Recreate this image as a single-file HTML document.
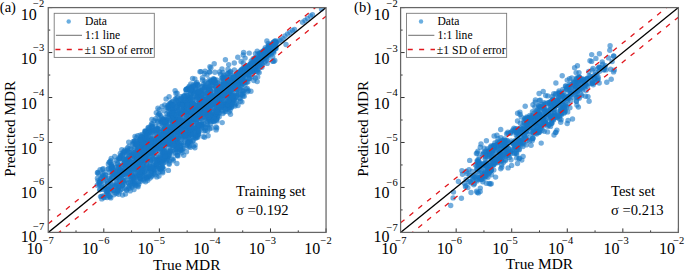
<!DOCTYPE html><html><head><meta charset="utf-8"><style>html,body{margin:0;padding:0;background:#fff;}svg{display:block}</style></head><body><svg xmlns="http://www.w3.org/2000/svg" width="685" height="270" viewBox="0 0 685 270" font-family="Liberation Serif, serif" fill="#000">
<defs><clipPath id="clipa"><rect x="48.25" y="7.6" width="277.8" height="224.8"/></clipPath><clipPath id="clipb"><rect x="400.6" y="7.6" width="277.79999999999995" height="224.8"/></clipPath></defs>
<g clip-path="url(#clipa)" fill="rgb(22,118,198)" fill-opacity="0.6"><circle cx="209.9" cy="71.9" r="2.7"/><circle cx="204.5" cy="104.4" r="2.7"/><circle cx="132.7" cy="181.9" r="2.7"/><circle cx="148.9" cy="151.6" r="2.7"/><circle cx="201.2" cy="100.6" r="2.7"/><circle cx="223.6" cy="88.9" r="2.7"/><circle cx="250.4" cy="66.1" r="2.7"/><circle cx="153.2" cy="150.4" r="2.7"/><circle cx="242.7" cy="91.1" r="2.7"/><circle cx="131.5" cy="154.8" r="2.7"/><circle cx="197.6" cy="123.7" r="2.7"/><circle cx="243.7" cy="93.3" r="2.7"/><circle cx="216.7" cy="127.9" r="2.7"/><circle cx="134.6" cy="161.9" r="2.7"/><circle cx="148.4" cy="149.2" r="2.7"/><circle cx="231.7" cy="98.8" r="2.7"/><circle cx="209.8" cy="118.6" r="2.7"/><circle cx="209.4" cy="89.4" r="2.7"/><circle cx="209.3" cy="71.9" r="2.7"/><circle cx="246.3" cy="67.3" r="2.7"/><circle cx="234.8" cy="84.0" r="2.7"/><circle cx="177.4" cy="97.6" r="2.7"/><circle cx="104.2" cy="182.1" r="2.7"/><circle cx="198.7" cy="133.9" r="2.7"/><circle cx="148.0" cy="176.6" r="2.7"/><circle cx="255.5" cy="53.6" r="2.7"/><circle cx="249.8" cy="71.0" r="2.7"/><circle cx="153.5" cy="170.1" r="2.7"/><circle cx="192.6" cy="78.5" r="2.7"/><circle cx="194.9" cy="116.0" r="2.7"/><circle cx="166.2" cy="136.7" r="2.7"/><circle cx="206.5" cy="101.8" r="2.7"/><circle cx="258.9" cy="61.9" r="2.7"/><circle cx="175.8" cy="115.3" r="2.7"/><circle cx="230.3" cy="72.2" r="2.7"/><circle cx="187.5" cy="126.3" r="2.7"/><circle cx="213.7" cy="93.2" r="2.7"/><circle cx="116.8" cy="177.5" r="2.7"/><circle cx="245.1" cy="68.1" r="2.7"/><circle cx="239.4" cy="78.5" r="2.7"/><circle cx="146.1" cy="152.1" r="2.7"/><circle cx="253.2" cy="58.8" r="2.7"/><circle cx="231.4" cy="107.1" r="2.7"/><circle cx="137.8" cy="163.3" r="2.7"/><circle cx="194.1" cy="109.6" r="2.7"/><circle cx="150.6" cy="153.5" r="2.7"/><circle cx="179.1" cy="127.4" r="2.7"/><circle cx="108.3" cy="188.7" r="2.7"/><circle cx="187.7" cy="144.3" r="2.7"/><circle cx="141.3" cy="151.1" r="2.7"/><circle cx="261.7" cy="51.9" r="2.7"/><circle cx="238.3" cy="84.3" r="2.7"/><circle cx="112.5" cy="169.7" r="2.7"/><circle cx="275.3" cy="45.3" r="2.7"/><circle cx="133.6" cy="178.2" r="2.7"/><circle cx="234.8" cy="82.4" r="2.7"/><circle cx="257.2" cy="69.8" r="2.7"/><circle cx="214.9" cy="72.3" r="2.7"/><circle cx="166.6" cy="156.8" r="2.7"/><circle cx="206.5" cy="111.1" r="2.7"/><circle cx="123.1" cy="158.2" r="2.7"/><circle cx="122.4" cy="185.3" r="2.7"/><circle cx="151.1" cy="138.7" r="2.7"/><circle cx="244.2" cy="79.5" r="2.7"/><circle cx="181.8" cy="127.1" r="2.7"/><circle cx="182.6" cy="132.9" r="2.7"/><circle cx="207.1" cy="92.8" r="2.7"/><circle cx="232.7" cy="84.5" r="2.7"/><circle cx="192.1" cy="136.3" r="2.7"/><circle cx="168.8" cy="135.4" r="2.7"/><circle cx="146.1" cy="158.4" r="2.7"/><circle cx="118.6" cy="165.2" r="2.7"/><circle cx="181.5" cy="143.4" r="2.7"/><circle cx="250.0" cy="71.1" r="2.7"/><circle cx="162.7" cy="172.7" r="2.7"/><circle cx="130.2" cy="148.4" r="2.7"/><circle cx="98.2" cy="173.6" r="2.7"/><circle cx="163.1" cy="138.2" r="2.7"/><circle cx="182.5" cy="122.8" r="2.7"/><circle cx="140.9" cy="173.7" r="2.7"/><circle cx="144.2" cy="142.7" r="2.7"/><circle cx="214.5" cy="108.4" r="2.7"/><circle cx="225.4" cy="85.6" r="2.7"/><circle cx="176.6" cy="140.5" r="2.7"/><circle cx="161.5" cy="136.8" r="2.7"/><circle cx="178.3" cy="113.8" r="2.7"/><circle cx="207.7" cy="108.6" r="2.7"/><circle cx="197.7" cy="85.4" r="2.7"/><circle cx="164.2" cy="159.7" r="2.7"/><circle cx="215.0" cy="117.6" r="2.7"/><circle cx="130.3" cy="182.1" r="2.7"/><circle cx="183.6" cy="144.9" r="2.7"/><circle cx="107.6" cy="183.1" r="2.7"/><circle cx="201.4" cy="124.2" r="2.7"/><circle cx="159.7" cy="160.5" r="2.7"/><circle cx="183.1" cy="101.6" r="2.7"/><circle cx="110.5" cy="179.5" r="2.7"/><circle cx="256.6" cy="59.3" r="2.7"/><circle cx="160.7" cy="155.1" r="2.7"/><circle cx="200.3" cy="114.4" r="2.7"/><circle cx="190.1" cy="93.1" r="2.7"/><circle cx="190.8" cy="97.7" r="2.7"/><circle cx="193.4" cy="146.2" r="2.7"/><circle cx="151.5" cy="123.9" r="2.7"/><circle cx="124.4" cy="162.9" r="2.7"/><circle cx="202.2" cy="86.8" r="2.7"/><circle cx="151.2" cy="173.6" r="2.7"/><circle cx="195.4" cy="85.5" r="2.7"/><circle cx="110.1" cy="185.9" r="2.7"/><circle cx="240.4" cy="101.2" r="2.7"/><circle cx="238.5" cy="94.0" r="2.7"/><circle cx="215.4" cy="115.1" r="2.7"/><circle cx="211.9" cy="98.0" r="2.7"/><circle cx="238.8" cy="78.0" r="2.7"/><circle cx="117.8" cy="190.7" r="2.7"/><circle cx="174.5" cy="118.0" r="2.7"/><circle cx="183.9" cy="107.8" r="2.7"/><circle cx="196.1" cy="138.0" r="2.7"/><circle cx="139.7" cy="139.2" r="2.7"/><circle cx="186.8" cy="115.5" r="2.7"/><circle cx="197.7" cy="125.3" r="2.7"/><circle cx="264.5" cy="58.3" r="2.7"/><circle cx="230.3" cy="88.0" r="2.7"/><circle cx="157.9" cy="108.3" r="2.7"/><circle cx="136.2" cy="163.6" r="2.7"/><circle cx="253.0" cy="66.1" r="2.7"/><circle cx="176.9" cy="163.5" r="2.7"/><circle cx="210.7" cy="123.8" r="2.7"/><circle cx="133.1" cy="166.2" r="2.7"/><circle cx="244.9" cy="72.2" r="2.7"/><circle cx="146.9" cy="164.7" r="2.7"/><circle cx="110.9" cy="168.5" r="2.7"/><circle cx="177.2" cy="151.8" r="2.7"/><circle cx="248.9" cy="71.2" r="2.7"/><circle cx="156.8" cy="130.5" r="2.7"/><circle cx="123.5" cy="181.3" r="2.7"/><circle cx="163.9" cy="133.6" r="2.7"/><circle cx="213.1" cy="120.8" r="2.7"/><circle cx="193.9" cy="93.9" r="2.7"/><circle cx="222.0" cy="87.7" r="2.7"/><circle cx="166.1" cy="98.9" r="2.7"/><circle cx="139.5" cy="143.5" r="2.7"/><circle cx="164.1" cy="159.5" r="2.7"/><circle cx="177.8" cy="143.9" r="2.7"/><circle cx="217.4" cy="86.7" r="2.7"/><circle cx="140.3" cy="168.4" r="2.7"/><circle cx="240.5" cy="79.9" r="2.7"/><circle cx="149.2" cy="168.8" r="2.7"/><circle cx="181.5" cy="112.9" r="2.7"/><circle cx="177.3" cy="122.5" r="2.7"/><circle cx="268.3" cy="45.9" r="2.7"/><circle cx="217.2" cy="118.3" r="2.7"/><circle cx="229.8" cy="86.4" r="2.7"/><circle cx="202.5" cy="94.0" r="2.7"/><circle cx="179.6" cy="125.5" r="2.7"/><circle cx="145.6" cy="155.6" r="2.7"/><circle cx="216.0" cy="99.0" r="2.7"/><circle cx="148.9" cy="146.3" r="2.7"/><circle cx="213.6" cy="82.2" r="2.7"/><circle cx="255.6" cy="66.4" r="2.7"/><circle cx="162.7" cy="159.8" r="2.7"/><circle cx="206.2" cy="104.6" r="2.7"/><circle cx="161.3" cy="151.5" r="2.7"/><circle cx="173.8" cy="111.4" r="2.7"/><circle cx="239.3" cy="72.5" r="2.7"/><circle cx="216.6" cy="103.4" r="2.7"/><circle cx="241.0" cy="80.3" r="2.7"/><circle cx="227.5" cy="85.0" r="2.7"/><circle cx="265.8" cy="53.9" r="2.7"/><circle cx="232.9" cy="97.0" r="2.7"/><circle cx="223.1" cy="91.5" r="2.7"/><circle cx="171.3" cy="114.7" r="2.7"/><circle cx="275.9" cy="42.9" r="2.7"/><circle cx="129.6" cy="168.7" r="2.7"/><circle cx="259.3" cy="53.3" r="2.7"/><circle cx="171.2" cy="137.2" r="2.7"/><circle cx="187.5" cy="95.6" r="2.7"/><circle cx="235.1" cy="106.1" r="2.7"/><circle cx="193.3" cy="90.5" r="2.7"/><circle cx="151.1" cy="151.3" r="2.7"/><circle cx="266.4" cy="60.2" r="2.7"/><circle cx="183.9" cy="105.0" r="2.7"/><circle cx="157.9" cy="160.1" r="2.7"/><circle cx="195.5" cy="127.9" r="2.7"/><circle cx="222.2" cy="89.8" r="2.7"/><circle cx="192.6" cy="114.5" r="2.7"/><circle cx="252.9" cy="68.6" r="2.7"/><circle cx="154.5" cy="144.4" r="2.7"/><circle cx="178.6" cy="138.1" r="2.7"/><circle cx="173.0" cy="111.3" r="2.7"/><circle cx="177.7" cy="107.8" r="2.7"/><circle cx="184.9" cy="137.2" r="2.7"/><circle cx="259.2" cy="72.6" r="2.7"/><circle cx="132.9" cy="164.5" r="2.7"/><circle cx="223.3" cy="84.1" r="2.7"/><circle cx="199.3" cy="109.2" r="2.7"/><circle cx="237.7" cy="75.8" r="2.7"/><circle cx="249.7" cy="67.6" r="2.7"/><circle cx="167.9" cy="143.1" r="2.7"/><circle cx="118.8" cy="187.1" r="2.7"/><circle cx="133.2" cy="181.9" r="2.7"/><circle cx="230.7" cy="91.3" r="2.7"/><circle cx="220.6" cy="102.6" r="2.7"/><circle cx="128.2" cy="158.5" r="2.7"/><circle cx="184.2" cy="96.3" r="2.7"/><circle cx="102.4" cy="169.5" r="2.7"/><circle cx="230.8" cy="95.1" r="2.7"/><circle cx="261.2" cy="54.3" r="2.7"/><circle cx="214.6" cy="114.5" r="2.7"/><circle cx="200.6" cy="111.6" r="2.7"/><circle cx="145.0" cy="149.9" r="2.7"/><circle cx="162.6" cy="153.1" r="2.7"/><circle cx="172.8" cy="101.3" r="2.7"/><circle cx="174.1" cy="124.9" r="2.7"/><circle cx="201.0" cy="71.6" r="2.7"/><circle cx="252.4" cy="61.7" r="2.7"/><circle cx="201.7" cy="105.7" r="2.7"/><circle cx="168.6" cy="151.7" r="2.7"/><circle cx="156.5" cy="165.8" r="2.7"/><circle cx="146.3" cy="177.1" r="2.7"/><circle cx="168.4" cy="170.4" r="2.7"/><circle cx="121.2" cy="176.1" r="2.7"/><circle cx="152.2" cy="166.6" r="2.7"/><circle cx="163.5" cy="122.6" r="2.7"/><circle cx="228.2" cy="91.0" r="2.7"/><circle cx="223.9" cy="84.3" r="2.7"/><circle cx="117.6" cy="163.7" r="2.7"/><circle cx="104.1" cy="172.2" r="2.7"/><circle cx="237.7" cy="89.1" r="2.7"/><circle cx="230.9" cy="105.4" r="2.7"/><circle cx="111.9" cy="166.8" r="2.7"/><circle cx="151.4" cy="139.4" r="2.7"/><circle cx="216.3" cy="119.5" r="2.7"/><circle cx="240.0" cy="85.5" r="2.7"/><circle cx="236.1" cy="84.2" r="2.7"/><circle cx="179.4" cy="124.1" r="2.7"/><circle cx="186.2" cy="124.1" r="2.7"/><circle cx="146.6" cy="156.7" r="2.7"/><circle cx="176.2" cy="146.8" r="2.7"/><circle cx="152.9" cy="158.2" r="2.7"/><circle cx="218.4" cy="101.4" r="2.7"/><circle cx="166.9" cy="123.0" r="2.7"/><circle cx="252.6" cy="71.8" r="2.7"/><circle cx="180.8" cy="112.2" r="2.7"/><circle cx="194.9" cy="137.9" r="2.7"/><circle cx="136.3" cy="156.4" r="2.7"/><circle cx="222.1" cy="93.5" r="2.7"/><circle cx="144.6" cy="154.3" r="2.7"/><circle cx="174.5" cy="121.7" r="2.7"/><circle cx="158.7" cy="159.0" r="2.7"/><circle cx="224.3" cy="88.0" r="2.7"/><circle cx="246.3" cy="89.1" r="2.7"/><circle cx="231.1" cy="100.9" r="2.7"/><circle cx="267.2" cy="63.4" r="2.7"/><circle cx="179.5" cy="122.4" r="2.7"/><circle cx="124.4" cy="174.1" r="2.7"/><circle cx="156.8" cy="176.9" r="2.7"/><circle cx="172.6" cy="127.0" r="2.7"/><circle cx="230.7" cy="86.8" r="2.7"/><circle cx="235.8" cy="80.7" r="2.7"/><circle cx="169.4" cy="114.0" r="2.7"/><circle cx="218.6" cy="105.1" r="2.7"/><circle cx="239.5" cy="98.0" r="2.7"/><circle cx="196.9" cy="114.0" r="2.7"/><circle cx="193.3" cy="107.1" r="2.7"/><circle cx="202.6" cy="100.7" r="2.7"/><circle cx="154.6" cy="130.1" r="2.7"/><circle cx="161.0" cy="134.9" r="2.7"/><circle cx="128.1" cy="169.9" r="2.7"/><circle cx="209.9" cy="115.8" r="2.7"/><circle cx="243.7" cy="90.9" r="2.7"/><circle cx="111.4" cy="166.3" r="2.7"/><circle cx="262.0" cy="60.3" r="2.7"/><circle cx="164.7" cy="122.7" r="2.7"/><circle cx="206.5" cy="87.6" r="2.7"/><circle cx="139.0" cy="160.0" r="2.7"/><circle cx="147.0" cy="138.3" r="2.7"/><circle cx="243.6" cy="52.5" r="2.7"/><circle cx="168.5" cy="131.8" r="2.7"/><circle cx="116.6" cy="193.2" r="2.7"/><circle cx="119.8" cy="165.7" r="2.7"/><circle cx="147.3" cy="154.0" r="2.7"/><circle cx="107.6" cy="189.5" r="2.7"/><circle cx="159.5" cy="142.3" r="2.7"/><circle cx="208.2" cy="114.5" r="2.7"/><circle cx="141.7" cy="150.4" r="2.7"/><circle cx="140.4" cy="178.7" r="2.7"/><circle cx="180.6" cy="100.4" r="2.7"/><circle cx="196.1" cy="114.6" r="2.7"/><circle cx="137.7" cy="135.8" r="2.7"/><circle cx="213.5" cy="82.6" r="2.7"/><circle cx="173.6" cy="119.2" r="2.7"/><circle cx="137.0" cy="157.2" r="2.7"/><circle cx="155.0" cy="144.1" r="2.7"/><circle cx="134.3" cy="148.3" r="2.7"/><circle cx="180.4" cy="148.3" r="2.7"/><circle cx="261.3" cy="55.0" r="2.7"/><circle cx="101.7" cy="196.2" r="2.7"/><circle cx="165.0" cy="123.9" r="2.7"/><circle cx="143.3" cy="136.1" r="2.7"/><circle cx="182.8" cy="120.9" r="2.7"/><circle cx="223.0" cy="107.3" r="2.7"/><circle cx="222.8" cy="94.7" r="2.7"/><circle cx="213.7" cy="114.3" r="2.7"/><circle cx="203.7" cy="107.8" r="2.7"/><circle cx="267.8" cy="53.9" r="2.7"/><circle cx="113.2" cy="169.9" r="2.7"/><circle cx="123.3" cy="159.4" r="2.7"/><circle cx="223.7" cy="82.9" r="2.7"/><circle cx="142.4" cy="150.2" r="2.7"/><circle cx="228.0" cy="69.3" r="2.7"/><circle cx="158.9" cy="168.2" r="2.7"/><circle cx="157.4" cy="161.9" r="2.7"/><circle cx="144.0" cy="162.0" r="2.7"/><circle cx="223.5" cy="92.0" r="2.7"/><circle cx="231.0" cy="99.9" r="2.7"/><circle cx="205.1" cy="71.3" r="2.7"/><circle cx="211.5" cy="128.0" r="2.7"/><circle cx="200.7" cy="116.8" r="2.7"/><circle cx="169.5" cy="127.4" r="2.7"/><circle cx="172.0" cy="151.1" r="2.7"/><circle cx="162.4" cy="135.2" r="2.7"/><circle cx="165.9" cy="135.3" r="2.7"/><circle cx="177.1" cy="93.1" r="2.7"/><circle cx="223.4" cy="102.5" r="2.7"/><circle cx="128.0" cy="157.9" r="2.7"/><circle cx="133.2" cy="184.3" r="2.7"/><circle cx="236.3" cy="74.9" r="2.7"/><circle cx="192.2" cy="90.1" r="2.7"/><circle cx="112.4" cy="184.9" r="2.7"/><circle cx="117.3" cy="191.0" r="2.7"/><circle cx="200.9" cy="119.1" r="2.7"/><circle cx="161.1" cy="141.6" r="2.7"/><circle cx="187.3" cy="122.9" r="2.7"/><circle cx="146.9" cy="152.5" r="2.7"/><circle cx="222.5" cy="93.6" r="2.7"/><circle cx="269.6" cy="51.5" r="2.7"/><circle cx="99.5" cy="181.6" r="2.7"/><circle cx="183.8" cy="135.5" r="2.7"/><circle cx="137.0" cy="150.6" r="2.7"/><circle cx="107.3" cy="191.8" r="2.7"/><circle cx="249.8" cy="67.0" r="2.7"/><circle cx="208.7" cy="90.7" r="2.7"/><circle cx="147.3" cy="178.6" r="2.7"/><circle cx="178.6" cy="119.2" r="2.7"/><circle cx="186.0" cy="89.9" r="2.7"/><circle cx="203.6" cy="84.2" r="2.7"/><circle cx="242.0" cy="83.6" r="2.7"/><circle cx="120.2" cy="170.2" r="2.7"/><circle cx="119.7" cy="170.1" r="2.7"/><circle cx="159.7" cy="143.8" r="2.7"/><circle cx="233.4" cy="78.9" r="2.7"/><circle cx="243.2" cy="79.1" r="2.7"/><circle cx="135.7" cy="161.4" r="2.7"/><circle cx="185.8" cy="128.8" r="2.7"/><circle cx="207.8" cy="111.0" r="2.7"/><circle cx="234.0" cy="100.2" r="2.7"/><circle cx="99.6" cy="185.1" r="2.7"/><circle cx="230.1" cy="92.8" r="2.7"/><circle cx="179.2" cy="105.2" r="2.7"/><circle cx="163.0" cy="155.2" r="2.7"/><circle cx="184.7" cy="105.9" r="2.7"/><circle cx="242.0" cy="81.7" r="2.7"/><circle cx="197.5" cy="135.2" r="2.7"/><circle cx="156.8" cy="159.2" r="2.7"/><circle cx="132.1" cy="187.2" r="2.7"/><circle cx="181.5" cy="103.9" r="2.7"/><circle cx="251.2" cy="67.2" r="2.7"/><circle cx="193.3" cy="140.5" r="2.7"/><circle cx="192.1" cy="96.9" r="2.7"/><circle cx="118.6" cy="171.5" r="2.7"/><circle cx="186.1" cy="104.4" r="2.7"/><circle cx="116.9" cy="175.2" r="2.7"/><circle cx="228.3" cy="88.2" r="2.7"/><circle cx="198.7" cy="106.2" r="2.7"/><circle cx="181.3" cy="98.1" r="2.7"/><circle cx="223.8" cy="75.2" r="2.7"/><circle cx="119.1" cy="158.6" r="2.7"/><circle cx="246.6" cy="74.3" r="2.7"/><circle cx="158.7" cy="137.3" r="2.7"/><circle cx="253.4" cy="62.1" r="2.7"/><circle cx="145.6" cy="181.8" r="2.7"/><circle cx="213.6" cy="97.5" r="2.7"/><circle cx="199.7" cy="114.5" r="2.7"/><circle cx="191.1" cy="129.4" r="2.7"/><circle cx="268.5" cy="48.6" r="2.7"/><circle cx="142.3" cy="134.5" r="2.7"/><circle cx="134.4" cy="183.2" r="2.7"/><circle cx="263.6" cy="57.9" r="2.7"/><circle cx="257.3" cy="59.6" r="2.7"/><circle cx="167.7" cy="137.9" r="2.7"/><circle cx="218.8" cy="110.6" r="2.7"/><circle cx="187.3" cy="123.1" r="2.7"/><circle cx="137.2" cy="161.2" r="2.7"/><circle cx="167.2" cy="143.8" r="2.7"/><circle cx="153.4" cy="158.7" r="2.7"/><circle cx="185.1" cy="121.8" r="2.7"/><circle cx="212.5" cy="119.6" r="2.7"/><circle cx="223.2" cy="87.6" r="2.7"/><circle cx="199.0" cy="116.8" r="2.7"/><circle cx="177.4" cy="154.9" r="2.7"/><circle cx="218.1" cy="101.4" r="2.7"/><circle cx="175.1" cy="90.6" r="2.7"/><circle cx="136.7" cy="153.5" r="2.7"/><circle cx="224.2" cy="107.6" r="2.7"/><circle cx="146.0" cy="139.5" r="2.7"/><circle cx="167.7" cy="155.1" r="2.7"/><circle cx="169.2" cy="144.1" r="2.7"/><circle cx="183.9" cy="126.2" r="2.7"/><circle cx="208.7" cy="107.0" r="2.7"/><circle cx="129.1" cy="173.0" r="2.7"/><circle cx="196.7" cy="128.1" r="2.7"/><circle cx="184.2" cy="142.5" r="2.7"/><circle cx="190.7" cy="108.5" r="2.7"/><circle cx="217.3" cy="109.2" r="2.7"/><circle cx="207.5" cy="130.9" r="2.7"/><circle cx="256.1" cy="59.6" r="2.7"/><circle cx="265.9" cy="55.5" r="2.7"/><circle cx="142.0" cy="141.1" r="2.7"/><circle cx="267.9" cy="58.3" r="2.7"/><circle cx="219.8" cy="99.9" r="2.7"/><circle cx="116.1" cy="178.9" r="2.7"/><circle cx="139.4" cy="147.7" r="2.7"/><circle cx="249.0" cy="68.2" r="2.7"/><circle cx="237.1" cy="95.1" r="2.7"/><circle cx="266.9" cy="41.0" r="2.7"/><circle cx="189.9" cy="134.1" r="2.7"/><circle cx="161.7" cy="168.2" r="2.7"/><circle cx="220.0" cy="94.3" r="2.7"/><circle cx="190.4" cy="131.2" r="2.7"/><circle cx="210.7" cy="85.3" r="2.7"/><circle cx="217.4" cy="115.9" r="2.7"/><circle cx="132.0" cy="179.2" r="2.7"/><circle cx="197.2" cy="136.6" r="2.7"/><circle cx="199.0" cy="102.2" r="2.7"/><circle cx="126.6" cy="151.1" r="2.7"/><circle cx="207.4" cy="121.6" r="2.7"/><circle cx="119.2" cy="158.8" r="2.7"/><circle cx="148.1" cy="154.3" r="2.7"/><circle cx="158.0" cy="115.3" r="2.7"/><circle cx="192.2" cy="119.4" r="2.7"/><circle cx="272.3" cy="48.2" r="2.7"/><circle cx="150.8" cy="143.4" r="2.7"/><circle cx="138.9" cy="163.7" r="2.7"/><circle cx="235.4" cy="79.7" r="2.7"/><circle cx="251.9" cy="65.0" r="2.7"/><circle cx="196.8" cy="82.5" r="2.7"/><circle cx="159.0" cy="114.3" r="2.7"/><circle cx="221.5" cy="96.3" r="2.7"/><circle cx="201.6" cy="110.1" r="2.7"/><circle cx="246.9" cy="67.7" r="2.7"/><circle cx="221.1" cy="99.3" r="2.7"/><circle cx="249.7" cy="74.4" r="2.7"/><circle cx="249.2" cy="67.7" r="2.7"/><circle cx="232.3" cy="81.6" r="2.7"/><circle cx="182.1" cy="127.0" r="2.7"/><circle cx="248.8" cy="70.8" r="2.7"/><circle cx="196.4" cy="92.6" r="2.7"/><circle cx="209.3" cy="97.2" r="2.7"/><circle cx="266.5" cy="54.2" r="2.7"/><circle cx="194.2" cy="129.6" r="2.7"/><circle cx="118.2" cy="160.7" r="2.7"/><circle cx="201.7" cy="105.0" r="2.7"/><circle cx="231.8" cy="83.1" r="2.7"/><circle cx="264.2" cy="50.2" r="2.7"/><circle cx="229.7" cy="83.4" r="2.7"/><circle cx="172.4" cy="125.4" r="2.7"/><circle cx="250.7" cy="67.1" r="2.7"/><circle cx="214.1" cy="99.3" r="2.7"/><circle cx="182.6" cy="101.3" r="2.7"/><circle cx="118.3" cy="177.8" r="2.7"/><circle cx="191.3" cy="108.3" r="2.7"/><circle cx="172.2" cy="145.0" r="2.7"/><circle cx="193.6" cy="103.8" r="2.7"/><circle cx="124.6" cy="152.2" r="2.7"/><circle cx="198.4" cy="131.4" r="2.7"/><circle cx="176.9" cy="141.9" r="2.7"/><circle cx="225.4" cy="92.3" r="2.7"/><circle cx="232.1" cy="80.6" r="2.7"/><circle cx="111.3" cy="168.6" r="2.7"/><circle cx="144.9" cy="131.0" r="2.7"/><circle cx="223.3" cy="85.3" r="2.7"/><circle cx="213.6" cy="88.7" r="2.7"/><circle cx="272.3" cy="47.0" r="2.7"/><circle cx="137.3" cy="149.8" r="2.7"/><circle cx="118.7" cy="167.0" r="2.7"/><circle cx="172.8" cy="109.9" r="2.7"/><circle cx="198.4" cy="126.4" r="2.7"/><circle cx="260.7" cy="54.2" r="2.7"/><circle cx="248.3" cy="74.9" r="2.7"/><circle cx="139.9" cy="160.0" r="2.7"/><circle cx="131.5" cy="174.3" r="2.7"/><circle cx="134.0" cy="157.0" r="2.7"/><circle cx="213.6" cy="104.0" r="2.7"/><circle cx="202.3" cy="114.0" r="2.7"/><circle cx="163.5" cy="138.3" r="2.7"/><circle cx="194.9" cy="147.7" r="2.7"/><circle cx="210.6" cy="115.4" r="2.7"/><circle cx="244.7" cy="68.7" r="2.7"/><circle cx="210.7" cy="91.2" r="2.7"/><circle cx="171.2" cy="136.6" r="2.7"/><circle cx="172.3" cy="122.9" r="2.7"/><circle cx="255.5" cy="57.5" r="2.7"/><circle cx="113.9" cy="194.8" r="2.7"/><circle cx="143.3" cy="179.3" r="2.7"/><circle cx="202.6" cy="113.2" r="2.7"/><circle cx="232.8" cy="80.0" r="2.7"/><circle cx="160.1" cy="161.9" r="2.7"/><circle cx="229.5" cy="84.6" r="2.7"/><circle cx="190.9" cy="94.8" r="2.7"/><circle cx="128.4" cy="176.7" r="2.7"/><circle cx="127.8" cy="171.8" r="2.7"/><circle cx="268.4" cy="45.8" r="2.7"/><circle cx="137.9" cy="172.2" r="2.7"/><circle cx="97.2" cy="185.3" r="2.7"/><circle cx="178.1" cy="148.9" r="2.7"/><circle cx="161.4" cy="135.1" r="2.7"/><circle cx="191.1" cy="89.4" r="2.7"/><circle cx="257.8" cy="66.3" r="2.7"/><circle cx="221.5" cy="107.3" r="2.7"/><circle cx="234.3" cy="87.4" r="2.7"/><circle cx="176.6" cy="132.6" r="2.7"/><circle cx="194.9" cy="78.9" r="2.7"/><circle cx="271.2" cy="54.6" r="2.7"/><circle cx="155.8" cy="133.2" r="2.7"/><circle cx="164.9" cy="135.6" r="2.7"/><circle cx="256.3" cy="63.1" r="2.7"/><circle cx="204.4" cy="89.0" r="2.7"/><circle cx="176.2" cy="140.0" r="2.7"/><circle cx="229.6" cy="94.1" r="2.7"/><circle cx="148.7" cy="171.8" r="2.7"/><circle cx="149.7" cy="146.1" r="2.7"/><circle cx="179.1" cy="110.5" r="2.7"/><circle cx="129.1" cy="186.7" r="2.7"/><circle cx="228.7" cy="90.6" r="2.7"/><circle cx="160.2" cy="168.7" r="2.7"/><circle cx="181.3" cy="139.3" r="2.7"/><circle cx="165.1" cy="136.5" r="2.7"/><circle cx="200.4" cy="91.8" r="2.7"/><circle cx="144.6" cy="144.4" r="2.7"/><circle cx="134.2" cy="141.1" r="2.7"/><circle cx="253.2" cy="71.4" r="2.7"/><circle cx="171.0" cy="102.6" r="2.7"/><circle cx="237.7" cy="77.2" r="2.7"/><circle cx="253.8" cy="70.3" r="2.7"/><circle cx="226.7" cy="90.3" r="2.7"/><circle cx="143.2" cy="145.1" r="2.7"/><circle cx="237.1" cy="81.1" r="2.7"/><circle cx="162.8" cy="145.3" r="2.7"/><circle cx="224.6" cy="89.4" r="2.7"/><circle cx="104.4" cy="186.8" r="2.7"/><circle cx="128.3" cy="182.7" r="2.7"/><circle cx="227.2" cy="87.0" r="2.7"/><circle cx="188.2" cy="127.4" r="2.7"/><circle cx="168.6" cy="139.3" r="2.7"/><circle cx="184.4" cy="100.3" r="2.7"/><circle cx="205.4" cy="83.0" r="2.7"/><circle cx="145.9" cy="147.2" r="2.7"/><circle cx="187.2" cy="101.9" r="2.7"/><circle cx="199.4" cy="124.6" r="2.7"/><circle cx="242.4" cy="70.7" r="2.7"/><circle cx="154.0" cy="170.7" r="2.7"/><circle cx="199.0" cy="106.3" r="2.7"/><circle cx="255.3" cy="68.8" r="2.7"/><circle cx="143.8" cy="154.6" r="2.7"/><circle cx="173.9" cy="140.2" r="2.7"/><circle cx="142.2" cy="178.9" r="2.7"/><circle cx="125.2" cy="164.9" r="2.7"/><circle cx="240.5" cy="72.0" r="2.7"/><circle cx="139.7" cy="142.5" r="2.7"/><circle cx="197.3" cy="105.1" r="2.7"/><circle cx="161.5" cy="139.0" r="2.7"/><circle cx="239.4" cy="82.4" r="2.7"/><circle cx="245.8" cy="70.9" r="2.7"/><circle cx="226.5" cy="106.0" r="2.7"/><circle cx="199.9" cy="103.0" r="2.7"/><circle cx="222.7" cy="93.2" r="2.7"/><circle cx="173.1" cy="147.2" r="2.7"/><circle cx="166.6" cy="119.9" r="2.7"/><circle cx="133.7" cy="143.3" r="2.7"/><circle cx="161.0" cy="142.3" r="2.7"/><circle cx="155.8" cy="118.8" r="2.7"/><circle cx="184.6" cy="135.5" r="2.7"/><circle cx="161.3" cy="139.9" r="2.7"/><circle cx="197.3" cy="124.0" r="2.7"/><circle cx="257.4" cy="60.6" r="2.7"/><circle cx="244.7" cy="70.6" r="2.7"/><circle cx="231.0" cy="104.1" r="2.7"/><circle cx="170.8" cy="129.5" r="2.7"/><circle cx="203.8" cy="88.6" r="2.7"/><circle cx="210.2" cy="104.1" r="2.7"/><circle cx="150.1" cy="178.1" r="2.7"/><circle cx="136.4" cy="173.3" r="2.7"/><circle cx="162.6" cy="136.5" r="2.7"/><circle cx="161.8" cy="167.7" r="2.7"/><circle cx="197.0" cy="97.2" r="2.7"/><circle cx="159.2" cy="139.6" r="2.7"/><circle cx="168.9" cy="154.4" r="2.7"/><circle cx="273.7" cy="44.3" r="2.7"/><circle cx="158.1" cy="138.5" r="2.7"/><circle cx="247.6" cy="74.1" r="2.7"/><circle cx="179.8" cy="144.1" r="2.7"/><circle cx="171.0" cy="140.7" r="2.7"/><circle cx="255.2" cy="67.3" r="2.7"/><circle cx="265.0" cy="51.3" r="2.7"/><circle cx="161.2" cy="149.1" r="2.7"/><circle cx="240.4" cy="81.1" r="2.7"/><circle cx="187.5" cy="89.1" r="2.7"/><circle cx="146.6" cy="133.4" r="2.7"/><circle cx="142.0" cy="155.7" r="2.7"/><circle cx="233.3" cy="77.9" r="2.7"/><circle cx="236.6" cy="100.8" r="2.7"/><circle cx="195.6" cy="117.2" r="2.7"/><circle cx="164.8" cy="105.0" r="2.7"/><circle cx="197.3" cy="105.0" r="2.7"/><circle cx="217.6" cy="90.9" r="2.7"/><circle cx="274.8" cy="48.6" r="2.7"/><circle cx="149.0" cy="153.3" r="2.7"/><circle cx="210.1" cy="119.4" r="2.7"/><circle cx="209.5" cy="86.2" r="2.7"/><circle cx="134.0" cy="156.4" r="2.7"/><circle cx="238.4" cy="77.2" r="2.7"/><circle cx="178.4" cy="102.8" r="2.7"/><circle cx="168.9" cy="147.2" r="2.7"/><circle cx="199.7" cy="96.7" r="2.7"/><circle cx="152.3" cy="130.3" r="2.7"/><circle cx="127.3" cy="173.5" r="2.7"/><circle cx="224.7" cy="104.0" r="2.7"/><circle cx="216.5" cy="90.9" r="2.7"/><circle cx="179.6" cy="139.0" r="2.7"/><circle cx="217.8" cy="112.8" r="2.7"/><circle cx="134.6" cy="141.1" r="2.7"/><circle cx="167.9" cy="131.4" r="2.7"/><circle cx="190.9" cy="101.8" r="2.7"/><circle cx="195.8" cy="136.9" r="2.7"/><circle cx="167.8" cy="134.1" r="2.7"/><circle cx="169.6" cy="114.7" r="2.7"/><circle cx="171.9" cy="136.8" r="2.7"/><circle cx="241.2" cy="69.7" r="2.7"/><circle cx="178.4" cy="114.0" r="2.7"/><circle cx="236.4" cy="85.8" r="2.7"/><circle cx="213.3" cy="105.9" r="2.7"/><circle cx="197.9" cy="109.7" r="2.7"/><circle cx="184.9" cy="112.5" r="2.7"/><circle cx="257.0" cy="62.9" r="2.7"/><circle cx="249.9" cy="65.1" r="2.7"/><circle cx="181.0" cy="114.2" r="2.7"/><circle cx="248.9" cy="78.7" r="2.7"/><circle cx="140.8" cy="140.5" r="2.7"/><circle cx="209.1" cy="98.3" r="2.7"/><circle cx="113.3" cy="173.5" r="2.7"/><circle cx="170.7" cy="104.1" r="2.7"/><circle cx="240.2" cy="76.3" r="2.7"/><circle cx="168.7" cy="108.2" r="2.7"/><circle cx="136.0" cy="162.4" r="2.7"/><circle cx="161.7" cy="135.8" r="2.7"/><circle cx="173.1" cy="159.0" r="2.7"/><circle cx="192.9" cy="103.2" r="2.7"/><circle cx="140.7" cy="156.6" r="2.7"/><circle cx="163.5" cy="125.8" r="2.7"/><circle cx="250.9" cy="65.3" r="2.7"/><circle cx="213.5" cy="80.0" r="2.7"/><circle cx="136.5" cy="162.0" r="2.7"/><circle cx="239.1" cy="74.2" r="2.7"/><circle cx="222.8" cy="105.6" r="2.7"/><circle cx="257.7" cy="76.9" r="2.7"/><circle cx="171.9" cy="101.9" r="2.7"/><circle cx="266.7" cy="54.6" r="2.7"/><circle cx="187.7" cy="88.5" r="2.7"/><circle cx="269.1" cy="50.3" r="2.7"/><circle cx="137.8" cy="146.6" r="2.7"/><circle cx="157.6" cy="147.3" r="2.7"/><circle cx="186.2" cy="92.9" r="2.7"/><circle cx="263.9" cy="58.3" r="2.7"/><circle cx="187.2" cy="99.8" r="2.7"/><circle cx="98.1" cy="172.2" r="2.7"/><circle cx="130.8" cy="169.0" r="2.7"/><circle cx="260.1" cy="66.9" r="2.7"/><circle cx="153.4" cy="173.8" r="2.7"/><circle cx="118.8" cy="173.6" r="2.7"/><circle cx="200.0" cy="110.4" r="2.7"/><circle cx="248.4" cy="90.6" r="2.7"/><circle cx="216.1" cy="86.6" r="2.7"/><circle cx="159.4" cy="161.5" r="2.7"/><circle cx="132.0" cy="170.8" r="2.7"/><circle cx="223.0" cy="110.4" r="2.7"/><circle cx="183.7" cy="155.3" r="2.7"/><circle cx="185.4" cy="123.7" r="2.7"/><circle cx="226.5" cy="97.6" r="2.7"/><circle cx="211.0" cy="102.4" r="2.7"/><circle cx="167.3" cy="153.4" r="2.7"/><circle cx="253.9" cy="70.5" r="2.7"/><circle cx="222.9" cy="84.9" r="2.7"/><circle cx="191.8" cy="112.1" r="2.7"/><circle cx="177.0" cy="139.8" r="2.7"/><circle cx="231.8" cy="92.1" r="2.7"/><circle cx="115.0" cy="175.1" r="2.7"/><circle cx="135.3" cy="166.2" r="2.7"/><circle cx="189.3" cy="126.2" r="2.7"/><circle cx="252.5" cy="67.1" r="2.7"/><circle cx="213.6" cy="121.2" r="2.7"/><circle cx="225.2" cy="84.3" r="2.7"/><circle cx="250.9" cy="91.3" r="2.7"/><circle cx="195.1" cy="145.0" r="2.7"/><circle cx="221.2" cy="94.3" r="2.7"/><circle cx="123.1" cy="152.7" r="2.7"/><circle cx="138.8" cy="152.3" r="2.7"/><circle cx="157.4" cy="140.2" r="2.7"/><circle cx="254.7" cy="60.7" r="2.7"/><circle cx="145.7" cy="152.0" r="2.7"/><circle cx="194.4" cy="120.1" r="2.7"/><circle cx="135.0" cy="136.4" r="2.7"/><circle cx="123.9" cy="172.6" r="2.7"/><circle cx="236.0" cy="76.5" r="2.7"/><circle cx="163.4" cy="129.6" r="2.7"/><circle cx="201.8" cy="123.9" r="2.7"/><circle cx="196.6" cy="129.1" r="2.7"/><circle cx="120.8" cy="156.6" r="2.7"/><circle cx="173.4" cy="120.2" r="2.7"/><circle cx="221.1" cy="93.0" r="2.7"/><circle cx="178.5" cy="119.4" r="2.7"/><circle cx="133.1" cy="164.9" r="2.7"/><circle cx="162.1" cy="106.4" r="2.7"/><circle cx="160.4" cy="160.4" r="2.7"/><circle cx="193.2" cy="114.7" r="2.7"/><circle cx="238.5" cy="80.5" r="2.7"/><circle cx="142.8" cy="143.4" r="2.7"/><circle cx="170.3" cy="151.0" r="2.7"/><circle cx="150.6" cy="166.7" r="2.7"/><circle cx="193.1" cy="85.2" r="2.7"/><circle cx="224.4" cy="77.8" r="2.7"/><circle cx="250.9" cy="70.0" r="2.7"/><circle cx="199.6" cy="106.9" r="2.7"/><circle cx="196.2" cy="83.6" r="2.7"/><circle cx="205.4" cy="101.2" r="2.7"/><circle cx="217.0" cy="120.9" r="2.7"/><circle cx="198.5" cy="114.6" r="2.7"/><circle cx="217.6" cy="116.0" r="2.7"/><circle cx="229.1" cy="112.0" r="2.7"/><circle cx="195.9" cy="86.6" r="2.7"/><circle cx="167.2" cy="136.6" r="2.7"/><circle cx="178.0" cy="108.9" r="2.7"/><circle cx="188.8" cy="119.0" r="2.7"/><circle cx="151.7" cy="142.6" r="2.7"/><circle cx="197.5" cy="96.1" r="2.7"/><circle cx="155.9" cy="156.8" r="2.7"/><circle cx="187.5" cy="101.8" r="2.7"/><circle cx="100.2" cy="189.5" r="2.7"/><circle cx="167.9" cy="142.7" r="2.7"/><circle cx="123.1" cy="172.9" r="2.7"/><circle cx="231.6" cy="88.1" r="2.7"/><circle cx="227.0" cy="77.2" r="2.7"/><circle cx="270.1" cy="46.4" r="2.7"/><circle cx="190.6" cy="108.4" r="2.7"/><circle cx="154.8" cy="172.5" r="2.7"/><circle cx="253.3" cy="68.3" r="2.7"/><circle cx="250.4" cy="71.5" r="2.7"/><circle cx="139.2" cy="175.8" r="2.7"/><circle cx="266.4" cy="49.6" r="2.7"/><circle cx="228.2" cy="107.5" r="2.7"/><circle cx="208.8" cy="120.3" r="2.7"/><circle cx="226.9" cy="80.2" r="2.7"/><circle cx="272.3" cy="44.3" r="2.7"/><circle cx="247.8" cy="73.0" r="2.7"/><circle cx="108.2" cy="169.0" r="2.7"/><circle cx="233.2" cy="83.8" r="2.7"/><circle cx="151.0" cy="125.6" r="2.7"/><circle cx="177.3" cy="127.1" r="2.7"/><circle cx="207.7" cy="86.9" r="2.7"/><circle cx="135.0" cy="165.4" r="2.7"/><circle cx="119.5" cy="183.9" r="2.7"/><circle cx="218.8" cy="113.0" r="2.7"/><circle cx="153.8" cy="169.2" r="2.7"/><circle cx="242.5" cy="77.7" r="2.7"/><circle cx="186.8" cy="129.9" r="2.7"/><circle cx="183.7" cy="96.0" r="2.7"/><circle cx="133.4" cy="165.6" r="2.7"/><circle cx="112.7" cy="167.2" r="2.7"/><circle cx="182.8" cy="133.5" r="2.7"/><circle cx="215.4" cy="82.9" r="2.7"/><circle cx="152.0" cy="175.2" r="2.7"/><circle cx="214.3" cy="116.7" r="2.7"/><circle cx="146.1" cy="133.7" r="2.7"/><circle cx="215.9" cy="112.0" r="2.7"/><circle cx="155.1" cy="131.1" r="2.7"/><circle cx="272.2" cy="51.6" r="2.7"/><circle cx="151.3" cy="157.6" r="2.7"/><circle cx="176.0" cy="132.1" r="2.7"/><circle cx="241.3" cy="70.7" r="2.7"/><circle cx="239.6" cy="89.2" r="2.7"/><circle cx="140.0" cy="150.9" r="2.7"/><circle cx="238.2" cy="73.5" r="2.7"/><circle cx="177.9" cy="130.7" r="2.7"/><circle cx="155.5" cy="141.5" r="2.7"/><circle cx="195.4" cy="84.2" r="2.7"/><circle cx="151.4" cy="152.3" r="2.7"/><circle cx="222.5" cy="77.5" r="2.7"/><circle cx="157.0" cy="141.6" r="2.7"/><circle cx="139.2" cy="162.6" r="2.7"/><circle cx="152.0" cy="147.0" r="2.7"/><circle cx="176.4" cy="98.5" r="2.7"/><circle cx="189.6" cy="140.0" r="2.7"/><circle cx="272.9" cy="42.7" r="2.7"/><circle cx="165.9" cy="122.7" r="2.7"/><circle cx="165.1" cy="125.0" r="2.7"/><circle cx="232.3" cy="83.2" r="2.7"/><circle cx="228.3" cy="89.8" r="2.7"/><circle cx="151.8" cy="144.6" r="2.7"/><circle cx="219.3" cy="95.8" r="2.7"/><circle cx="241.9" cy="101.9" r="2.7"/><circle cx="187.6" cy="100.1" r="2.7"/><circle cx="163.7" cy="168.7" r="2.7"/><circle cx="193.3" cy="119.6" r="2.7"/><circle cx="188.0" cy="122.7" r="2.7"/><circle cx="214.1" cy="102.3" r="2.7"/><circle cx="228.1" cy="73.5" r="2.7"/><circle cx="166.3" cy="134.3" r="2.7"/><circle cx="162.9" cy="149.1" r="2.7"/><circle cx="240.9" cy="86.3" r="2.7"/><circle cx="145.4" cy="159.1" r="2.7"/><circle cx="172.2" cy="108.2" r="2.7"/><circle cx="201.0" cy="112.8" r="2.7"/><circle cx="173.3" cy="139.8" r="2.7"/><circle cx="135.6" cy="177.1" r="2.7"/><circle cx="130.9" cy="158.2" r="2.7"/><circle cx="261.8" cy="58.9" r="2.7"/><circle cx="255.0" cy="71.5" r="2.7"/><circle cx="217.2" cy="89.4" r="2.7"/><circle cx="210.4" cy="82.3" r="2.7"/><circle cx="202.7" cy="98.6" r="2.7"/><circle cx="217.5" cy="98.3" r="2.7"/><circle cx="268.3" cy="43.5" r="2.7"/><circle cx="166.8" cy="142.2" r="2.7"/><circle cx="166.2" cy="160.9" r="2.7"/><circle cx="217.4" cy="97.2" r="2.7"/><circle cx="157.4" cy="130.3" r="2.7"/><circle cx="156.1" cy="166.6" r="2.7"/><circle cx="101.8" cy="180.8" r="2.7"/><circle cx="222.2" cy="122.6" r="2.7"/><circle cx="176.3" cy="143.0" r="2.7"/><circle cx="214.3" cy="121.6" r="2.7"/><circle cx="239.6" cy="79.5" r="2.7"/><circle cx="140.5" cy="178.8" r="2.7"/><circle cx="258.7" cy="63.3" r="2.7"/><circle cx="161.9" cy="161.2" r="2.7"/><circle cx="132.1" cy="152.4" r="2.7"/><circle cx="104.3" cy="177.2" r="2.7"/><circle cx="155.6" cy="148.7" r="2.7"/><circle cx="137.7" cy="165.6" r="2.7"/><circle cx="204.7" cy="110.3" r="2.7"/><circle cx="180.9" cy="96.7" r="2.7"/><circle cx="189.0" cy="140.7" r="2.7"/><circle cx="203.5" cy="101.8" r="2.7"/><circle cx="178.6" cy="121.5" r="2.7"/><circle cx="171.0" cy="137.1" r="2.7"/><circle cx="173.5" cy="128.9" r="2.7"/><circle cx="122.6" cy="195.1" r="2.7"/><circle cx="188.5" cy="136.3" r="2.7"/><circle cx="247.8" cy="81.9" r="2.7"/><circle cx="190.7" cy="93.6" r="2.7"/><circle cx="142.0" cy="149.8" r="2.7"/><circle cx="220.0" cy="89.8" r="2.7"/><circle cx="126.1" cy="157.0" r="2.7"/><circle cx="256.5" cy="59.1" r="2.7"/><circle cx="227.7" cy="82.2" r="2.7"/><circle cx="116.6" cy="160.3" r="2.7"/><circle cx="174.2" cy="126.3" r="2.7"/><circle cx="169.2" cy="142.0" r="2.7"/><circle cx="129.6" cy="161.5" r="2.7"/><circle cx="227.3" cy="89.0" r="2.7"/><circle cx="179.0" cy="151.7" r="2.7"/><circle cx="115.3" cy="192.9" r="2.7"/><circle cx="161.6" cy="162.0" r="2.7"/><circle cx="173.6" cy="153.2" r="2.7"/><circle cx="190.7" cy="104.6" r="2.7"/><circle cx="166.7" cy="131.5" r="2.7"/><circle cx="244.7" cy="72.7" r="2.7"/><circle cx="227.3" cy="97.1" r="2.7"/><circle cx="184.0" cy="102.4" r="2.7"/><circle cx="198.0" cy="129.5" r="2.7"/><circle cx="186.2" cy="89.6" r="2.7"/><circle cx="164.7" cy="128.7" r="2.7"/><circle cx="127.1" cy="168.0" r="2.7"/><circle cx="137.5" cy="159.7" r="2.7"/><circle cx="120.9" cy="155.4" r="2.7"/><circle cx="174.7" cy="117.2" r="2.7"/><circle cx="225.5" cy="111.4" r="2.7"/><circle cx="153.2" cy="153.7" r="2.7"/><circle cx="174.4" cy="120.8" r="2.7"/><circle cx="226.7" cy="108.4" r="2.7"/><circle cx="169.9" cy="103.4" r="2.7"/><circle cx="140.3" cy="181.5" r="2.7"/><circle cx="187.9" cy="131.3" r="2.7"/><circle cx="143.0" cy="159.1" r="2.7"/><circle cx="169.3" cy="114.0" r="2.7"/><circle cx="183.5" cy="110.3" r="2.7"/><circle cx="193.2" cy="112.0" r="2.7"/><circle cx="125.1" cy="180.5" r="2.7"/><circle cx="192.6" cy="111.0" r="2.7"/><circle cx="205.2" cy="86.8" r="2.7"/><circle cx="141.2" cy="168.1" r="2.7"/><circle cx="231.6" cy="99.1" r="2.7"/><circle cx="171.3" cy="133.9" r="2.7"/><circle cx="219.2" cy="116.7" r="2.7"/><circle cx="240.4" cy="78.6" r="2.7"/><circle cx="121.1" cy="170.5" r="2.7"/><circle cx="267.6" cy="50.1" r="2.7"/><circle cx="148.4" cy="176.4" r="2.7"/><circle cx="235.0" cy="80.4" r="2.7"/><circle cx="256.2" cy="59.6" r="2.7"/><circle cx="100.1" cy="169.8" r="2.7"/><circle cx="126.5" cy="190.3" r="2.7"/><circle cx="238.0" cy="82.8" r="2.7"/><circle cx="128.9" cy="183.7" r="2.7"/><circle cx="191.0" cy="124.7" r="2.7"/><circle cx="204.8" cy="81.3" r="2.7"/><circle cx="158.6" cy="162.7" r="2.7"/><circle cx="141.7" cy="144.6" r="2.7"/><circle cx="144.4" cy="160.4" r="2.7"/><circle cx="233.7" cy="96.8" r="2.7"/><circle cx="173.2" cy="104.6" r="2.7"/><circle cx="143.6" cy="142.9" r="2.7"/><circle cx="177.1" cy="147.8" r="2.7"/><circle cx="245.2" cy="81.7" r="2.7"/><circle cx="213.4" cy="117.0" r="2.7"/><circle cx="135.0" cy="146.5" r="2.7"/><circle cx="163.8" cy="137.5" r="2.7"/><circle cx="223.4" cy="91.8" r="2.7"/><circle cx="122.4" cy="185.9" r="2.7"/><circle cx="160.2" cy="120.1" r="2.7"/><circle cx="213.3" cy="115.0" r="2.7"/><circle cx="117.2" cy="176.9" r="2.7"/><circle cx="163.8" cy="132.4" r="2.7"/><circle cx="213.1" cy="100.5" r="2.7"/><circle cx="187.7" cy="117.6" r="2.7"/><circle cx="146.0" cy="160.6" r="2.7"/><circle cx="180.8" cy="128.7" r="2.7"/><circle cx="254.4" cy="68.0" r="2.7"/><circle cx="246.5" cy="71.5" r="2.7"/><circle cx="240.7" cy="79.5" r="2.7"/><circle cx="150.8" cy="150.7" r="2.7"/><circle cx="258.2" cy="60.0" r="2.7"/><circle cx="137.9" cy="163.0" r="2.7"/><circle cx="133.1" cy="141.8" r="2.7"/><circle cx="221.3" cy="106.9" r="2.7"/><circle cx="113.4" cy="174.9" r="2.7"/><circle cx="158.4" cy="129.0" r="2.7"/><circle cx="135.3" cy="161.7" r="2.7"/><circle cx="135.3" cy="177.2" r="2.7"/><circle cx="187.5" cy="98.5" r="2.7"/><circle cx="183.4" cy="107.0" r="2.7"/><circle cx="169.3" cy="108.8" r="2.7"/><circle cx="161.6" cy="121.9" r="2.7"/><circle cx="118.3" cy="188.0" r="2.7"/><circle cx="174.3" cy="114.9" r="2.7"/><circle cx="136.0" cy="185.2" r="2.7"/><circle cx="202.2" cy="97.5" r="2.7"/><circle cx="227.7" cy="90.2" r="2.7"/><circle cx="175.7" cy="139.5" r="2.7"/><circle cx="255.3" cy="78.0" r="2.7"/><circle cx="176.2" cy="128.4" r="2.7"/><circle cx="218.3" cy="105.9" r="2.7"/><circle cx="166.2" cy="139.5" r="2.7"/><circle cx="209.9" cy="109.8" r="2.7"/><circle cx="199.6" cy="126.1" r="2.7"/><circle cx="146.7" cy="142.0" r="2.7"/><circle cx="150.2" cy="161.5" r="2.7"/><circle cx="145.0" cy="150.4" r="2.7"/><circle cx="175.9" cy="149.4" r="2.7"/><circle cx="173.2" cy="111.9" r="2.7"/><circle cx="138.1" cy="186.8" r="2.7"/><circle cx="192.7" cy="119.3" r="2.7"/><circle cx="198.3" cy="95.9" r="2.7"/><circle cx="113.1" cy="190.5" r="2.7"/><circle cx="244.2" cy="96.2" r="2.7"/><circle cx="234.7" cy="77.7" r="2.7"/><circle cx="192.8" cy="86.8" r="2.7"/><circle cx="215.7" cy="114.2" r="2.7"/><circle cx="191.2" cy="113.4" r="2.7"/><circle cx="111.8" cy="174.9" r="2.7"/><circle cx="225.9" cy="90.7" r="2.7"/><circle cx="155.9" cy="135.6" r="2.7"/><circle cx="164.1" cy="152.9" r="2.7"/><circle cx="269.7" cy="47.1" r="2.7"/><circle cx="158.2" cy="128.9" r="2.7"/><circle cx="147.8" cy="180.2" r="2.7"/><circle cx="160.8" cy="168.7" r="2.7"/><circle cx="214.2" cy="63.8" r="2.7"/><circle cx="159.9" cy="157.3" r="2.7"/><circle cx="190.7" cy="99.7" r="2.7"/><circle cx="127.8" cy="159.5" r="2.7"/><circle cx="216.7" cy="90.0" r="2.7"/><circle cx="231.0" cy="88.9" r="2.7"/><circle cx="192.2" cy="130.7" r="2.7"/><circle cx="182.7" cy="117.8" r="2.7"/><circle cx="137.8" cy="156.9" r="2.7"/><circle cx="263.9" cy="56.3" r="2.7"/><circle cx="153.2" cy="147.2" r="2.7"/><circle cx="201.1" cy="109.3" r="2.7"/><circle cx="164.0" cy="162.6" r="2.7"/><circle cx="140.5" cy="156.6" r="2.7"/><circle cx="238.0" cy="105.5" r="2.7"/><circle cx="230.5" cy="89.3" r="2.7"/><circle cx="211.7" cy="100.1" r="2.7"/><circle cx="216.7" cy="98.8" r="2.7"/><circle cx="146.5" cy="176.3" r="2.7"/><circle cx="166.2" cy="141.4" r="2.7"/><circle cx="139.1" cy="155.1" r="2.7"/><circle cx="100.0" cy="181.7" r="2.7"/><circle cx="266.2" cy="56.9" r="2.7"/><circle cx="216.0" cy="126.9" r="2.7"/><circle cx="264.0" cy="59.0" r="2.7"/><circle cx="233.7" cy="98.3" r="2.7"/><circle cx="185.7" cy="133.3" r="2.7"/><circle cx="242.4" cy="70.4" r="2.7"/><circle cx="218.0" cy="101.3" r="2.7"/><circle cx="132.3" cy="175.5" r="2.7"/><circle cx="211.9" cy="96.3" r="2.7"/><circle cx="163.1" cy="143.0" r="2.7"/><circle cx="227.1" cy="85.8" r="2.7"/><circle cx="97.5" cy="178.2" r="2.7"/><circle cx="192.4" cy="103.8" r="2.7"/><circle cx="234.0" cy="95.4" r="2.7"/><circle cx="159.0" cy="176.0" r="2.7"/><circle cx="139.5" cy="162.8" r="2.7"/><circle cx="139.7" cy="157.5" r="2.7"/><circle cx="230.3" cy="100.0" r="2.7"/><circle cx="171.6" cy="114.0" r="2.7"/><circle cx="261.9" cy="52.9" r="2.7"/><circle cx="127.0" cy="162.9" r="2.7"/><circle cx="120.1" cy="173.3" r="2.7"/><circle cx="179.4" cy="125.8" r="2.7"/><circle cx="208.6" cy="119.3" r="2.7"/><circle cx="156.6" cy="167.1" r="2.7"/><circle cx="269.5" cy="46.6" r="2.7"/><circle cx="212.1" cy="117.2" r="2.7"/><circle cx="166.5" cy="130.5" r="2.7"/><circle cx="265.1" cy="49.5" r="2.7"/><circle cx="121.8" cy="149.6" r="2.7"/><circle cx="136.0" cy="155.2" r="2.7"/><circle cx="122.0" cy="171.1" r="2.7"/><circle cx="194.3" cy="135.4" r="2.7"/><circle cx="162.3" cy="123.9" r="2.7"/><circle cx="268.4" cy="47.5" r="2.7"/><circle cx="240.3" cy="98.2" r="2.7"/><circle cx="138.7" cy="162.4" r="2.7"/><circle cx="122.4" cy="185.2" r="2.7"/><circle cx="153.2" cy="132.1" r="2.7"/><circle cx="111.6" cy="167.7" r="2.7"/><circle cx="132.3" cy="155.7" r="2.7"/><circle cx="242.0" cy="87.5" r="2.7"/><circle cx="104.3" cy="197.6" r="2.7"/><circle cx="232.2" cy="102.4" r="2.7"/><circle cx="140.9" cy="152.3" r="2.7"/><circle cx="151.0" cy="144.0" r="2.7"/><circle cx="135.5" cy="182.5" r="2.7"/><circle cx="161.0" cy="121.6" r="2.7"/><circle cx="161.4" cy="145.6" r="2.7"/><circle cx="163.0" cy="141.7" r="2.7"/><circle cx="126.0" cy="172.4" r="2.7"/><circle cx="148.4" cy="129.6" r="2.7"/><circle cx="158.4" cy="163.5" r="2.7"/><circle cx="196.1" cy="115.2" r="2.7"/><circle cx="201.0" cy="106.4" r="2.7"/><circle cx="125.9" cy="159.5" r="2.7"/><circle cx="184.8" cy="108.9" r="2.7"/><circle cx="190.3" cy="89.4" r="2.7"/><circle cx="245.0" cy="84.7" r="2.7"/><circle cx="242.8" cy="68.9" r="2.7"/><circle cx="102.5" cy="176.1" r="2.7"/><circle cx="173.4" cy="145.5" r="2.7"/><circle cx="237.3" cy="73.8" r="2.7"/><circle cx="172.6" cy="129.5" r="2.7"/><circle cx="209.5" cy="101.2" r="2.7"/><circle cx="165.1" cy="140.9" r="2.7"/><circle cx="219.2" cy="109.5" r="2.7"/><circle cx="217.6" cy="92.1" r="2.7"/><circle cx="140.6" cy="155.9" r="2.7"/><circle cx="235.6" cy="97.5" r="2.7"/><circle cx="150.7" cy="144.9" r="2.7"/><circle cx="167.5" cy="157.9" r="2.7"/><circle cx="245.7" cy="67.4" r="2.7"/><circle cx="225.8" cy="95.2" r="2.7"/><circle cx="156.9" cy="128.6" r="2.7"/><circle cx="236.8" cy="89.4" r="2.7"/><circle cx="139.8" cy="139.9" r="2.7"/><circle cx="240.9" cy="78.1" r="2.7"/><circle cx="135.2" cy="159.9" r="2.7"/><circle cx="229.2" cy="101.6" r="2.7"/><circle cx="188.2" cy="97.6" r="2.7"/><circle cx="213.4" cy="116.9" r="2.7"/><circle cx="177.1" cy="121.8" r="2.7"/><circle cx="166.8" cy="143.8" r="2.7"/><circle cx="174.0" cy="136.7" r="2.7"/><circle cx="143.6" cy="138.2" r="2.7"/><circle cx="186.7" cy="126.8" r="2.7"/><circle cx="198.3" cy="134.6" r="2.7"/><circle cx="256.9" cy="62.3" r="2.7"/><circle cx="116.0" cy="185.4" r="2.7"/><circle cx="273.5" cy="46.6" r="2.7"/><circle cx="144.3" cy="172.0" r="2.7"/><circle cx="144.9" cy="137.1" r="2.7"/><circle cx="204.9" cy="115.1" r="2.7"/><circle cx="196.8" cy="127.9" r="2.7"/><circle cx="137.8" cy="166.2" r="2.7"/><circle cx="209.5" cy="128.8" r="2.7"/><circle cx="177.4" cy="141.0" r="2.7"/><circle cx="183.0" cy="120.3" r="2.7"/><circle cx="167.0" cy="107.2" r="2.7"/><circle cx="150.2" cy="174.8" r="2.7"/><circle cx="162.4" cy="121.8" r="2.7"/><circle cx="241.3" cy="70.3" r="2.7"/><circle cx="227.0" cy="105.5" r="2.7"/><circle cx="159.9" cy="169.2" r="2.7"/><circle cx="148.3" cy="171.1" r="2.7"/><circle cx="249.1" cy="70.1" r="2.7"/><circle cx="127.2" cy="173.9" r="2.7"/><circle cx="146.1" cy="151.7" r="2.7"/><circle cx="169.9" cy="129.3" r="2.7"/><circle cx="195.1" cy="134.5" r="2.7"/><circle cx="194.1" cy="109.0" r="2.7"/><circle cx="180.3" cy="135.0" r="2.7"/><circle cx="164.4" cy="128.9" r="2.7"/><circle cx="257.2" cy="81.6" r="2.7"/><circle cx="138.2" cy="160.8" r="2.7"/><circle cx="214.0" cy="104.7" r="2.7"/><circle cx="121.4" cy="172.3" r="2.7"/><circle cx="142.6" cy="148.9" r="2.7"/><circle cx="187.7" cy="113.6" r="2.7"/><circle cx="231.3" cy="82.7" r="2.7"/><circle cx="185.1" cy="111.6" r="2.7"/><circle cx="204.3" cy="89.9" r="2.7"/><circle cx="237.8" cy="57.3" r="2.7"/><circle cx="106.9" cy="193.1" r="2.7"/><circle cx="173.1" cy="129.2" r="2.7"/><circle cx="102.8" cy="173.9" r="2.7"/><circle cx="209.0" cy="96.8" r="2.7"/><circle cx="218.7" cy="97.2" r="2.7"/><circle cx="141.4" cy="161.1" r="2.7"/><circle cx="254.3" cy="60.9" r="2.7"/><circle cx="142.8" cy="169.4" r="2.7"/><circle cx="187.9" cy="97.7" r="2.7"/><circle cx="207.9" cy="116.5" r="2.7"/><circle cx="241.1" cy="61.5" r="2.7"/><circle cx="102.8" cy="176.0" r="2.7"/><circle cx="262.1" cy="59.3" r="2.7"/><circle cx="258.2" cy="68.9" r="2.7"/><circle cx="151.6" cy="176.5" r="2.7"/><circle cx="227.8" cy="81.2" r="2.7"/><circle cx="135.1" cy="174.9" r="2.7"/><circle cx="244.9" cy="68.0" r="2.7"/><circle cx="191.2" cy="132.5" r="2.7"/><circle cx="163.6" cy="134.1" r="2.7"/><circle cx="144.4" cy="147.1" r="2.7"/><circle cx="228.6" cy="80.2" r="2.7"/><circle cx="122.4" cy="154.5" r="2.7"/><circle cx="134.4" cy="155.8" r="2.7"/><circle cx="199.7" cy="98.9" r="2.7"/><circle cx="209.3" cy="88.3" r="2.7"/><circle cx="186.7" cy="89.2" r="2.7"/><circle cx="221.2" cy="107.8" r="2.7"/><circle cx="253.9" cy="63.0" r="2.7"/><circle cx="186.9" cy="145.4" r="2.7"/><circle cx="265.3" cy="47.6" r="2.7"/><circle cx="108.2" cy="193.8" r="2.7"/><circle cx="176.2" cy="149.2" r="2.7"/><circle cx="224.4" cy="92.3" r="2.7"/><circle cx="211.8" cy="95.2" r="2.7"/><circle cx="239.1" cy="71.6" r="2.7"/><circle cx="183.5" cy="107.8" r="2.7"/><circle cx="211.0" cy="90.6" r="2.7"/><circle cx="143.2" cy="152.6" r="2.7"/><circle cx="273.6" cy="51.2" r="2.7"/><circle cx="261.5" cy="60.0" r="2.7"/><circle cx="185.3" cy="132.5" r="2.7"/><circle cx="200.0" cy="71.8" r="2.7"/><circle cx="134.9" cy="168.9" r="2.7"/><circle cx="198.6" cy="119.9" r="2.7"/><circle cx="270.9" cy="53.3" r="2.7"/><circle cx="225.8" cy="85.9" r="2.7"/><circle cx="192.7" cy="97.2" r="2.7"/><circle cx="115.0" cy="184.5" r="2.7"/><circle cx="135.5" cy="153.5" r="2.7"/><circle cx="226.8" cy="89.6" r="2.7"/><circle cx="192.6" cy="99.2" r="2.7"/><circle cx="174.6" cy="130.1" r="2.7"/><circle cx="223.1" cy="96.5" r="2.7"/><circle cx="167.7" cy="158.3" r="2.7"/><circle cx="178.5" cy="119.0" r="2.7"/><circle cx="275.4" cy="48.3" r="2.7"/><circle cx="142.0" cy="153.2" r="2.7"/><circle cx="126.0" cy="165.0" r="2.7"/><circle cx="224.0" cy="112.1" r="2.7"/><circle cx="247.0" cy="66.5" r="2.7"/><circle cx="160.5" cy="132.4" r="2.7"/><circle cx="216.1" cy="113.7" r="2.7"/><circle cx="182.0" cy="150.3" r="2.7"/><circle cx="118.6" cy="194.3" r="2.7"/><circle cx="246.6" cy="82.2" r="2.7"/><circle cx="158.3" cy="158.7" r="2.7"/><circle cx="261.2" cy="53.1" r="2.7"/><circle cx="173.2" cy="160.8" r="2.7"/><circle cx="190.3" cy="113.1" r="2.7"/><circle cx="252.1" cy="66.1" r="2.7"/><circle cx="228.9" cy="92.4" r="2.7"/><circle cx="119.7" cy="180.9" r="2.7"/><circle cx="159.4" cy="161.7" r="2.7"/><circle cx="233.5" cy="77.6" r="2.7"/><circle cx="176.4" cy="145.0" r="2.7"/><circle cx="144.6" cy="153.3" r="2.7"/><circle cx="234.6" cy="104.8" r="2.7"/><circle cx="215.4" cy="110.8" r="2.7"/><circle cx="224.1" cy="104.4" r="2.7"/><circle cx="179.1" cy="135.9" r="2.7"/><circle cx="166.9" cy="113.4" r="2.7"/><circle cx="145.5" cy="131.2" r="2.7"/><circle cx="198.9" cy="131.8" r="2.7"/><circle cx="192.5" cy="99.7" r="2.7"/><circle cx="223.5" cy="86.8" r="2.7"/><circle cx="181.4" cy="105.2" r="2.7"/><circle cx="199.6" cy="111.9" r="2.7"/><circle cx="112.1" cy="171.7" r="2.7"/><circle cx="203.3" cy="94.1" r="2.7"/><circle cx="152.3" cy="126.8" r="2.7"/><circle cx="141.8" cy="160.0" r="2.7"/><circle cx="183.0" cy="118.2" r="2.7"/><circle cx="204.6" cy="137.3" r="2.7"/><circle cx="138.4" cy="158.9" r="2.7"/><circle cx="171.2" cy="141.1" r="2.7"/><circle cx="251.0" cy="63.4" r="2.7"/><circle cx="208.6" cy="82.7" r="2.7"/><circle cx="199.0" cy="116.6" r="2.7"/><circle cx="140.1" cy="153.3" r="2.7"/><circle cx="231.5" cy="97.6" r="2.7"/><circle cx="275.5" cy="45.1" r="2.7"/><circle cx="166.5" cy="121.6" r="2.7"/><circle cx="159.0" cy="159.6" r="2.7"/><circle cx="210.2" cy="120.9" r="2.7"/><circle cx="210.7" cy="80.6" r="2.7"/><circle cx="250.9" cy="70.1" r="2.7"/><circle cx="151.9" cy="119.5" r="2.7"/><circle cx="216.1" cy="129.9" r="2.7"/><circle cx="270.0" cy="52.8" r="2.7"/><circle cx="189.1" cy="104.8" r="2.7"/><circle cx="221.6" cy="90.8" r="2.7"/><circle cx="232.9" cy="88.8" r="2.7"/><circle cx="159.0" cy="165.8" r="2.7"/><circle cx="157.2" cy="120.8" r="2.7"/><circle cx="217.7" cy="82.8" r="2.7"/><circle cx="131.8" cy="166.7" r="2.7"/><circle cx="175.9" cy="128.1" r="2.7"/><circle cx="243.2" cy="67.7" r="2.7"/><circle cx="162.5" cy="146.2" r="2.7"/><circle cx="177.4" cy="131.8" r="2.7"/><circle cx="157.8" cy="149.8" r="2.7"/><circle cx="126.0" cy="171.5" r="2.7"/><circle cx="115.3" cy="174.4" r="2.7"/><circle cx="142.1" cy="145.6" r="2.7"/><circle cx="211.1" cy="121.6" r="2.7"/><circle cx="152.5" cy="127.4" r="2.7"/><circle cx="111.0" cy="164.1" r="2.7"/><circle cx="229.0" cy="84.2" r="2.7"/><circle cx="194.1" cy="108.8" r="2.7"/><circle cx="110.0" cy="196.9" r="2.7"/><circle cx="222.3" cy="98.8" r="2.7"/><circle cx="267.6" cy="50.5" r="2.7"/><circle cx="156.8" cy="159.5" r="2.7"/><circle cx="137.0" cy="159.9" r="2.7"/><circle cx="116.3" cy="180.3" r="2.7"/><circle cx="105.3" cy="188.3" r="2.7"/><circle cx="124.3" cy="183.7" r="2.7"/><circle cx="251.9" cy="71.0" r="2.7"/><circle cx="216.0" cy="104.5" r="2.7"/><circle cx="243.6" cy="76.2" r="2.7"/><circle cx="206.6" cy="114.2" r="2.7"/><circle cx="180.9" cy="128.9" r="2.7"/><circle cx="140.6" cy="160.3" r="2.7"/><circle cx="120.5" cy="182.5" r="2.7"/><circle cx="216.8" cy="104.3" r="2.7"/><circle cx="160.8" cy="115.7" r="2.7"/><circle cx="107.9" cy="183.2" r="2.7"/><circle cx="260.0" cy="54.1" r="2.7"/><circle cx="153.8" cy="153.2" r="2.7"/><circle cx="255.6" cy="60.7" r="2.7"/><circle cx="132.0" cy="154.0" r="2.7"/><circle cx="127.4" cy="150.1" r="2.7"/><circle cx="203.3" cy="136.6" r="2.7"/><circle cx="148.0" cy="148.6" r="2.7"/><circle cx="202.0" cy="124.3" r="2.7"/><circle cx="97.4" cy="172.8" r="2.7"/><circle cx="223.6" cy="78.3" r="2.7"/><circle cx="190.9" cy="88.0" r="2.7"/><circle cx="249.2" cy="65.4" r="2.7"/><circle cx="173.8" cy="105.5" r="2.7"/><circle cx="179.9" cy="104.2" r="2.7"/><circle cx="192.9" cy="137.3" r="2.7"/><circle cx="193.7" cy="116.7" r="2.7"/><circle cx="116.7" cy="183.6" r="2.7"/><circle cx="252.9" cy="69.3" r="2.7"/><circle cx="160.9" cy="132.6" r="2.7"/><circle cx="110.8" cy="160.6" r="2.7"/><circle cx="131.4" cy="162.5" r="2.7"/><circle cx="177.3" cy="155.6" r="2.7"/><circle cx="114.6" cy="168.7" r="2.7"/><circle cx="141.8" cy="136.5" r="2.7"/><circle cx="151.0" cy="160.2" r="2.7"/><circle cx="264.6" cy="54.4" r="2.7"/><circle cx="108.5" cy="195.5" r="2.7"/><circle cx="248.8" cy="67.8" r="2.7"/><circle cx="172.5" cy="121.5" r="2.7"/><circle cx="246.2" cy="68.0" r="2.7"/><circle cx="275.9" cy="42.3" r="2.7"/><circle cx="107.0" cy="180.9" r="2.7"/><circle cx="196.6" cy="122.7" r="2.7"/><circle cx="183.3" cy="126.3" r="2.7"/><circle cx="163.3" cy="163.2" r="2.7"/><circle cx="217.0" cy="100.2" r="2.7"/><circle cx="183.5" cy="108.5" r="2.7"/><circle cx="155.9" cy="165.7" r="2.7"/><circle cx="189.1" cy="113.1" r="2.7"/><circle cx="273.5" cy="48.0" r="2.7"/><circle cx="209.3" cy="99.1" r="2.7"/><circle cx="206.1" cy="85.4" r="2.7"/><circle cx="166.8" cy="130.2" r="2.7"/><circle cx="128.7" cy="142.1" r="2.7"/><circle cx="167.6" cy="159.4" r="2.7"/><circle cx="210.1" cy="108.7" r="2.7"/><circle cx="190.7" cy="124.7" r="2.7"/><circle cx="116.8" cy="171.1" r="2.7"/><circle cx="142.1" cy="173.0" r="2.7"/><circle cx="222.0" cy="69.0" r="2.7"/><circle cx="176.5" cy="106.2" r="2.7"/><circle cx="196.6" cy="127.6" r="2.7"/><circle cx="166.3" cy="116.9" r="2.7"/><circle cx="207.6" cy="115.3" r="2.7"/><circle cx="255.5" cy="69.4" r="2.7"/><circle cx="192.6" cy="124.8" r="2.7"/><circle cx="198.1" cy="93.4" r="2.7"/><circle cx="237.9" cy="73.2" r="2.7"/><circle cx="217.2" cy="99.6" r="2.7"/><circle cx="211.4" cy="97.1" r="2.7"/><circle cx="223.4" cy="88.7" r="2.7"/><circle cx="114.7" cy="186.4" r="2.7"/><circle cx="216.3" cy="120.1" r="2.7"/><circle cx="189.2" cy="135.1" r="2.7"/><circle cx="143.3" cy="165.5" r="2.7"/><circle cx="204.9" cy="109.5" r="2.7"/><circle cx="205.1" cy="112.1" r="2.7"/><circle cx="111.7" cy="177.5" r="2.7"/><circle cx="141.6" cy="151.2" r="2.7"/><circle cx="223.3" cy="85.2" r="2.7"/><circle cx="276.0" cy="42.4" r="2.7"/><circle cx="200.2" cy="116.2" r="2.7"/><circle cx="187.7" cy="141.5" r="2.7"/><circle cx="185.5" cy="124.6" r="2.7"/><circle cx="166.3" cy="137.9" r="2.7"/><circle cx="272.7" cy="56.7" r="2.7"/><circle cx="162.5" cy="134.5" r="2.7"/><circle cx="254.1" cy="58.9" r="2.7"/><circle cx="196.9" cy="133.8" r="2.7"/><circle cx="225.2" cy="105.2" r="2.7"/><circle cx="141.4" cy="147.8" r="2.7"/><circle cx="227.3" cy="94.5" r="2.7"/><circle cx="164.3" cy="147.3" r="2.7"/><circle cx="103.4" cy="189.6" r="2.7"/><circle cx="107.7" cy="188.8" r="2.7"/><circle cx="273.0" cy="48.6" r="2.7"/><circle cx="177.0" cy="131.1" r="2.7"/><circle cx="208.2" cy="93.3" r="2.7"/><circle cx="151.8" cy="126.9" r="2.7"/><circle cx="201.1" cy="107.7" r="2.7"/><circle cx="148.9" cy="168.0" r="2.7"/><circle cx="251.5" cy="71.4" r="2.7"/><circle cx="104.0" cy="195.6" r="2.7"/><circle cx="197.4" cy="129.0" r="2.7"/><circle cx="255.3" cy="65.1" r="2.7"/><circle cx="168.7" cy="156.3" r="2.7"/><circle cx="222.8" cy="72.5" r="2.7"/><circle cx="184.5" cy="113.6" r="2.7"/><circle cx="144.4" cy="142.6" r="2.7"/><circle cx="141.6" cy="156.8" r="2.7"/><circle cx="187.8" cy="121.0" r="2.7"/><circle cx="234.4" cy="70.0" r="2.7"/><circle cx="137.6" cy="143.8" r="2.7"/><circle cx="122.1" cy="175.6" r="2.7"/><circle cx="227.9" cy="109.3" r="2.7"/><circle cx="163.8" cy="130.6" r="2.7"/><circle cx="177.0" cy="142.9" r="2.7"/><circle cx="160.1" cy="171.4" r="2.7"/><circle cx="140.9" cy="137.3" r="2.7"/><circle cx="247.4" cy="91.7" r="2.7"/><circle cx="226.4" cy="104.5" r="2.7"/><circle cx="131.5" cy="149.5" r="2.7"/><circle cx="149.4" cy="166.2" r="2.7"/><circle cx="131.1" cy="168.1" r="2.7"/><circle cx="158.2" cy="172.8" r="2.7"/><circle cx="243.3" cy="62.9" r="2.7"/><circle cx="163.6" cy="119.8" r="2.7"/><circle cx="179.3" cy="123.5" r="2.7"/><circle cx="169.0" cy="163.2" r="2.7"/><circle cx="127.2" cy="152.9" r="2.7"/><circle cx="232.8" cy="103.1" r="2.7"/><circle cx="188.9" cy="107.5" r="2.7"/><circle cx="221.8" cy="89.9" r="2.7"/><circle cx="242.2" cy="79.2" r="2.7"/><circle cx="190.0" cy="103.8" r="2.7"/><circle cx="177.4" cy="131.5" r="2.7"/><circle cx="123.5" cy="171.2" r="2.7"/><circle cx="150.2" cy="169.2" r="2.7"/><circle cx="153.9" cy="148.4" r="2.7"/><circle cx="151.3" cy="147.9" r="2.7"/><circle cx="242.3" cy="90.8" r="2.7"/><circle cx="207.2" cy="96.7" r="2.7"/><circle cx="136.3" cy="163.6" r="2.7"/><circle cx="147.4" cy="144.3" r="2.7"/><circle cx="119.8" cy="186.7" r="2.7"/><circle cx="159.2" cy="109.6" r="2.7"/><circle cx="164.9" cy="120.7" r="2.7"/><circle cx="170.0" cy="137.1" r="2.7"/><circle cx="155.9" cy="164.1" r="2.7"/><circle cx="127.5" cy="148.0" r="2.7"/><circle cx="182.7" cy="103.8" r="2.7"/><circle cx="139.8" cy="178.2" r="2.7"/><circle cx="135.0" cy="154.2" r="2.7"/><circle cx="168.0" cy="105.1" r="2.7"/><circle cx="227.5" cy="101.5" r="2.7"/><circle cx="165.3" cy="120.3" r="2.7"/><circle cx="124.6" cy="165.6" r="2.7"/><circle cx="203.8" cy="114.7" r="2.7"/><circle cx="181.0" cy="114.1" r="2.7"/><circle cx="123.3" cy="177.6" r="2.7"/><circle cx="171.3" cy="134.7" r="2.7"/><circle cx="235.7" cy="85.4" r="2.7"/><circle cx="274.9" cy="41.6" r="2.7"/><circle cx="228.5" cy="83.5" r="2.7"/><circle cx="168.9" cy="131.0" r="2.7"/><circle cx="232.7" cy="77.3" r="2.7"/><circle cx="238.8" cy="79.8" r="2.7"/><circle cx="231.6" cy="100.6" r="2.7"/><circle cx="132.7" cy="144.0" r="2.7"/><circle cx="197.9" cy="115.1" r="2.7"/><circle cx="131.9" cy="168.7" r="2.7"/><circle cx="123.0" cy="164.0" r="2.7"/><circle cx="198.4" cy="89.9" r="2.7"/><circle cx="195.5" cy="128.0" r="2.7"/><circle cx="144.7" cy="138.1" r="2.7"/><circle cx="266.9" cy="50.4" r="2.7"/><circle cx="198.2" cy="117.1" r="2.7"/><circle cx="121.9" cy="189.1" r="2.7"/><circle cx="114.7" cy="156.5" r="2.7"/><circle cx="236.1" cy="77.2" r="2.7"/><circle cx="189.1" cy="98.5" r="2.7"/><circle cx="225.6" cy="105.5" r="2.7"/><circle cx="158.8" cy="160.9" r="2.7"/><circle cx="249.0" cy="78.3" r="2.7"/><circle cx="163.0" cy="141.2" r="2.7"/><circle cx="156.1" cy="147.4" r="2.7"/><circle cx="171.4" cy="145.0" r="2.7"/><circle cx="255.4" cy="63.6" r="2.7"/><circle cx="188.6" cy="146.5" r="2.7"/><circle cx="223.2" cy="104.3" r="2.7"/><circle cx="230.1" cy="77.4" r="2.7"/><circle cx="261.4" cy="60.4" r="2.7"/><circle cx="148.0" cy="148.0" r="2.7"/><circle cx="200.7" cy="104.7" r="2.7"/><circle cx="133.4" cy="177.0" r="2.7"/><circle cx="204.1" cy="131.1" r="2.7"/><circle cx="200.1" cy="112.4" r="2.7"/><circle cx="269.7" cy="52.3" r="2.7"/><circle cx="234.3" cy="63.0" r="2.7"/><circle cx="182.5" cy="98.1" r="2.7"/><circle cx="111.3" cy="180.0" r="2.7"/><circle cx="227.6" cy="73.8" r="2.7"/><circle cx="185.4" cy="122.9" r="2.7"/><circle cx="170.6" cy="151.3" r="2.7"/><circle cx="192.4" cy="128.0" r="2.7"/><circle cx="174.0" cy="131.2" r="2.7"/><circle cx="196.2" cy="109.5" r="2.7"/><circle cx="188.8" cy="133.8" r="2.7"/><circle cx="185.2" cy="107.8" r="2.7"/><circle cx="206.1" cy="105.9" r="2.7"/><circle cx="119.3" cy="175.6" r="2.7"/><circle cx="155.1" cy="140.4" r="2.7"/><circle cx="188.7" cy="142.3" r="2.7"/><circle cx="233.2" cy="75.5" r="2.7"/><circle cx="157.6" cy="135.9" r="2.7"/><circle cx="150.5" cy="140.4" r="2.7"/><circle cx="268.3" cy="48.5" r="2.7"/><circle cx="268.4" cy="55.0" r="2.7"/><circle cx="241.0" cy="80.3" r="2.7"/><circle cx="136.8" cy="157.6" r="2.7"/><circle cx="136.2" cy="153.6" r="2.7"/><circle cx="207.1" cy="93.3" r="2.7"/><circle cx="145.8" cy="131.6" r="2.7"/><circle cx="189.9" cy="145.7" r="2.7"/><circle cx="219.5" cy="93.1" r="2.7"/><circle cx="162.3" cy="140.5" r="2.7"/><circle cx="209.4" cy="103.4" r="2.7"/><circle cx="123.0" cy="174.4" r="2.7"/><circle cx="213.3" cy="100.8" r="2.7"/><circle cx="242.3" cy="71.4" r="2.7"/><circle cx="164.7" cy="157.8" r="2.7"/><circle cx="153.8" cy="163.3" r="2.7"/><circle cx="185.4" cy="104.9" r="2.7"/><circle cx="171.6" cy="105.1" r="2.7"/><circle cx="110.8" cy="197.9" r="2.7"/><circle cx="177.1" cy="135.0" r="2.7"/><circle cx="154.9" cy="142.1" r="2.7"/><circle cx="257.6" cy="64.2" r="2.7"/><circle cx="251.2" cy="60.9" r="2.7"/><circle cx="175.9" cy="93.5" r="2.7"/><circle cx="216.7" cy="108.8" r="2.7"/><circle cx="186.2" cy="89.3" r="2.7"/><circle cx="249.7" cy="78.5" r="2.7"/><circle cx="135.7" cy="144.5" r="2.7"/><circle cx="139.9" cy="163.0" r="2.7"/><circle cx="275.4" cy="40.8" r="2.7"/><circle cx="148.3" cy="152.0" r="2.7"/><circle cx="229.3" cy="107.0" r="2.7"/><circle cx="258.2" cy="58.4" r="2.7"/><circle cx="187.6" cy="108.7" r="2.7"/><circle cx="136.5" cy="174.9" r="2.7"/><circle cx="215.2" cy="109.8" r="2.7"/><circle cx="136.6" cy="144.7" r="2.7"/><circle cx="140.9" cy="141.0" r="2.7"/><circle cx="125.5" cy="167.4" r="2.7"/><circle cx="166.8" cy="120.6" r="2.7"/><circle cx="230.5" cy="114.3" r="2.7"/><circle cx="132.4" cy="177.2" r="2.7"/><circle cx="179.5" cy="109.9" r="2.7"/><circle cx="168.6" cy="118.4" r="2.7"/><circle cx="160.8" cy="140.2" r="2.7"/><circle cx="171.2" cy="135.6" r="2.7"/><circle cx="241.7" cy="70.8" r="2.7"/><circle cx="178.2" cy="121.0" r="2.7"/><circle cx="161.6" cy="142.1" r="2.7"/><circle cx="197.2" cy="131.0" r="2.7"/><circle cx="190.5" cy="141.2" r="2.7"/><circle cx="214.0" cy="118.2" r="2.7"/><circle cx="182.3" cy="122.4" r="2.7"/><circle cx="159.3" cy="132.3" r="2.7"/><circle cx="187.9" cy="131.0" r="2.7"/><circle cx="138.6" cy="152.7" r="2.7"/><circle cx="263.3" cy="50.9" r="2.7"/><circle cx="190.0" cy="119.5" r="2.7"/><circle cx="177.7" cy="144.5" r="2.7"/><circle cx="222.7" cy="95.2" r="2.7"/><circle cx="249.6" cy="68.0" r="2.7"/><circle cx="120.1" cy="169.5" r="2.7"/><circle cx="133.9" cy="165.2" r="2.7"/><circle cx="210.5" cy="104.9" r="2.7"/><circle cx="143.7" cy="167.8" r="2.7"/><circle cx="198.0" cy="110.3" r="2.7"/><circle cx="245.1" cy="58.1" r="2.7"/><circle cx="156.4" cy="138.1" r="2.7"/><circle cx="197.2" cy="115.6" r="2.7"/><circle cx="147.0" cy="133.6" r="2.7"/><circle cx="164.0" cy="110.7" r="2.7"/><circle cx="251.5" cy="70.3" r="2.7"/><circle cx="163.8" cy="157.4" r="2.7"/><circle cx="210.5" cy="105.6" r="2.7"/><circle cx="122.7" cy="170.7" r="2.7"/><circle cx="205.0" cy="99.7" r="2.7"/><circle cx="134.3" cy="169.6" r="2.7"/><circle cx="199.0" cy="96.0" r="2.7"/><circle cx="272.7" cy="61.2" r="2.7"/><circle cx="207.6" cy="114.6" r="2.7"/><circle cx="157.0" cy="162.9" r="2.7"/><circle cx="196.2" cy="111.1" r="2.7"/><circle cx="188.1" cy="100.1" r="2.7"/><circle cx="111.2" cy="158.5" r="2.7"/><circle cx="204.6" cy="73.4" r="2.7"/><circle cx="210.9" cy="67.8" r="2.7"/><circle cx="206.7" cy="98.4" r="2.7"/><circle cx="171.8" cy="115.5" r="2.7"/><circle cx="136.5" cy="142.0" r="2.7"/><circle cx="165.5" cy="132.5" r="2.7"/><circle cx="127.5" cy="152.0" r="2.7"/><circle cx="245.6" cy="67.4" r="2.7"/><circle cx="221.7" cy="103.4" r="2.7"/><circle cx="188.0" cy="122.7" r="2.7"/><circle cx="147.1" cy="153.4" r="2.7"/><circle cx="136.6" cy="177.3" r="2.7"/><circle cx="240.0" cy="78.6" r="2.7"/><circle cx="201.5" cy="127.7" r="2.7"/><circle cx="128.6" cy="168.6" r="2.7"/><circle cx="212.5" cy="85.6" r="2.7"/><circle cx="182.1" cy="123.1" r="2.7"/><circle cx="135.5" cy="152.0" r="2.7"/><circle cx="222.3" cy="93.1" r="2.7"/><circle cx="180.9" cy="150.6" r="2.7"/><circle cx="140.9" cy="154.5" r="2.7"/><circle cx="198.1" cy="84.7" r="2.7"/><circle cx="133.0" cy="165.7" r="2.7"/><circle cx="204.2" cy="117.2" r="2.7"/><circle cx="238.4" cy="72.7" r="2.7"/><circle cx="190.9" cy="111.7" r="2.7"/><circle cx="148.1" cy="155.4" r="2.7"/><circle cx="145.7" cy="141.2" r="2.7"/><circle cx="221.6" cy="81.0" r="2.7"/><circle cx="157.5" cy="147.7" r="2.7"/><circle cx="138.0" cy="151.2" r="2.7"/><circle cx="192.7" cy="116.5" r="2.7"/><circle cx="188.7" cy="118.2" r="2.7"/><circle cx="233.6" cy="98.5" r="2.7"/><circle cx="237.8" cy="78.6" r="2.7"/><circle cx="257.9" cy="71.9" r="2.7"/><circle cx="136.0" cy="140.9" r="2.7"/><circle cx="140.2" cy="164.9" r="2.7"/><circle cx="244.5" cy="80.8" r="2.7"/><circle cx="223.4" cy="97.2" r="2.7"/><circle cx="259.6" cy="65.1" r="2.7"/><circle cx="248.4" cy="66.7" r="2.7"/><circle cx="164.2" cy="149.8" r="2.7"/><circle cx="162.8" cy="157.0" r="2.7"/><circle cx="145.5" cy="138.1" r="2.7"/><circle cx="217.3" cy="112.3" r="2.7"/><circle cx="236.1" cy="103.6" r="2.7"/><circle cx="137.2" cy="158.4" r="2.7"/><circle cx="199.5" cy="113.7" r="2.7"/><circle cx="147.4" cy="160.1" r="2.7"/><circle cx="143.5" cy="147.5" r="2.7"/><circle cx="157.2" cy="146.7" r="2.7"/><circle cx="232.7" cy="85.3" r="2.7"/><circle cx="173.5" cy="104.8" r="2.7"/><circle cx="257.6" cy="60.1" r="2.7"/><circle cx="213.9" cy="102.5" r="2.7"/><circle cx="217.6" cy="96.6" r="2.7"/><circle cx="270.0" cy="44.6" r="2.7"/><circle cx="200.7" cy="118.6" r="2.7"/><circle cx="183.8" cy="126.6" r="2.7"/><circle cx="189.5" cy="135.7" r="2.7"/><circle cx="145.3" cy="131.8" r="2.7"/><circle cx="225.7" cy="89.6" r="2.7"/><circle cx="173.1" cy="141.2" r="2.7"/><circle cx="115.0" cy="173.1" r="2.7"/><circle cx="161.2" cy="141.3" r="2.7"/><circle cx="143.9" cy="162.3" r="2.7"/><circle cx="151.3" cy="171.3" r="2.7"/><circle cx="158.4" cy="139.3" r="2.7"/><circle cx="252.2" cy="66.9" r="2.7"/><circle cx="145.8" cy="141.7" r="2.7"/><circle cx="222.9" cy="113.5" r="2.7"/><circle cx="183.7" cy="148.2" r="2.7"/><circle cx="232.9" cy="83.6" r="2.7"/><circle cx="188.8" cy="106.0" r="2.7"/><circle cx="188.8" cy="87.5" r="2.7"/><circle cx="192.5" cy="132.3" r="2.7"/><circle cx="219.2" cy="113.3" r="2.7"/><circle cx="201.4" cy="91.8" r="2.7"/><circle cx="120.2" cy="158.5" r="2.7"/><circle cx="218.7" cy="99.9" r="2.7"/><circle cx="246.4" cy="66.2" r="2.7"/><circle cx="119.6" cy="177.3" r="2.7"/><circle cx="146.1" cy="138.6" r="2.7"/><circle cx="202.3" cy="113.2" r="2.7"/><circle cx="151.0" cy="149.3" r="2.7"/><circle cx="173.9" cy="110.1" r="2.7"/><circle cx="159.3" cy="113.7" r="2.7"/><circle cx="209.5" cy="114.9" r="2.7"/><circle cx="190.5" cy="142.4" r="2.7"/><circle cx="125.5" cy="194.0" r="2.7"/><circle cx="212.0" cy="96.4" r="2.7"/><circle cx="165.4" cy="151.4" r="2.7"/><circle cx="181.5" cy="122.4" r="2.7"/><circle cx="139.4" cy="153.5" r="2.7"/><circle cx="123.0" cy="154.6" r="2.7"/><circle cx="147.7" cy="140.4" r="2.7"/><circle cx="137.2" cy="151.7" r="2.7"/><circle cx="125.1" cy="172.2" r="2.7"/><circle cx="138.8" cy="147.2" r="2.7"/><circle cx="254.8" cy="58.6" r="2.7"/><circle cx="186.4" cy="104.4" r="2.7"/><circle cx="145.8" cy="171.4" r="2.7"/><circle cx="128.9" cy="165.5" r="2.7"/><circle cx="194.9" cy="113.6" r="2.7"/><circle cx="128.7" cy="162.9" r="2.7"/><circle cx="119.3" cy="191.8" r="2.7"/><circle cx="182.7" cy="123.7" r="2.7"/><circle cx="147.2" cy="152.8" r="2.7"/><circle cx="207.3" cy="104.9" r="2.7"/><circle cx="238.3" cy="80.0" r="2.7"/><circle cx="153.8" cy="165.7" r="2.7"/><circle cx="196.9" cy="97.1" r="2.7"/><circle cx="267.1" cy="56.0" r="2.7"/><circle cx="241.4" cy="79.7" r="2.7"/><circle cx="152.7" cy="152.3" r="2.7"/><circle cx="263.1" cy="51.9" r="2.7"/><circle cx="120.6" cy="190.0" r="2.7"/><circle cx="111.0" cy="187.8" r="2.7"/><circle cx="229.7" cy="90.7" r="2.7"/><circle cx="178.7" cy="130.1" r="2.7"/><circle cx="225.8" cy="100.6" r="2.7"/><circle cx="197.8" cy="84.6" r="2.7"/><circle cx="204.6" cy="95.5" r="2.7"/><circle cx="125.2" cy="162.2" r="2.7"/><circle cx="247.6" cy="71.1" r="2.7"/><circle cx="177.5" cy="126.4" r="2.7"/><circle cx="148.0" cy="144.9" r="2.7"/><circle cx="195.4" cy="110.3" r="2.7"/><circle cx="246.3" cy="70.0" r="2.7"/><circle cx="198.2" cy="116.3" r="2.7"/><circle cx="210.2" cy="100.4" r="2.7"/><circle cx="245.6" cy="68.8" r="2.7"/><circle cx="140.9" cy="172.5" r="2.7"/><circle cx="204.9" cy="87.4" r="2.7"/><circle cx="138.6" cy="181.8" r="2.7"/><circle cx="257.2" cy="51.1" r="2.7"/><circle cx="156.8" cy="153.7" r="2.7"/><circle cx="176.9" cy="130.8" r="2.7"/><circle cx="235.6" cy="83.7" r="2.7"/><circle cx="171.8" cy="112.6" r="2.7"/><circle cx="157.7" cy="148.8" r="2.7"/><circle cx="203.7" cy="103.2" r="2.7"/><circle cx="134.9" cy="184.6" r="2.7"/><circle cx="149.3" cy="128.8" r="2.7"/><circle cx="205.0" cy="108.4" r="2.7"/><circle cx="241.3" cy="82.6" r="2.7"/><circle cx="230.4" cy="85.7" r="2.7"/><circle cx="179.3" cy="120.2" r="2.7"/><circle cx="233.9" cy="87.8" r="2.7"/><circle cx="202.5" cy="79.9" r="2.7"/><circle cx="172.6" cy="117.2" r="2.7"/><circle cx="263.3" cy="53.7" r="2.7"/><circle cx="261.9" cy="67.3" r="2.7"/><circle cx="215.4" cy="113.7" r="2.7"/><circle cx="106.9" cy="191.9" r="2.7"/><circle cx="229.9" cy="105.5" r="2.7"/><circle cx="160.0" cy="161.7" r="2.7"/><circle cx="274.2" cy="48.0" r="2.7"/><circle cx="110.8" cy="191.2" r="2.7"/><circle cx="170.3" cy="129.0" r="2.7"/><circle cx="189.6" cy="103.9" r="2.7"/><circle cx="189.2" cy="111.7" r="2.7"/><circle cx="143.7" cy="180.8" r="2.7"/><circle cx="177.5" cy="100.7" r="2.7"/><circle cx="271.3" cy="44.4" r="2.7"/><circle cx="243.1" cy="96.1" r="2.7"/><circle cx="169.5" cy="144.0" r="2.7"/><circle cx="171.1" cy="120.0" r="2.7"/><circle cx="175.7" cy="136.3" r="2.7"/><circle cx="99.2" cy="182.4" r="2.7"/><circle cx="242.8" cy="76.2" r="2.7"/><circle cx="268.8" cy="52.0" r="2.7"/><circle cx="227.3" cy="82.9" r="2.7"/><circle cx="171.8" cy="118.7" r="2.7"/><circle cx="273.2" cy="50.4" r="2.7"/><circle cx="119.0" cy="175.7" r="2.7"/><circle cx="140.3" cy="139.5" r="2.7"/><circle cx="189.0" cy="124.2" r="2.7"/><circle cx="218.5" cy="109.9" r="2.7"/><circle cx="193.2" cy="134.0" r="2.7"/><circle cx="143.8" cy="155.9" r="2.7"/><circle cx="229.9" cy="80.2" r="2.7"/><circle cx="170.0" cy="126.9" r="2.7"/><circle cx="148.9" cy="131.2" r="2.7"/><circle cx="225.8" cy="88.5" r="2.7"/><circle cx="167.9" cy="107.8" r="2.7"/><circle cx="185.3" cy="136.7" r="2.7"/><circle cx="124.6" cy="160.3" r="2.7"/><circle cx="107.1" cy="197.6" r="2.7"/><circle cx="227.0" cy="86.2" r="2.7"/><circle cx="196.7" cy="115.5" r="2.7"/><circle cx="245.4" cy="72.5" r="2.7"/><circle cx="220.4" cy="74.1" r="2.7"/><circle cx="184.7" cy="95.9" r="2.7"/><circle cx="194.4" cy="116.1" r="2.7"/><circle cx="177.4" cy="129.3" r="2.7"/><circle cx="188.3" cy="142.0" r="2.7"/><circle cx="149.7" cy="132.2" r="2.7"/><circle cx="254.0" cy="64.5" r="2.7"/><circle cx="173.8" cy="115.5" r="2.7"/><circle cx="167.9" cy="143.5" r="2.7"/><circle cx="145.7" cy="137.0" r="2.7"/><circle cx="182.3" cy="148.8" r="2.7"/><circle cx="242.2" cy="94.0" r="2.7"/><circle cx="163.1" cy="130.3" r="2.7"/><circle cx="205.6" cy="120.0" r="2.7"/><circle cx="138.8" cy="184.0" r="2.7"/><circle cx="242.4" cy="95.1" r="2.7"/><circle cx="236.9" cy="79.4" r="2.7"/><circle cx="187.9" cy="136.7" r="2.7"/><circle cx="150.2" cy="151.4" r="2.7"/><circle cx="131.1" cy="174.0" r="2.7"/><circle cx="265.4" cy="55.7" r="2.7"/><circle cx="112.0" cy="189.5" r="2.7"/><circle cx="147.3" cy="132.8" r="2.7"/><circle cx="237.9" cy="84.6" r="2.7"/><circle cx="215.0" cy="80.0" r="2.7"/><circle cx="265.6" cy="54.4" r="2.7"/><circle cx="209.9" cy="66.8" r="2.7"/><circle cx="225.4" cy="59.8" r="2.7"/><circle cx="230.9" cy="82.4" r="2.7"/><circle cx="125.2" cy="149.9" r="2.7"/><circle cx="130.9" cy="178.7" r="2.7"/><circle cx="178.0" cy="112.0" r="2.7"/><circle cx="197.3" cy="127.2" r="2.7"/><circle cx="201.9" cy="125.3" r="2.7"/><circle cx="100.5" cy="196.6" r="2.7"/><circle cx="99.1" cy="183.9" r="2.7"/><circle cx="190.6" cy="129.2" r="2.7"/><circle cx="144.8" cy="133.4" r="2.7"/><circle cx="202.7" cy="105.0" r="2.7"/><circle cx="181.8" cy="104.4" r="2.7"/><circle cx="196.9" cy="105.3" r="2.7"/><circle cx="203.5" cy="124.0" r="2.7"/><circle cx="159.0" cy="161.3" r="2.7"/><circle cx="216.5" cy="109.7" r="2.7"/><circle cx="179.7" cy="131.6" r="2.7"/><circle cx="204.0" cy="102.9" r="2.7"/><circle cx="202.5" cy="105.6" r="2.7"/><circle cx="127.3" cy="166.4" r="2.7"/><circle cx="218.9" cy="85.9" r="2.7"/><circle cx="153.9" cy="143.2" r="2.7"/><circle cx="159.2" cy="134.4" r="2.7"/><circle cx="225.4" cy="83.9" r="2.7"/><circle cx="194.1" cy="128.8" r="2.7"/><circle cx="170.1" cy="130.7" r="2.7"/><circle cx="124.0" cy="182.6" r="2.7"/><circle cx="136.1" cy="161.4" r="2.7"/><circle cx="220.7" cy="86.2" r="2.7"/><circle cx="182.9" cy="137.0" r="2.7"/><circle cx="146.4" cy="177.3" r="2.7"/><circle cx="180.0" cy="123.0" r="2.7"/><circle cx="178.5" cy="122.4" r="2.7"/><circle cx="249.0" cy="67.9" r="2.7"/><circle cx="170.7" cy="109.3" r="2.7"/><circle cx="233.0" cy="86.5" r="2.7"/><circle cx="226.6" cy="103.8" r="2.7"/><circle cx="213.8" cy="80.5" r="2.7"/><circle cx="132.2" cy="155.2" r="2.7"/><circle cx="191.3" cy="113.0" r="2.7"/><circle cx="148.7" cy="149.7" r="2.7"/><circle cx="229.6" cy="87.8" r="2.7"/><circle cx="216.9" cy="92.9" r="2.7"/><circle cx="206.1" cy="117.1" r="2.7"/><circle cx="186.4" cy="114.4" r="2.7"/><circle cx="109.3" cy="172.4" r="2.7"/><circle cx="140.1" cy="135.1" r="2.7"/><circle cx="173.5" cy="124.8" r="2.7"/><circle cx="237.8" cy="86.3" r="2.7"/><circle cx="269.9" cy="49.1" r="2.7"/><circle cx="188.8" cy="141.8" r="2.7"/><circle cx="203.8" cy="99.4" r="2.7"/><circle cx="175.4" cy="123.6" r="2.7"/><circle cx="136.2" cy="137.6" r="2.7"/><circle cx="137.7" cy="185.7" r="2.7"/><circle cx="182.0" cy="123.2" r="2.7"/><circle cx="138.4" cy="170.7" r="2.7"/><circle cx="187.2" cy="121.2" r="2.7"/><circle cx="145.6" cy="158.6" r="2.7"/><circle cx="264.6" cy="55.1" r="2.7"/><circle cx="147.4" cy="154.8" r="2.7"/><circle cx="244.5" cy="82.6" r="2.7"/><circle cx="225.8" cy="86.2" r="2.7"/><circle cx="109.2" cy="178.7" r="2.7"/><circle cx="123.7" cy="173.9" r="2.7"/><circle cx="106.0" cy="175.4" r="2.7"/><circle cx="151.0" cy="136.1" r="2.7"/><circle cx="201.6" cy="90.4" r="2.7"/><circle cx="190.8" cy="83.9" r="2.7"/><circle cx="199.1" cy="97.5" r="2.7"/><circle cx="133.3" cy="169.1" r="2.7"/><circle cx="161.2" cy="156.8" r="2.7"/><circle cx="164.1" cy="151.2" r="2.7"/><circle cx="232.4" cy="83.5" r="2.7"/><circle cx="219.3" cy="107.1" r="2.7"/><circle cx="98.0" cy="180.6" r="2.7"/><circle cx="151.2" cy="152.7" r="2.7"/><circle cx="258.0" cy="54.3" r="2.7"/><circle cx="186.5" cy="151.7" r="2.7"/><circle cx="209.9" cy="111.7" r="2.7"/><circle cx="207.9" cy="127.1" r="2.7"/><circle cx="141.8" cy="171.9" r="2.7"/><circle cx="199.4" cy="125.0" r="2.7"/><circle cx="260.3" cy="59.3" r="2.7"/><circle cx="201.5" cy="104.9" r="2.7"/><circle cx="154.0" cy="120.7" r="2.7"/><circle cx="168.5" cy="111.8" r="2.7"/><circle cx="269.4" cy="52.8" r="2.7"/><circle cx="164.5" cy="137.8" r="2.7"/><circle cx="196.7" cy="99.2" r="2.7"/><circle cx="250.3" cy="68.9" r="2.7"/><circle cx="175.8" cy="108.2" r="2.7"/><circle cx="197.8" cy="112.6" r="2.7"/><circle cx="273.3" cy="48.3" r="2.7"/><circle cx="243.2" cy="54.9" r="2.7"/><circle cx="193.1" cy="87.4" r="2.7"/><circle cx="172.3" cy="116.5" r="2.7"/><circle cx="212.6" cy="94.9" r="2.7"/><circle cx="178.2" cy="104.9" r="2.7"/><circle cx="102.0" cy="187.1" r="2.7"/><circle cx="273.7" cy="61.4" r="2.7"/><circle cx="150.2" cy="162.5" r="2.7"/><circle cx="139.2" cy="147.3" r="2.7"/><circle cx="210.4" cy="113.5" r="2.7"/><circle cx="230.0" cy="107.6" r="2.7"/><circle cx="125.1" cy="174.5" r="2.7"/><circle cx="207.0" cy="75.1" r="2.7"/><circle cx="175.2" cy="103.2" r="2.7"/><circle cx="221.1" cy="84.1" r="2.7"/><circle cx="208.8" cy="89.7" r="2.7"/><circle cx="180.3" cy="149.5" r="2.7"/><circle cx="131.6" cy="176.9" r="2.7"/><circle cx="244.8" cy="68.3" r="2.7"/><circle cx="162.8" cy="120.2" r="2.7"/><circle cx="165.9" cy="134.4" r="2.7"/><circle cx="192.3" cy="92.6" r="2.7"/><circle cx="163.8" cy="142.3" r="2.7"/><circle cx="195.3" cy="134.5" r="2.7"/><circle cx="237.7" cy="90.7" r="2.7"/><circle cx="151.9" cy="144.2" r="2.7"/><circle cx="224.2" cy="94.7" r="2.7"/><circle cx="162.2" cy="119.0" r="2.7"/><circle cx="145.3" cy="147.3" r="2.7"/><circle cx="230.0" cy="97.0" r="2.7"/><circle cx="181.1" cy="145.4" r="2.7"/><circle cx="232.9" cy="82.4" r="2.7"/><circle cx="176.0" cy="149.3" r="2.7"/><circle cx="140.0" cy="176.5" r="2.7"/><circle cx="256.6" cy="65.0" r="2.7"/><circle cx="216.3" cy="103.2" r="2.7"/><circle cx="130.0" cy="167.9" r="2.7"/><circle cx="127.2" cy="179.5" r="2.7"/><circle cx="273.6" cy="45.5" r="2.7"/><circle cx="247.3" cy="88.4" r="2.7"/><circle cx="162.5" cy="167.0" r="2.7"/><circle cx="253.0" cy="66.7" r="2.7"/><circle cx="132.0" cy="186.0" r="2.7"/><circle cx="142.0" cy="166.5" r="2.7"/><circle cx="156.5" cy="147.2" r="2.7"/><circle cx="199.5" cy="92.6" r="2.7"/><circle cx="165.5" cy="140.7" r="2.7"/><circle cx="159.6" cy="148.3" r="2.7"/><circle cx="163.1" cy="119.2" r="2.7"/><circle cx="170.3" cy="149.6" r="2.7"/><circle cx="199.6" cy="96.5" r="2.7"/><circle cx="116.7" cy="167.5" r="2.7"/><circle cx="150.3" cy="149.9" r="2.7"/><circle cx="236.6" cy="93.3" r="2.7"/><circle cx="144.2" cy="157.8" r="2.7"/><circle cx="259.6" cy="55.6" r="2.7"/><circle cx="250.6" cy="64.3" r="2.7"/><circle cx="262.2" cy="64.2" r="2.7"/><circle cx="210.2" cy="112.2" r="2.7"/><circle cx="193.7" cy="103.7" r="2.7"/><circle cx="161.7" cy="159.2" r="2.7"/><circle cx="193.6" cy="111.7" r="2.7"/><circle cx="156.5" cy="164.0" r="2.7"/><circle cx="230.6" cy="71.4" r="2.7"/><circle cx="199.4" cy="100.6" r="2.7"/><circle cx="206.0" cy="103.1" r="2.7"/><circle cx="163.6" cy="135.8" r="2.7"/><circle cx="190.0" cy="89.0" r="2.7"/><circle cx="152.3" cy="131.8" r="2.7"/><circle cx="193.2" cy="86.6" r="2.7"/><circle cx="173.3" cy="143.4" r="2.7"/><circle cx="194.8" cy="113.5" r="2.7"/><circle cx="199.4" cy="105.9" r="2.7"/><circle cx="155.0" cy="147.0" r="2.7"/><circle cx="168.2" cy="143.6" r="2.7"/><circle cx="170.8" cy="132.5" r="2.7"/><circle cx="223.0" cy="77.7" r="2.7"/><circle cx="249.0" cy="69.4" r="2.7"/><circle cx="117.3" cy="174.3" r="2.7"/><circle cx="152.3" cy="168.7" r="2.7"/><circle cx="190.3" cy="130.2" r="2.7"/><circle cx="185.1" cy="127.6" r="2.7"/><circle cx="215.5" cy="95.7" r="2.7"/><circle cx="224.1" cy="93.8" r="2.7"/><circle cx="229.0" cy="77.3" r="2.7"/><circle cx="138.1" cy="169.4" r="2.7"/><circle cx="114.1" cy="163.6" r="2.7"/><circle cx="179.7" cy="113.8" r="2.7"/><circle cx="197.6" cy="131.0" r="2.7"/><circle cx="259.0" cy="62.3" r="2.7"/><circle cx="195.9" cy="89.4" r="2.7"/><circle cx="184.0" cy="133.7" r="2.7"/><circle cx="197.9" cy="105.2" r="2.7"/><circle cx="203.4" cy="120.3" r="2.7"/><circle cx="225.2" cy="109.7" r="2.7"/><circle cx="243.7" cy="74.4" r="2.7"/><circle cx="245.6" cy="67.5" r="2.7"/><circle cx="187.1" cy="135.1" r="2.7"/><circle cx="212.3" cy="104.2" r="2.7"/><circle cx="136.1" cy="163.8" r="2.7"/><circle cx="208.3" cy="117.1" r="2.7"/><circle cx="240.3" cy="78.0" r="2.7"/><circle cx="138.3" cy="145.7" r="2.7"/><circle cx="185.8" cy="137.1" r="2.7"/><circle cx="122.1" cy="168.6" r="2.7"/><circle cx="168.6" cy="155.8" r="2.7"/><circle cx="120.3" cy="153.4" r="2.7"/><circle cx="234.3" cy="77.3" r="2.7"/><circle cx="144.3" cy="144.2" r="2.7"/><circle cx="169.8" cy="104.3" r="2.7"/><circle cx="185.8" cy="111.1" r="2.7"/><circle cx="219.8" cy="95.1" r="2.7"/><circle cx="152.1" cy="139.4" r="2.7"/><circle cx="122.1" cy="180.0" r="2.7"/><circle cx="149.4" cy="132.6" r="2.7"/><circle cx="191.7" cy="118.4" r="2.7"/><circle cx="105.4" cy="174.9" r="2.7"/><circle cx="231.6" cy="107.2" r="2.7"/><circle cx="116.7" cy="172.6" r="2.7"/><circle cx="202.3" cy="99.3" r="2.7"/><circle cx="143.2" cy="169.1" r="2.7"/><circle cx="167.0" cy="125.5" r="2.7"/><circle cx="162.0" cy="163.5" r="2.7"/><circle cx="146.5" cy="164.8" r="2.7"/><circle cx="244.0" cy="82.3" r="2.7"/><circle cx="193.8" cy="92.1" r="2.7"/><circle cx="197.8" cy="137.3" r="2.7"/><circle cx="132.6" cy="155.6" r="2.7"/><circle cx="180.3" cy="103.3" r="2.7"/><circle cx="103.2" cy="168.7" r="2.7"/><circle cx="204.5" cy="99.9" r="2.7"/><circle cx="208.7" cy="113.5" r="2.7"/><circle cx="202.2" cy="86.7" r="2.7"/><circle cx="180.9" cy="99.8" r="2.7"/><circle cx="228.7" cy="64.6" r="2.7"/><circle cx="173.8" cy="120.0" r="2.7"/><circle cx="179.0" cy="132.5" r="2.7"/><circle cx="151.6" cy="151.4" r="2.7"/><circle cx="121.1" cy="173.7" r="2.7"/><circle cx="244.6" cy="74.0" r="2.7"/><circle cx="129.0" cy="155.9" r="2.7"/><circle cx="169.4" cy="155.1" r="2.7"/><circle cx="199.1" cy="130.7" r="2.7"/><circle cx="169.1" cy="96.7" r="2.7"/><circle cx="193.3" cy="103.4" r="2.7"/><circle cx="136.9" cy="158.9" r="2.7"/><circle cx="273.8" cy="52.5" r="2.7"/><circle cx="171.7" cy="135.4" r="2.7"/><circle cx="171.5" cy="134.0" r="2.7"/><circle cx="266.9" cy="55.9" r="2.7"/><circle cx="196.7" cy="110.0" r="2.7"/><circle cx="172.2" cy="137.8" r="2.7"/><circle cx="171.4" cy="131.7" r="2.7"/><circle cx="175.3" cy="98.9" r="2.7"/><circle cx="168.2" cy="140.4" r="2.7"/><circle cx="133.3" cy="179.6" r="2.7"/><circle cx="209.6" cy="96.7" r="2.7"/><circle cx="217.9" cy="93.2" r="2.7"/><circle cx="109.5" cy="196.5" r="2.7"/><circle cx="149.9" cy="159.6" r="2.7"/><circle cx="145.2" cy="167.2" r="2.7"/><circle cx="135.9" cy="167.6" r="2.7"/><circle cx="145.8" cy="177.8" r="2.7"/><circle cx="221.4" cy="94.0" r="2.7"/><circle cx="198.8" cy="89.6" r="2.7"/><circle cx="202.6" cy="102.0" r="2.7"/><circle cx="224.8" cy="84.2" r="2.7"/><circle cx="232.1" cy="90.9" r="2.7"/><circle cx="155.1" cy="174.8" r="2.7"/><circle cx="179.2" cy="143.4" r="2.7"/><circle cx="142.1" cy="163.0" r="2.7"/><circle cx="200.3" cy="106.2" r="2.7"/><circle cx="199.9" cy="109.0" r="2.7"/><circle cx="194.6" cy="115.1" r="2.7"/><circle cx="195.3" cy="91.6" r="2.7"/><circle cx="164.8" cy="122.1" r="2.7"/><circle cx="199.6" cy="90.8" r="2.7"/><circle cx="146.8" cy="144.2" r="2.7"/><circle cx="151.0" cy="152.4" r="2.7"/><circle cx="266.0" cy="54.6" r="2.7"/><circle cx="117.7" cy="169.9" r="2.7"/><circle cx="221.7" cy="78.3" r="2.7"/><circle cx="210.0" cy="81.7" r="2.7"/><circle cx="167.1" cy="143.9" r="2.7"/><circle cx="222.7" cy="87.0" r="2.7"/><circle cx="275.8" cy="47.1" r="2.7"/><circle cx="123.8" cy="159.7" r="2.7"/><circle cx="129.8" cy="185.3" r="2.7"/><circle cx="253.9" cy="67.5" r="2.7"/><circle cx="139.4" cy="174.6" r="2.7"/><circle cx="178.0" cy="116.8" r="2.7"/><circle cx="273.2" cy="43.8" r="2.7"/><circle cx="136.9" cy="144.0" r="2.7"/><circle cx="250.1" cy="70.1" r="2.7"/><circle cx="215.4" cy="86.7" r="2.7"/><circle cx="142.9" cy="142.8" r="2.7"/><circle cx="193.2" cy="111.2" r="2.7"/><circle cx="223.8" cy="101.7" r="2.7"/><circle cx="174.1" cy="112.6" r="2.7"/><circle cx="204.3" cy="113.2" r="2.7"/><circle cx="175.6" cy="152.8" r="2.7"/><circle cx="108.5" cy="168.7" r="2.7"/><circle cx="169.2" cy="161.1" r="2.7"/><circle cx="221.4" cy="95.2" r="2.7"/><circle cx="141.6" cy="161.1" r="2.7"/><circle cx="162.2" cy="150.7" r="2.7"/><circle cx="245.9" cy="71.6" r="2.7"/><circle cx="144.1" cy="155.6" r="2.7"/><circle cx="180.4" cy="149.4" r="2.7"/><circle cx="198.7" cy="108.6" r="2.7"/><circle cx="142.1" cy="143.8" r="2.7"/><circle cx="236.0" cy="87.9" r="2.7"/><circle cx="129.0" cy="152.3" r="2.7"/><circle cx="182.8" cy="127.3" r="2.7"/><circle cx="155.8" cy="146.8" r="2.7"/><circle cx="226.1" cy="85.0" r="2.7"/><circle cx="190.1" cy="147.4" r="2.7"/><circle cx="140.6" cy="156.1" r="2.7"/><circle cx="233.2" cy="89.0" r="2.7"/><circle cx="151.7" cy="146.9" r="2.7"/><circle cx="269.3" cy="53.6" r="2.7"/><circle cx="155.5" cy="126.1" r="2.7"/><circle cx="159.3" cy="167.3" r="2.7"/><circle cx="216.1" cy="93.9" r="2.7"/><circle cx="199.2" cy="125.2" r="2.7"/><circle cx="180.2" cy="146.4" r="2.7"/><circle cx="197.1" cy="119.2" r="2.7"/><circle cx="185.6" cy="111.7" r="2.7"/><circle cx="229.0" cy="85.1" r="2.7"/><circle cx="154.3" cy="138.2" r="2.7"/><circle cx="129.1" cy="171.3" r="2.7"/><circle cx="240.5" cy="79.8" r="2.7"/><circle cx="150.7" cy="130.2" r="2.7"/><circle cx="204.0" cy="128.8" r="2.7"/><circle cx="221.0" cy="105.1" r="2.7"/><circle cx="216.0" cy="82.6" r="2.7"/><circle cx="194.3" cy="92.9" r="2.7"/><circle cx="185.4" cy="126.3" r="2.7"/><circle cx="174.2" cy="110.0" r="2.7"/><circle cx="191.3" cy="134.3" r="2.7"/><circle cx="199.7" cy="105.1" r="2.7"/><circle cx="162.4" cy="142.1" r="2.7"/><circle cx="187.7" cy="143.5" r="2.7"/><circle cx="260.1" cy="53.1" r="2.7"/><circle cx="276.0" cy="48.4" r="2.7"/><circle cx="113.8" cy="190.3" r="2.7"/><circle cx="109.2" cy="162.3" r="2.7"/><circle cx="195.1" cy="112.8" r="2.7"/><circle cx="219.5" cy="72.0" r="2.7"/><circle cx="108.4" cy="163.9" r="2.7"/><circle cx="153.0" cy="167.9" r="2.7"/><circle cx="268.4" cy="53.2" r="2.7"/><circle cx="103.5" cy="197.3" r="2.7"/><circle cx="224.0" cy="83.9" r="2.7"/><circle cx="224.8" cy="76.2" r="2.7"/><circle cx="172.5" cy="107.9" r="2.7"/><circle cx="250.6" cy="67.7" r="2.7"/><circle cx="163.9" cy="128.4" r="2.7"/><circle cx="229.2" cy="72.6" r="2.7"/><circle cx="133.7" cy="170.2" r="2.7"/><circle cx="137.7" cy="167.1" r="2.7"/><circle cx="152.1" cy="156.4" r="2.7"/><circle cx="177.1" cy="147.0" r="2.7"/><circle cx="134.0" cy="153.0" r="2.7"/><circle cx="201.8" cy="126.3" r="2.7"/><circle cx="216.2" cy="83.5" r="2.7"/><circle cx="206.9" cy="124.7" r="2.7"/><circle cx="212.3" cy="85.8" r="2.7"/><circle cx="205.6" cy="93.7" r="2.7"/><circle cx="209.6" cy="79.8" r="2.7"/><circle cx="129.9" cy="160.1" r="2.7"/><circle cx="264.1" cy="52.5" r="2.7"/><circle cx="167.8" cy="125.8" r="2.7"/><circle cx="181.8" cy="152.7" r="2.7"/><circle cx="267.0" cy="52.2" r="2.7"/><circle cx="249.2" cy="53.1" r="2.7"/><circle cx="171.1" cy="141.7" r="2.7"/><circle cx="252.0" cy="64.0" r="2.7"/><circle cx="213.9" cy="79.3" r="2.7"/><circle cx="164.8" cy="140.9" r="2.7"/><circle cx="173.6" cy="145.6" r="2.7"/><circle cx="230.2" cy="109.9" r="2.7"/><circle cx="197.3" cy="97.1" r="2.7"/><circle cx="139.0" cy="163.1" r="2.7"/><circle cx="249.5" cy="72.5" r="2.7"/><circle cx="156.3" cy="112.7" r="2.7"/><circle cx="106.0" cy="190.7" r="2.7"/><circle cx="202.8" cy="127.2" r="2.7"/><circle cx="244.1" cy="71.7" r="2.7"/><circle cx="152.6" cy="123.9" r="2.7"/><circle cx="130.5" cy="163.4" r="2.7"/><circle cx="240.0" cy="74.0" r="2.7"/><circle cx="144.0" cy="150.1" r="2.7"/><circle cx="192.4" cy="116.8" r="2.7"/><circle cx="101.1" cy="185.0" r="2.7"/><circle cx="130.2" cy="155.9" r="2.7"/><circle cx="172.0" cy="123.1" r="2.7"/><circle cx="209.0" cy="103.6" r="2.7"/><circle cx="264.7" cy="50.9" r="2.7"/><circle cx="157.2" cy="128.6" r="2.7"/><circle cx="237.5" cy="80.3" r="2.7"/><circle cx="119.1" cy="157.5" r="2.7"/><circle cx="211.0" cy="108.9" r="2.7"/><circle cx="222.3" cy="91.9" r="2.7"/><circle cx="156.1" cy="129.8" r="2.7"/><circle cx="208.5" cy="117.0" r="2.7"/><circle cx="252.3" cy="76.2" r="2.7"/><circle cx="177.6" cy="135.0" r="2.7"/><circle cx="187.5" cy="132.3" r="2.7"/><circle cx="229.5" cy="97.1" r="2.7"/><circle cx="214.5" cy="98.5" r="2.7"/><circle cx="111.5" cy="165.7" r="2.7"/><circle cx="158.0" cy="144.4" r="2.7"/><circle cx="253.7" cy="65.3" r="2.7"/><circle cx="228.5" cy="96.6" r="2.7"/><circle cx="168.6" cy="136.4" r="2.7"/><circle cx="166.4" cy="129.7" r="2.7"/><circle cx="232.8" cy="95.8" r="2.7"/><circle cx="191.3" cy="129.5" r="2.7"/><circle cx="187.1" cy="107.7" r="2.7"/><circle cx="254.5" cy="66.3" r="2.7"/><circle cx="141.8" cy="174.9" r="2.7"/><circle cx="192.1" cy="107.0" r="2.7"/><circle cx="184.4" cy="139.8" r="2.7"/><circle cx="187.2" cy="103.3" r="2.7"/><circle cx="263.3" cy="51.7" r="2.7"/><circle cx="163.1" cy="152.5" r="2.7"/><circle cx="155.1" cy="169.3" r="2.7"/><circle cx="187.3" cy="104.4" r="2.7"/><circle cx="233.5" cy="76.4" r="2.7"/><circle cx="136.5" cy="155.3" r="2.7"/><circle cx="112.7" cy="176.6" r="2.7"/><circle cx="178.8" cy="124.3" r="2.7"/><circle cx="109.9" cy="161.9" r="2.7"/><circle cx="204.1" cy="106.1" r="2.7"/><circle cx="99.7" cy="189.7" r="2.7"/><circle cx="178.0" cy="155.9" r="2.7"/><circle cx="247.4" cy="69.3" r="2.7"/><circle cx="192.5" cy="127.1" r="2.7"/><circle cx="179.8" cy="118.3" r="2.7"/><circle cx="134.0" cy="162.2" r="2.7"/><circle cx="131.0" cy="161.8" r="2.7"/><circle cx="157.7" cy="121.8" r="2.7"/><circle cx="209.2" cy="116.7" r="2.7"/><circle cx="172.0" cy="127.1" r="2.7"/><circle cx="208.7" cy="99.0" r="2.7"/><circle cx="185.5" cy="99.9" r="2.7"/><circle cx="119.9" cy="170.9" r="2.7"/><circle cx="201.1" cy="97.2" r="2.7"/><circle cx="237.3" cy="84.9" r="2.7"/><circle cx="232.9" cy="85.6" r="2.7"/><circle cx="231.0" cy="100.0" r="2.7"/><circle cx="205.4" cy="130.6" r="2.7"/><circle cx="238.3" cy="75.8" r="2.7"/><circle cx="166.8" cy="154.3" r="2.7"/><circle cx="190.1" cy="90.4" r="2.7"/><circle cx="197.5" cy="99.5" r="2.7"/><circle cx="120.5" cy="167.3" r="2.7"/><circle cx="270.1" cy="48.9" r="2.7"/><circle cx="158.9" cy="125.7" r="2.7"/><circle cx="191.8" cy="123.6" r="2.7"/><circle cx="227.7" cy="102.5" r="2.7"/><circle cx="147.3" cy="144.6" r="2.7"/><circle cx="186.3" cy="121.0" r="2.7"/><circle cx="124.0" cy="151.3" r="2.7"/><circle cx="110.8" cy="184.1" r="2.7"/><circle cx="183.0" cy="129.3" r="2.7"/><circle cx="264.7" cy="53.6" r="2.7"/><circle cx="122.8" cy="180.8" r="2.7"/><circle cx="118.0" cy="189.4" r="2.7"/><circle cx="169.2" cy="164.3" r="2.7"/><circle cx="172.9" cy="115.4" r="2.7"/><circle cx="143.5" cy="138.2" r="2.7"/><circle cx="156.2" cy="161.2" r="2.7"/><circle cx="273.6" cy="47.2" r="2.7"/><circle cx="179.7" cy="119.4" r="2.7"/><circle cx="224.0" cy="90.7" r="2.7"/><circle cx="145.6" cy="169.5" r="2.7"/><circle cx="134.0" cy="189.5" r="2.7"/><circle cx="185.2" cy="131.3" r="2.7"/><circle cx="223.6" cy="81.4" r="2.7"/><circle cx="230.3" cy="104.1" r="2.7"/><circle cx="126.3" cy="163.9" r="2.7"/><circle cx="192.9" cy="122.3" r="2.7"/><circle cx="196.7" cy="119.1" r="2.7"/><circle cx="144.2" cy="174.7" r="2.7"/><circle cx="156.0" cy="149.6" r="2.7"/><circle cx="148.2" cy="136.0" r="2.7"/><circle cx="220.8" cy="92.1" r="2.7"/><circle cx="273.4" cy="50.0" r="2.7"/><circle cx="194.7" cy="118.6" r="2.7"/><circle cx="161.4" cy="138.6" r="2.7"/><circle cx="138.4" cy="155.0" r="2.7"/><circle cx="144.6" cy="160.3" r="2.7"/><circle cx="191.2" cy="88.3" r="2.7"/><circle cx="196.4" cy="111.3" r="2.7"/><circle cx="257.2" cy="71.1" r="2.7"/><circle cx="177.2" cy="128.9" r="2.7"/><circle cx="253.8" cy="80.5" r="2.7"/><circle cx="264.9" cy="62.0" r="2.7"/><circle cx="143.5" cy="172.8" r="2.7"/><circle cx="232.2" cy="96.9" r="2.7"/><circle cx="142.2" cy="172.8" r="2.7"/><circle cx="197.5" cy="95.2" r="2.7"/><circle cx="208.2" cy="103.0" r="2.7"/><circle cx="208.7" cy="113.6" r="2.7"/><circle cx="233.2" cy="82.3" r="2.7"/><circle cx="135.1" cy="179.4" r="2.7"/><circle cx="273.6" cy="42.2" r="2.7"/><circle cx="154.3" cy="129.9" r="2.7"/><circle cx="181.5" cy="127.3" r="2.7"/><circle cx="185.6" cy="124.6" r="2.7"/><circle cx="116.5" cy="185.7" r="2.7"/><circle cx="213.4" cy="78.7" r="2.7"/><circle cx="173.3" cy="122.7" r="2.7"/><circle cx="101.2" cy="177.6" r="2.7"/><circle cx="214.3" cy="102.7" r="2.7"/><circle cx="154.7" cy="161.5" r="2.7"/><circle cx="188.0" cy="104.8" r="2.7"/><circle cx="265.9" cy="57.0" r="2.7"/><circle cx="146.2" cy="144.3" r="2.7"/><circle cx="130.2" cy="190.9" r="2.7"/><circle cx="236.6" cy="85.4" r="2.7"/><circle cx="117.1" cy="190.4" r="2.7"/><circle cx="141.9" cy="175.8" r="2.7"/><circle cx="146.4" cy="153.9" r="2.7"/><circle cx="146.8" cy="166.0" r="2.7"/><circle cx="151.4" cy="167.5" r="2.7"/><circle cx="228.1" cy="104.5" r="2.7"/><circle cx="234.2" cy="98.8" r="2.7"/><circle cx="176.0" cy="114.9" r="2.7"/><circle cx="178.7" cy="110.2" r="2.7"/><circle cx="220.3" cy="91.7" r="2.7"/><circle cx="148.1" cy="127.9" r="2.7"/><circle cx="164.7" cy="142.7" r="2.7"/><circle cx="263.1" cy="56.9" r="2.7"/><circle cx="171.0" cy="131.9" r="2.7"/><circle cx="245.1" cy="71.9" r="2.7"/><circle cx="192.1" cy="103.6" r="2.7"/><circle cx="211.1" cy="105.0" r="2.7"/><circle cx="165.1" cy="156.1" r="2.7"/><circle cx="155.8" cy="143.5" r="2.7"/><circle cx="140.3" cy="139.7" r="2.7"/><circle cx="208.8" cy="109.7" r="2.7"/><circle cx="225.7" cy="90.8" r="2.7"/><circle cx="118.7" cy="175.0" r="2.7"/><circle cx="139.7" cy="174.3" r="2.7"/><circle cx="262.2" cy="64.1" r="2.7"/><circle cx="233.8" cy="99.4" r="2.7"/><circle cx="189.0" cy="120.5" r="2.7"/><circle cx="176.2" cy="100.5" r="2.7"/><circle cx="173.8" cy="133.9" r="2.7"/><circle cx="224.3" cy="95.3" r="2.7"/><circle cx="168.0" cy="140.3" r="2.7"/><circle cx="140.5" cy="160.2" r="2.7"/><circle cx="148.8" cy="142.1" r="2.7"/><circle cx="274.8" cy="60.5" r="2.7"/><circle cx="124.8" cy="188.2" r="2.7"/><circle cx="267.8" cy="49.5" r="2.7"/><circle cx="238.6" cy="76.1" r="2.7"/><circle cx="243.9" cy="81.3" r="2.7"/><circle cx="231.3" cy="96.4" r="2.7"/><circle cx="211.9" cy="81.0" r="2.7"/><circle cx="207.7" cy="124.9" r="2.7"/><circle cx="233.2" cy="81.7" r="2.7"/><circle cx="231.1" cy="89.9" r="2.7"/><circle cx="161.7" cy="117.7" r="2.7"/><circle cx="198.2" cy="92.5" r="2.7"/><circle cx="212.2" cy="97.7" r="2.7"/><circle cx="147.0" cy="135.2" r="2.7"/><circle cx="156.3" cy="139.4" r="2.7"/><circle cx="232.1" cy="104.6" r="2.7"/><circle cx="169.2" cy="152.4" r="2.7"/><circle cx="274.4" cy="41.4" r="2.7"/><circle cx="246.1" cy="75.3" r="2.7"/><circle cx="249.7" cy="64.5" r="2.7"/><circle cx="214.2" cy="80.2" r="2.7"/><circle cx="172.0" cy="159.1" r="2.7"/><circle cx="214.2" cy="112.0" r="2.7"/><circle cx="245.0" cy="68.3" r="2.7"/><circle cx="127.2" cy="171.8" r="2.7"/><circle cx="208.1" cy="135.7" r="2.7"/><circle cx="210.4" cy="115.1" r="2.7"/><circle cx="260.3" cy="57.7" r="2.7"/><circle cx="267.4" cy="48.8" r="2.7"/><circle cx="169.8" cy="134.0" r="2.7"/><circle cx="220.0" cy="98.7" r="2.7"/><circle cx="150.8" cy="141.2" r="2.7"/><circle cx="148.4" cy="127.4" r="2.7"/><circle cx="260.9" cy="64.3" r="2.7"/><circle cx="205.9" cy="127.6" r="2.7"/><circle cx="172.1" cy="105.2" r="2.7"/><circle cx="240.3" cy="79.2" r="2.7"/><circle cx="144.5" cy="157.3" r="2.7"/><circle cx="126.9" cy="189.2" r="2.7"/><circle cx="235.4" cy="81.3" r="2.7"/><circle cx="150.4" cy="146.7" r="2.7"/><circle cx="201.2" cy="93.4" r="2.7"/><circle cx="229.2" cy="102.0" r="2.7"/><circle cx="158.6" cy="142.9" r="2.7"/><circle cx="164.5" cy="140.1" r="2.7"/><circle cx="169.2" cy="120.3" r="2.7"/><circle cx="231.0" cy="83.6" r="2.7"/><circle cx="232.2" cy="97.6" r="2.7"/><circle cx="136.9" cy="161.7" r="2.7"/><circle cx="252.5" cy="66.8" r="2.7"/><circle cx="186.7" cy="95.5" r="2.7"/><circle cx="209.9" cy="96.2" r="2.7"/><circle cx="125.3" cy="167.0" r="2.7"/><circle cx="202.5" cy="77.8" r="2.7"/><circle cx="203.7" cy="102.1" r="2.7"/><circle cx="215.1" cy="100.1" r="2.7"/><circle cx="128.9" cy="188.6" r="2.7"/><circle cx="101.8" cy="198.9" r="2.7"/><circle cx="220.1" cy="90.8" r="2.7"/><circle cx="217.2" cy="111.9" r="2.7"/><circle cx="175.4" cy="138.5" r="2.7"/><circle cx="180.8" cy="135.1" r="2.7"/><circle cx="169.4" cy="135.5" r="2.7"/><circle cx="243.4" cy="83.6" r="2.7"/><circle cx="236.5" cy="95.7" r="2.7"/><circle cx="167.7" cy="117.5" r="2.7"/><circle cx="139.9" cy="171.7" r="2.7"/><circle cx="183.3" cy="124.8" r="2.7"/><circle cx="105.6" cy="178.0" r="2.7"/><circle cx="233.6" cy="95.6" r="2.7"/><circle cx="192.4" cy="141.3" r="2.7"/><circle cx="164.8" cy="151.7" r="2.7"/><circle cx="208.3" cy="114.7" r="2.7"/><circle cx="198.7" cy="91.8" r="2.7"/><circle cx="264.7" cy="51.0" r="2.7"/><circle cx="210.2" cy="91.2" r="2.7"/><circle cx="100.8" cy="179.0" r="2.7"/><circle cx="162.2" cy="167.2" r="2.7"/><circle cx="166.1" cy="130.8" r="2.7"/><circle cx="189.3" cy="86.2" r="2.7"/><circle cx="204.5" cy="116.8" r="2.7"/><circle cx="219.9" cy="87.8" r="2.7"/><circle cx="162.3" cy="140.8" r="2.7"/><circle cx="178.2" cy="128.0" r="2.7"/><circle cx="194.3" cy="118.9" r="2.7"/><circle cx="216.7" cy="79.9" r="2.7"/><circle cx="133.4" cy="165.1" r="2.7"/><circle cx="172.0" cy="113.3" r="2.7"/><circle cx="256.9" cy="58.4" r="2.7"/><circle cx="185.3" cy="135.2" r="2.7"/><circle cx="190.6" cy="90.0" r="2.7"/><circle cx="108.8" cy="189.3" r="2.7"/><circle cx="168.2" cy="106.4" r="2.7"/><circle cx="195.9" cy="120.1" r="2.7"/><circle cx="229.5" cy="80.5" r="2.7"/><circle cx="129.0" cy="146.3" r="2.7"/><circle cx="240.4" cy="94.5" r="2.7"/><circle cx="134.8" cy="162.6" r="2.7"/><circle cx="145.6" cy="148.2" r="2.7"/><circle cx="186.9" cy="117.9" r="2.7"/><circle cx="181.9" cy="105.3" r="2.7"/><circle cx="148.7" cy="148.8" r="2.7"/><circle cx="228.6" cy="100.5" r="2.7"/><circle cx="137.5" cy="166.7" r="2.7"/><circle cx="168.0" cy="135.6" r="2.7"/><circle cx="262.3" cy="55.2" r="2.7"/><circle cx="263.4" cy="55.5" r="2.7"/><circle cx="222.9" cy="94.3" r="2.7"/><circle cx="146.8" cy="138.4" r="2.7"/><circle cx="177.9" cy="102.6" r="2.7"/><circle cx="122.3" cy="174.9" r="2.7"/><circle cx="213.1" cy="103.1" r="2.7"/><circle cx="225.0" cy="88.5" r="2.7"/><circle cx="162.6" cy="171.6" r="2.7"/><circle cx="181.2" cy="130.1" r="2.7"/><circle cx="176.5" cy="129.3" r="2.7"/><circle cx="150.6" cy="134.2" r="2.7"/><circle cx="321.5" cy="9.0" r="2.7"/><circle cx="302.5" cy="22.2" r="2.7"/><circle cx="305.0" cy="20.5" r="2.7"/><circle cx="307.5" cy="18.5" r="2.7"/><circle cx="310.5" cy="16.0" r="2.7"/><circle cx="312.5" cy="14.8" r="2.7"/><circle cx="285.0" cy="36.0" r="2.7"/><circle cx="287.5" cy="34.0" r="2.7"/><circle cx="290.0" cy="32.5" r="2.7"/><circle cx="292.5" cy="30.5" r="2.7"/><circle cx="294.5" cy="29.5" r="2.7"/><circle cx="281.0" cy="40.0" r="2.7"/><circle cx="283.0" cy="38.5" r="2.7"/><circle cx="286.0" cy="44.5" r="2.7"/><circle cx="276.7" cy="42.5" r="2.7"/><circle cx="279.2" cy="40.8" r="2.7"/></g>
<g clip-path="url(#clipa)"><line x1="48.25" y1="232.40" x2="326.05" y2="7.60" stroke="#000" stroke-width="1.3"/><line x1="48.25" y1="223.77" x2="326.05" y2="-1.03" stroke="rgb(225,22,28)" stroke-width="1.3" stroke-dasharray="5,6.38"/><line x1="48.25" y1="241.03" x2="326.05" y2="16.23" stroke="rgb(225,22,28)" stroke-width="1.3" stroke-dasharray="5,6.38"/></g>
<line x1="76.03" y1="232.40" x2="76.03" y2="230.40" stroke="#333" stroke-width="1"/>
<line x1="48.25" y1="209.92" x2="50.25" y2="209.92" stroke="#333" stroke-width="1"/>
<line x1="103.81" y1="232.40" x2="103.81" y2="228.40" stroke="#333" stroke-width="1"/>
<line x1="48.25" y1="187.44" x2="52.25" y2="187.44" stroke="#333" stroke-width="1"/>
<line x1="131.59" y1="232.40" x2="131.59" y2="230.40" stroke="#333" stroke-width="1"/>
<line x1="48.25" y1="164.96" x2="50.25" y2="164.96" stroke="#333" stroke-width="1"/>
<line x1="159.37" y1="232.40" x2="159.37" y2="228.40" stroke="#333" stroke-width="1"/>
<line x1="48.25" y1="142.48" x2="52.25" y2="142.48" stroke="#333" stroke-width="1"/>
<line x1="187.15" y1="232.40" x2="187.15" y2="230.40" stroke="#333" stroke-width="1"/>
<line x1="48.25" y1="120.00" x2="50.25" y2="120.00" stroke="#333" stroke-width="1"/>
<line x1="214.93" y1="232.40" x2="214.93" y2="228.40" stroke="#333" stroke-width="1"/>
<line x1="48.25" y1="97.52" x2="52.25" y2="97.52" stroke="#333" stroke-width="1"/>
<line x1="242.71" y1="232.40" x2="242.71" y2="230.40" stroke="#333" stroke-width="1"/>
<line x1="48.25" y1="75.04" x2="50.25" y2="75.04" stroke="#333" stroke-width="1"/>
<line x1="270.49" y1="232.40" x2="270.49" y2="228.40" stroke="#333" stroke-width="1"/>
<line x1="48.25" y1="52.56" x2="52.25" y2="52.56" stroke="#333" stroke-width="1"/>
<line x1="298.27" y1="232.40" x2="298.27" y2="230.40" stroke="#333" stroke-width="1"/>
<line x1="48.25" y1="30.08" x2="50.25" y2="30.08" stroke="#333" stroke-width="1"/>
<line x1="326.05" y1="232.40" x2="326.05" y2="228.40" stroke="#333" stroke-width="1"/>
<line x1="48.25" y1="7.60" x2="52.25" y2="7.60" stroke="#333" stroke-width="1"/>
<rect x="48.25" y="7.60" width="277.80" height="224.80" fill="none" stroke="#666" stroke-width="1.25"/>
<rect x="54.20" y="13.3" width="100.1" height="44.1" fill="#fff" stroke="#7a7a7a" stroke-width="0.9"/>
<circle cx="68.70" cy="21.5" r="2.2" fill="#6aaee0"/>
<line x1="55.90" y1="35.3" x2="82.00" y2="35.3" stroke="#666" stroke-width="0.95"/>
<line x1="55.40" y1="49.45" x2="82.60" y2="49.45" stroke="rgb(225,22,28)" stroke-width="1.5" stroke-dasharray="5,6.38"/>
<text x="85.10" y="25.3" font-size="11.6">Data</text>
<text x="85.10" y="39.3" font-size="11.6">1:1 line</text>
<text x="84.50" y="54.0" font-size="11.75">±1 SD of error</text>
<text x="320.30" y="254.2" font-size="16.0" text-anchor="end">10</text>
<text x="320.50" y="243.6" font-size="10.5">−2</text>
<text x="36.85" y="20.30" font-size="16.0" text-anchor="end">10</text>
<text x="33.00" y="6.60" font-size="10.5">−2</text>
<text x="264.74" y="254.2" font-size="16.0" text-anchor="end">10</text>
<text x="264.94" y="243.6" font-size="10.5">−3</text>
<text x="36.85" y="64.40" font-size="16.0" text-anchor="end">10</text>
<text x="33.00" y="51.40" font-size="10.5">−3</text>
<text x="209.18" y="254.2" font-size="16.0" text-anchor="end">10</text>
<text x="209.38" y="243.6" font-size="10.5">−4</text>
<text x="36.85" y="108.80" font-size="16.0" text-anchor="end">10</text>
<text x="33.00" y="96.10" font-size="10.5">−4</text>
<text x="153.62" y="254.2" font-size="16.0" text-anchor="end">10</text>
<text x="153.82" y="243.6" font-size="10.5">−5</text>
<text x="36.85" y="153.50" font-size="16.0" text-anchor="end">10</text>
<text x="33.00" y="141.00" font-size="10.5">−5</text>
<text x="98.06" y="254.2" font-size="16.0" text-anchor="end">10</text>
<text x="98.26" y="243.6" font-size="10.5">−6</text>
<text x="36.85" y="198.00" font-size="16.0" text-anchor="end">10</text>
<text x="33.00" y="185.40" font-size="10.5">−6</text>
<text x="42.50" y="254.2" font-size="16.0" text-anchor="end">10</text>
<text x="42.70" y="243.6" font-size="10.5">−7</text>
<text x="36.85" y="241.70" font-size="16.0" text-anchor="end">10</text>
<text x="33.00" y="230.20" font-size="10.5">−7</text>
<text x="236.00" y="196.4" font-size="14.6">Training set</text>
<text x="236.00" y="214.9" font-size="14.6">σ =0.192</text>
<g clip-path="url(#clipb)" fill="rgb(22,118,198)" fill-opacity="0.6"><circle cx="541.8" cy="119.6" r="2.7"/><circle cx="480.3" cy="147.2" r="2.7"/><circle cx="533.7" cy="120.6" r="2.7"/><circle cx="598.9" cy="67.2" r="2.7"/><circle cx="508.4" cy="148.2" r="2.7"/><circle cx="599.3" cy="67.2" r="2.7"/><circle cx="510.7" cy="153.8" r="2.7"/><circle cx="594.7" cy="82.4" r="2.7"/><circle cx="558.4" cy="97.5" r="2.7"/><circle cx="541.8" cy="117.2" r="2.7"/><circle cx="517.3" cy="147.9" r="2.7"/><circle cx="476.2" cy="179.7" r="2.7"/><circle cx="544.3" cy="123.8" r="2.7"/><circle cx="563.6" cy="107.6" r="2.7"/><circle cx="517.3" cy="132.4" r="2.7"/><circle cx="571.7" cy="78.0" r="2.7"/><circle cx="480.3" cy="188.1" r="2.7"/><circle cx="586.7" cy="79.3" r="2.7"/><circle cx="576.8" cy="78.8" r="2.7"/><circle cx="517.0" cy="149.8" r="2.7"/><circle cx="510.8" cy="152.0" r="2.7"/><circle cx="549.7" cy="103.3" r="2.7"/><circle cx="521.3" cy="116.9" r="2.7"/><circle cx="502.2" cy="155.2" r="2.7"/><circle cx="539.5" cy="114.1" r="2.7"/><circle cx="527.6" cy="140.2" r="2.7"/><circle cx="492.6" cy="165.3" r="2.7"/><circle cx="486.9" cy="163.9" r="2.7"/><circle cx="552.3" cy="107.9" r="2.7"/><circle cx="501.7" cy="167.2" r="2.7"/><circle cx="543.3" cy="106.4" r="2.7"/><circle cx="529.8" cy="118.9" r="2.7"/><circle cx="562.1" cy="105.5" r="2.7"/><circle cx="489.7" cy="154.1" r="2.7"/><circle cx="550.5" cy="126.4" r="2.7"/><circle cx="568.6" cy="99.0" r="2.7"/><circle cx="581.7" cy="79.3" r="2.7"/><circle cx="579.7" cy="77.4" r="2.7"/><circle cx="576.5" cy="83.8" r="2.7"/><circle cx="578.4" cy="77.7" r="2.7"/><circle cx="489.4" cy="172.3" r="2.7"/><circle cx="547.5" cy="131.9" r="2.7"/><circle cx="573.5" cy="92.0" r="2.7"/><circle cx="567.7" cy="111.9" r="2.7"/><circle cx="539.0" cy="132.0" r="2.7"/><circle cx="544.2" cy="109.6" r="2.7"/><circle cx="533.0" cy="138.1" r="2.7"/><circle cx="458.4" cy="181.5" r="2.7"/><circle cx="545.6" cy="103.8" r="2.7"/><circle cx="478.5" cy="179.2" r="2.7"/><circle cx="514.2" cy="130.6" r="2.7"/><circle cx="526.4" cy="132.1" r="2.7"/><circle cx="487.7" cy="171.7" r="2.7"/><circle cx="467.2" cy="173.6" r="2.7"/><circle cx="483.5" cy="153.6" r="2.7"/><circle cx="572.0" cy="94.5" r="2.7"/><circle cx="505.5" cy="160.5" r="2.7"/><circle cx="469.1" cy="181.9" r="2.7"/><circle cx="481.7" cy="177.3" r="2.7"/><circle cx="581.0" cy="94.1" r="2.7"/><circle cx="537.4" cy="111.8" r="2.7"/><circle cx="610.6" cy="69.3" r="2.7"/><circle cx="587.6" cy="86.3" r="2.7"/><circle cx="531.8" cy="117.9" r="2.7"/><circle cx="562.2" cy="108.1" r="2.7"/><circle cx="494.7" cy="147.3" r="2.7"/><circle cx="500.7" cy="129.5" r="2.7"/><circle cx="588.7" cy="71.4" r="2.7"/><circle cx="549.9" cy="105.3" r="2.7"/><circle cx="536.2" cy="130.7" r="2.7"/><circle cx="545.3" cy="120.8" r="2.7"/><circle cx="579.1" cy="76.6" r="2.7"/><circle cx="485.6" cy="151.2" r="2.7"/><circle cx="564.9" cy="98.5" r="2.7"/><circle cx="524.3" cy="136.1" r="2.7"/><circle cx="575.1" cy="92.4" r="2.7"/><circle cx="554.0" cy="135.0" r="2.7"/><circle cx="466.0" cy="185.8" r="2.7"/><circle cx="461.9" cy="170.7" r="2.7"/><circle cx="518.6" cy="141.4" r="2.7"/><circle cx="568.8" cy="91.1" r="2.7"/><circle cx="482.8" cy="176.6" r="2.7"/><circle cx="559.6" cy="118.9" r="2.7"/><circle cx="519.9" cy="112.1" r="2.7"/><circle cx="479.1" cy="171.5" r="2.7"/><circle cx="553.6" cy="104.5" r="2.7"/><circle cx="577.5" cy="91.2" r="2.7"/><circle cx="507.2" cy="146.8" r="2.7"/><circle cx="518.8" cy="135.1" r="2.7"/><circle cx="489.1" cy="183.4" r="2.7"/><circle cx="520.7" cy="140.6" r="2.7"/><circle cx="575.7" cy="94.3" r="2.7"/><circle cx="570.6" cy="100.5" r="2.7"/><circle cx="603.8" cy="70.1" r="2.7"/><circle cx="479.0" cy="161.5" r="2.7"/><circle cx="486.3" cy="152.8" r="2.7"/><circle cx="562.8" cy="89.4" r="2.7"/><circle cx="597.6" cy="79.9" r="2.7"/><circle cx="532.2" cy="116.9" r="2.7"/><circle cx="499.2" cy="158.7" r="2.7"/><circle cx="570.9" cy="84.6" r="2.7"/><circle cx="532.5" cy="111.7" r="2.7"/><circle cx="550.1" cy="118.7" r="2.7"/><circle cx="537.8" cy="126.4" r="2.7"/><circle cx="534.9" cy="107.0" r="2.7"/><circle cx="592.6" cy="81.4" r="2.7"/><circle cx="529.5" cy="141.0" r="2.7"/><circle cx="477.5" cy="171.6" r="2.7"/><circle cx="526.3" cy="144.9" r="2.7"/><circle cx="489.4" cy="166.0" r="2.7"/><circle cx="487.7" cy="169.5" r="2.7"/><circle cx="581.6" cy="81.4" r="2.7"/><circle cx="549.4" cy="116.0" r="2.7"/><circle cx="504.7" cy="148.4" r="2.7"/><circle cx="561.7" cy="94.6" r="2.7"/><circle cx="515.2" cy="129.6" r="2.7"/><circle cx="515.7" cy="146.3" r="2.7"/><circle cx="490.8" cy="170.5" r="2.7"/><circle cx="533.1" cy="132.6" r="2.7"/><circle cx="556.9" cy="130.1" r="2.7"/><circle cx="521.6" cy="131.3" r="2.7"/><circle cx="542.2" cy="108.7" r="2.7"/><circle cx="578.9" cy="77.6" r="2.7"/><circle cx="490.9" cy="170.4" r="2.7"/><circle cx="503.0" cy="148.2" r="2.7"/><circle cx="478.9" cy="176.9" r="2.7"/><circle cx="486.3" cy="176.2" r="2.7"/><circle cx="528.9" cy="127.8" r="2.7"/><circle cx="476.9" cy="165.9" r="2.7"/><circle cx="553.8" cy="109.2" r="2.7"/><circle cx="520.4" cy="131.1" r="2.7"/><circle cx="504.8" cy="154.0" r="2.7"/><circle cx="507.0" cy="153.1" r="2.7"/><circle cx="563.9" cy="113.2" r="2.7"/><circle cx="492.9" cy="153.4" r="2.7"/><circle cx="555.9" cy="83.0" r="2.7"/><circle cx="493.8" cy="165.1" r="2.7"/><circle cx="614.3" cy="70.1" r="2.7"/><circle cx="564.4" cy="112.4" r="2.7"/><circle cx="527.2" cy="128.0" r="2.7"/><circle cx="523.1" cy="125.4" r="2.7"/><circle cx="522.6" cy="132.9" r="2.7"/><circle cx="534.5" cy="131.2" r="2.7"/><circle cx="560.6" cy="110.1" r="2.7"/><circle cx="535.2" cy="123.5" r="2.7"/><circle cx="473.8" cy="184.7" r="2.7"/><circle cx="506.1" cy="144.7" r="2.7"/><circle cx="544.2" cy="108.4" r="2.7"/><circle cx="602.8" cy="64.3" r="2.7"/><circle cx="505.3" cy="145.3" r="2.7"/><circle cx="553.6" cy="120.1" r="2.7"/><circle cx="510.6" cy="133.4" r="2.7"/><circle cx="494.3" cy="149.6" r="2.7"/><circle cx="531.3" cy="118.7" r="2.7"/><circle cx="502.2" cy="140.5" r="2.7"/><circle cx="534.8" cy="124.5" r="2.7"/><circle cx="486.2" cy="166.1" r="2.7"/><circle cx="552.0" cy="105.1" r="2.7"/><circle cx="496.8" cy="144.8" r="2.7"/><circle cx="532.0" cy="133.5" r="2.7"/><circle cx="484.2" cy="148.2" r="2.7"/><circle cx="501.3" cy="160.2" r="2.7"/><circle cx="558.1" cy="105.2" r="2.7"/><circle cx="522.9" cy="146.5" r="2.7"/><circle cx="576.3" cy="100.9" r="2.7"/><circle cx="599.2" cy="83.0" r="2.7"/><circle cx="486.9" cy="154.9" r="2.7"/><circle cx="566.5" cy="106.9" r="2.7"/><circle cx="506.7" cy="151.9" r="2.7"/><circle cx="580.8" cy="86.5" r="2.7"/><circle cx="521.8" cy="160.1" r="2.7"/><circle cx="517.5" cy="163.5" r="2.7"/><circle cx="551.9" cy="122.4" r="2.7"/><circle cx="591.7" cy="54.6" r="2.7"/><circle cx="473.9" cy="177.0" r="2.7"/><circle cx="550.8" cy="101.4" r="2.7"/><circle cx="532.7" cy="138.7" r="2.7"/><circle cx="538.2" cy="131.6" r="2.7"/><circle cx="485.1" cy="176.7" r="2.7"/><circle cx="527.2" cy="121.4" r="2.7"/><circle cx="544.2" cy="131.3" r="2.7"/><circle cx="548.1" cy="111.2" r="2.7"/><circle cx="504.9" cy="140.6" r="2.7"/><circle cx="498.6" cy="157.9" r="2.7"/><circle cx="553.5" cy="118.9" r="2.7"/><circle cx="564.6" cy="95.2" r="2.7"/><circle cx="564.9" cy="99.1" r="2.7"/><circle cx="497.4" cy="162.8" r="2.7"/><circle cx="586.2" cy="85.3" r="2.7"/><circle cx="541.5" cy="127.1" r="2.7"/><circle cx="536.1" cy="111.3" r="2.7"/><circle cx="589.2" cy="83.4" r="2.7"/><circle cx="525.1" cy="129.2" r="2.7"/><circle cx="549.2" cy="117.4" r="2.7"/><circle cx="513.0" cy="143.1" r="2.7"/><circle cx="490.1" cy="184.0" r="2.7"/><circle cx="474.5" cy="183.6" r="2.7"/><circle cx="479.1" cy="163.1" r="2.7"/><circle cx="510.5" cy="142.9" r="2.7"/><circle cx="501.3" cy="152.3" r="2.7"/><circle cx="582.4" cy="90.1" r="2.7"/><circle cx="554.5" cy="114.3" r="2.7"/><circle cx="539.5" cy="106.8" r="2.7"/><circle cx="535.5" cy="123.4" r="2.7"/><circle cx="557.3" cy="101.4" r="2.7"/><circle cx="526.0" cy="131.4" r="2.7"/><circle cx="545.7" cy="122.4" r="2.7"/><circle cx="502.0" cy="156.1" r="2.7"/><circle cx="537.4" cy="118.0" r="2.7"/><circle cx="536.3" cy="124.9" r="2.7"/><circle cx="569.4" cy="84.2" r="2.7"/><circle cx="562.7" cy="95.9" r="2.7"/><circle cx="491.2" cy="170.2" r="2.7"/><circle cx="564.0" cy="96.4" r="2.7"/><circle cx="552.0" cy="120.1" r="2.7"/><circle cx="516.0" cy="144.8" r="2.7"/><circle cx="536.3" cy="129.6" r="2.7"/><circle cx="532.7" cy="138.1" r="2.7"/><circle cx="542.5" cy="114.9" r="2.7"/><circle cx="583.5" cy="79.3" r="2.7"/><circle cx="495.5" cy="162.4" r="2.7"/><circle cx="552.0" cy="115.8" r="2.7"/><circle cx="594.7" cy="75.2" r="2.7"/><circle cx="566.1" cy="97.9" r="2.7"/><circle cx="489.1" cy="154.9" r="2.7"/><circle cx="472.0" cy="171.4" r="2.7"/><circle cx="569.1" cy="86.5" r="2.7"/><circle cx="559.7" cy="113.2" r="2.7"/><circle cx="548.5" cy="114.3" r="2.7"/><circle cx="547.8" cy="95.9" r="2.7"/><circle cx="478.5" cy="192.9" r="2.7"/><circle cx="524.6" cy="129.3" r="2.7"/><circle cx="579.0" cy="72.6" r="2.7"/><circle cx="469.0" cy="169.6" r="2.7"/><circle cx="518.0" cy="147.2" r="2.7"/><circle cx="479.6" cy="162.9" r="2.7"/><circle cx="517.7" cy="128.8" r="2.7"/><circle cx="486.4" cy="162.5" r="2.7"/><circle cx="521.3" cy="145.1" r="2.7"/><circle cx="542.3" cy="118.8" r="2.7"/><circle cx="506.1" cy="151.3" r="2.7"/><circle cx="545.2" cy="122.9" r="2.7"/><circle cx="536.6" cy="118.2" r="2.7"/><circle cx="535.4" cy="100.0" r="2.7"/><circle cx="536.7" cy="134.0" r="2.7"/><circle cx="533.1" cy="118.3" r="2.7"/><circle cx="562.3" cy="103.1" r="2.7"/><circle cx="525.2" cy="106.2" r="2.7"/><circle cx="515.1" cy="140.5" r="2.7"/><circle cx="479.3" cy="177.5" r="2.7"/><circle cx="529.3" cy="126.8" r="2.7"/><circle cx="577.2" cy="97.1" r="2.7"/><circle cx="539.3" cy="108.2" r="2.7"/><circle cx="528.8" cy="120.9" r="2.7"/><circle cx="554.6" cy="106.8" r="2.7"/><circle cx="500.7" cy="168.7" r="2.7"/><circle cx="484.7" cy="173.3" r="2.7"/><circle cx="535.1" cy="117.8" r="2.7"/><circle cx="564.9" cy="108.5" r="2.7"/><circle cx="483.1" cy="176.2" r="2.7"/><circle cx="562.2" cy="110.7" r="2.7"/><circle cx="493.8" cy="170.1" r="2.7"/><circle cx="462.5" cy="174.3" r="2.7"/><circle cx="471.0" cy="192.5" r="2.7"/><circle cx="548.2" cy="113.7" r="2.7"/><circle cx="555.9" cy="93.8" r="2.7"/><circle cx="569.9" cy="95.9" r="2.7"/><circle cx="577.4" cy="65.7" r="2.7"/><circle cx="602.2" cy="61.9" r="2.7"/><circle cx="585.5" cy="96.3" r="2.7"/><circle cx="595.7" cy="72.4" r="2.7"/><circle cx="466.3" cy="171.3" r="2.7"/><circle cx="590.3" cy="76.3" r="2.7"/><circle cx="577.1" cy="82.4" r="2.7"/><circle cx="487.4" cy="156.9" r="2.7"/><circle cx="486.6" cy="166.6" r="2.7"/><circle cx="560.3" cy="107.4" r="2.7"/><circle cx="527.3" cy="122.4" r="2.7"/><circle cx="520.5" cy="142.7" r="2.7"/><circle cx="565.2" cy="105.8" r="2.7"/><circle cx="605.9" cy="69.9" r="2.7"/><circle cx="560.4" cy="110.8" r="2.7"/><circle cx="576.6" cy="78.0" r="2.7"/><circle cx="567.5" cy="98.3" r="2.7"/><circle cx="538.6" cy="126.0" r="2.7"/><circle cx="508.1" cy="133.4" r="2.7"/><circle cx="555.1" cy="104.0" r="2.7"/><circle cx="488.6" cy="151.7" r="2.7"/><circle cx="517.0" cy="133.2" r="2.7"/><circle cx="524.0" cy="129.8" r="2.7"/><circle cx="563.2" cy="101.3" r="2.7"/><circle cx="508.2" cy="155.4" r="2.7"/><circle cx="498.0" cy="138.7" r="2.7"/><circle cx="493.9" cy="158.7" r="2.7"/><circle cx="539.4" cy="112.9" r="2.7"/><circle cx="515.7" cy="144.7" r="2.7"/><circle cx="527.4" cy="126.9" r="2.7"/><circle cx="533.2" cy="128.8" r="2.7"/><circle cx="554.6" cy="109.3" r="2.7"/><circle cx="493.7" cy="163.4" r="2.7"/><circle cx="570.0" cy="90.1" r="2.7"/><circle cx="490.1" cy="151.5" r="2.7"/><circle cx="546.8" cy="113.7" r="2.7"/><circle cx="569.6" cy="78.7" r="2.7"/><circle cx="497.1" cy="156.0" r="2.7"/><circle cx="576.2" cy="79.7" r="2.7"/><circle cx="578.8" cy="83.1" r="2.7"/><circle cx="523.9" cy="143.2" r="2.7"/><circle cx="565.4" cy="111.0" r="2.7"/><circle cx="500.9" cy="137.8" r="2.7"/><circle cx="504.2" cy="147.9" r="2.7"/><circle cx="500.7" cy="156.8" r="2.7"/><circle cx="544.5" cy="115.4" r="2.7"/><circle cx="591.6" cy="61.4" r="2.7"/><circle cx="515.5" cy="128.8" r="2.7"/><circle cx="562.2" cy="108.2" r="2.7"/><circle cx="525.0" cy="118.8" r="2.7"/><circle cx="585.9" cy="83.3" r="2.7"/><circle cx="507.6" cy="151.9" r="2.7"/><circle cx="503.1" cy="140.4" r="2.7"/><circle cx="508.8" cy="152.5" r="2.7"/><circle cx="469.7" cy="160.4" r="2.7"/><circle cx="499.8" cy="152.3" r="2.7"/><circle cx="481.0" cy="144.0" r="2.7"/><circle cx="490.9" cy="170.8" r="2.7"/><circle cx="565.9" cy="86.2" r="2.7"/><circle cx="546.5" cy="123.7" r="2.7"/><circle cx="518.8" cy="132.7" r="2.7"/><circle cx="484.3" cy="168.2" r="2.7"/><circle cx="577.2" cy="81.4" r="2.7"/><circle cx="533.6" cy="133.0" r="2.7"/><circle cx="526.5" cy="119.3" r="2.7"/><circle cx="558.0" cy="116.1" r="2.7"/><circle cx="579.2" cy="81.1" r="2.7"/><circle cx="493.5" cy="145.6" r="2.7"/><circle cx="484.6" cy="163.3" r="2.7"/><circle cx="529.8" cy="115.5" r="2.7"/><circle cx="553.1" cy="100.4" r="2.7"/><circle cx="544.9" cy="112.1" r="2.7"/><circle cx="484.0" cy="178.2" r="2.7"/><circle cx="559.9" cy="96.1" r="2.7"/><circle cx="499.9" cy="141.8" r="2.7"/><circle cx="549.8" cy="109.1" r="2.7"/><circle cx="489.8" cy="157.0" r="2.7"/><circle cx="538.3" cy="114.9" r="2.7"/><circle cx="491.9" cy="146.6" r="2.7"/><circle cx="491.8" cy="159.8" r="2.7"/><circle cx="579.6" cy="89.9" r="2.7"/><circle cx="534.4" cy="122.7" r="2.7"/><circle cx="483.9" cy="152.1" r="2.7"/><circle cx="494.7" cy="161.4" r="2.7"/><circle cx="539.3" cy="114.2" r="2.7"/><circle cx="559.0" cy="93.1" r="2.7"/><circle cx="538.2" cy="112.3" r="2.7"/><circle cx="506.5" cy="146.8" r="2.7"/><circle cx="535.1" cy="130.7" r="2.7"/><circle cx="563.7" cy="91.7" r="2.7"/><circle cx="520.1" cy="114.4" r="2.7"/><circle cx="524.1" cy="136.0" r="2.7"/><circle cx="504.4" cy="139.0" r="2.7"/><circle cx="606.8" cy="82.3" r="2.7"/><circle cx="489.5" cy="164.1" r="2.7"/><circle cx="485.5" cy="157.0" r="2.7"/><circle cx="493.9" cy="162.8" r="2.7"/><circle cx="450.7" cy="205.5" r="2.7"/><circle cx="574.7" cy="82.1" r="2.7"/><circle cx="482.0" cy="166.4" r="2.7"/><circle cx="517.4" cy="130.6" r="2.7"/><circle cx="598.0" cy="76.7" r="2.7"/><circle cx="539.6" cy="129.8" r="2.7"/><circle cx="547.7" cy="126.2" r="2.7"/><circle cx="540.3" cy="100.3" r="2.7"/><circle cx="490.5" cy="165.7" r="2.7"/><circle cx="513.9" cy="128.2" r="2.7"/><circle cx="580.0" cy="78.2" r="2.7"/><circle cx="576.1" cy="87.0" r="2.7"/><circle cx="508.1" cy="167.9" r="2.7"/><circle cx="596.8" cy="74.2" r="2.7"/><circle cx="535.8" cy="116.2" r="2.7"/><circle cx="540.5" cy="117.2" r="2.7"/><circle cx="473.2" cy="179.5" r="2.7"/><circle cx="531.1" cy="145.2" r="2.7"/><circle cx="523.1" cy="156.4" r="2.7"/><circle cx="471.4" cy="183.1" r="2.7"/><circle cx="593.0" cy="68.5" r="2.7"/><circle cx="505.4" cy="143.0" r="2.7"/><circle cx="491.9" cy="151.8" r="2.7"/><circle cx="527.1" cy="133.8" r="2.7"/><circle cx="539.0" cy="115.1" r="2.7"/><circle cx="577.0" cy="93.6" r="2.7"/><circle cx="584.9" cy="83.5" r="2.7"/><circle cx="481.5" cy="179.2" r="2.7"/><circle cx="516.3" cy="153.1" r="2.7"/><circle cx="569.0" cy="86.4" r="2.7"/><circle cx="496.9" cy="135.2" r="2.7"/><circle cx="541.1" cy="116.6" r="2.7"/><circle cx="557.7" cy="99.8" r="2.7"/><circle cx="562.2" cy="75.7" r="2.7"/><circle cx="566.7" cy="89.0" r="2.7"/><circle cx="495.0" cy="163.0" r="2.7"/><circle cx="561.3" cy="115.1" r="2.7"/><circle cx="549.0" cy="102.5" r="2.7"/><circle cx="478.3" cy="159.8" r="2.7"/><circle cx="610.1" cy="45.8" r="2.7"/><circle cx="537.4" cy="110.3" r="2.7"/><circle cx="514.9" cy="141.5" r="2.7"/><circle cx="503.5" cy="162.3" r="2.7"/><circle cx="497.3" cy="142.0" r="2.7"/><circle cx="488.9" cy="169.9" r="2.7"/><circle cx="477.3" cy="192.5" r="2.7"/><circle cx="584.8" cy="85.4" r="2.7"/><circle cx="549.2" cy="125.2" r="2.7"/><circle cx="542.3" cy="104.5" r="2.7"/><circle cx="597.7" cy="68.6" r="2.7"/><circle cx="575.2" cy="87.9" r="2.7"/><circle cx="483.0" cy="164.3" r="2.7"/><circle cx="484.2" cy="164.3" r="2.7"/><circle cx="480.2" cy="166.3" r="2.7"/><circle cx="536.6" cy="129.4" r="2.7"/><circle cx="582.9" cy="87.3" r="2.7"/><circle cx="564.1" cy="107.0" r="2.7"/><circle cx="497.8" cy="158.9" r="2.7"/><circle cx="527.9" cy="122.6" r="2.7"/><circle cx="512.5" cy="142.9" r="2.7"/><circle cx="544.3" cy="121.7" r="2.7"/><circle cx="485.2" cy="156.0" r="2.7"/><circle cx="502.9" cy="157.1" r="2.7"/><circle cx="491.6" cy="174.8" r="2.7"/><circle cx="608.6" cy="57.9" r="2.7"/><circle cx="505.1" cy="141.2" r="2.7"/><circle cx="506.9" cy="151.6" r="2.7"/><circle cx="522.1" cy="139.9" r="2.7"/><circle cx="526.5" cy="123.4" r="2.7"/><circle cx="508.6" cy="153.6" r="2.7"/><circle cx="577.4" cy="90.8" r="2.7"/><circle cx="590.6" cy="78.3" r="2.7"/><circle cx="527.6" cy="128.2" r="2.7"/><circle cx="550.9" cy="116.4" r="2.7"/><circle cx="573.2" cy="81.9" r="2.7"/><circle cx="535.3" cy="116.2" r="2.7"/><circle cx="554.4" cy="112.6" r="2.7"/><circle cx="599.6" cy="71.2" r="2.7"/><circle cx="493.8" cy="145.4" r="2.7"/><circle cx="576.7" cy="97.4" r="2.7"/><circle cx="572.8" cy="86.2" r="2.7"/><circle cx="484.3" cy="173.5" r="2.7"/><circle cx="543.9" cy="116.9" r="2.7"/><circle cx="529.3" cy="125.0" r="2.7"/><circle cx="507.5" cy="140.7" r="2.7"/><circle cx="526.0" cy="138.5" r="2.7"/><circle cx="476.4" cy="153.5" r="2.7"/><circle cx="613.7" cy="56.0" r="2.7"/><circle cx="516.7" cy="154.0" r="2.7"/><circle cx="496.4" cy="160.3" r="2.7"/><circle cx="594.7" cy="78.5" r="2.7"/><circle cx="538.1" cy="119.3" r="2.7"/><circle cx="544.0" cy="104.3" r="2.7"/><circle cx="557.9" cy="100.9" r="2.7"/><circle cx="567.5" cy="86.9" r="2.7"/><circle cx="536.5" cy="115.4" r="2.7"/><circle cx="522.0" cy="128.9" r="2.7"/><circle cx="522.2" cy="128.9" r="2.7"/><circle cx="604.1" cy="69.3" r="2.7"/><circle cx="570.5" cy="93.8" r="2.7"/><circle cx="519.5" cy="158.3" r="2.7"/><circle cx="553.5" cy="104.1" r="2.7"/><circle cx="520.4" cy="123.2" r="2.7"/><circle cx="589.1" cy="101.2" r="2.7"/><circle cx="531.2" cy="122.8" r="2.7"/><circle cx="488.2" cy="170.7" r="2.7"/><circle cx="494.1" cy="136.0" r="2.7"/><circle cx="554.1" cy="115.6" r="2.7"/><circle cx="477.9" cy="164.1" r="2.7"/><circle cx="537.4" cy="132.3" r="2.7"/><circle cx="482.8" cy="181.7" r="2.7"/><circle cx="559.9" cy="102.6" r="2.7"/><circle cx="510.4" cy="132.6" r="2.7"/><circle cx="561.4" cy="95.2" r="2.7"/><circle cx="503.6" cy="142.5" r="2.7"/><circle cx="490.3" cy="155.3" r="2.7"/><circle cx="491.8" cy="155.8" r="2.7"/><circle cx="587.2" cy="78.5" r="2.7"/><circle cx="543.2" cy="91.5" r="2.7"/><circle cx="575.8" cy="86.7" r="2.7"/><circle cx="565.8" cy="103.8" r="2.7"/><circle cx="592.2" cy="70.1" r="2.7"/><circle cx="520.4" cy="129.6" r="2.7"/><circle cx="465.4" cy="186.8" r="2.7"/><circle cx="540.1" cy="126.3" r="2.7"/><circle cx="543.4" cy="120.0" r="2.7"/><circle cx="512.3" cy="150.4" r="2.7"/><circle cx="557.3" cy="117.5" r="2.7"/><circle cx="546.6" cy="113.2" r="2.7"/><circle cx="482.9" cy="163.9" r="2.7"/><circle cx="543.1" cy="123.8" r="2.7"/><circle cx="598.3" cy="78.7" r="2.7"/><circle cx="526.8" cy="117.0" r="2.7"/><circle cx="540.4" cy="107.2" r="2.7"/><circle cx="594.8" cy="78.1" r="2.7"/><circle cx="479.5" cy="164.6" r="2.7"/><circle cx="493.0" cy="161.8" r="2.7"/><circle cx="528.5" cy="117.8" r="2.7"/><circle cx="564.5" cy="109.8" r="2.7"/><circle cx="537.2" cy="120.8" r="2.7"/><circle cx="517.4" cy="137.5" r="2.7"/><circle cx="515.6" cy="131.3" r="2.7"/><circle cx="520.7" cy="133.1" r="2.7"/><circle cx="595.9" cy="58.4" r="2.7"/><circle cx="532.1" cy="115.8" r="2.7"/><circle cx="498.9" cy="153.8" r="2.7"/><circle cx="538.0" cy="122.0" r="2.7"/><circle cx="552.4" cy="117.9" r="2.7"/><circle cx="511.0" cy="159.7" r="2.7"/><circle cx="500.4" cy="148.6" r="2.7"/><circle cx="578.1" cy="97.4" r="2.7"/><circle cx="485.2" cy="165.6" r="2.7"/><circle cx="556.0" cy="132.2" r="2.7"/><circle cx="556.5" cy="117.3" r="2.7"/><circle cx="504.4" cy="146.6" r="2.7"/><circle cx="514.7" cy="148.0" r="2.7"/><circle cx="480.2" cy="177.1" r="2.7"/><circle cx="501.1" cy="160.5" r="2.7"/><circle cx="588.0" cy="96.6" r="2.7"/><circle cx="533.8" cy="128.6" r="2.7"/><circle cx="511.5" cy="131.6" r="2.7"/><circle cx="461.4" cy="198.2" r="2.7"/><circle cx="502.3" cy="142.3" r="2.7"/><circle cx="453.5" cy="192.1" r="2.7"/><circle cx="530.5" cy="128.1" r="2.7"/><circle cx="525.8" cy="125.3" r="2.7"/><circle cx="551.1" cy="113.8" r="2.7"/><circle cx="544.7" cy="107.2" r="2.7"/><circle cx="507.4" cy="155.3" r="2.7"/><circle cx="453.1" cy="197.9" r="2.7"/><circle cx="540.2" cy="106.9" r="2.7"/><circle cx="502.3" cy="143.5" r="2.7"/><circle cx="488.7" cy="150.8" r="2.7"/><circle cx="561.7" cy="99.9" r="2.7"/><circle cx="538.0" cy="120.2" r="2.7"/><circle cx="481.7" cy="171.7" r="2.7"/><circle cx="533.3" cy="128.8" r="2.7"/><circle cx="548.6" cy="124.8" r="2.7"/><circle cx="557.8" cy="111.9" r="2.7"/><circle cx="496.7" cy="158.6" r="2.7"/><circle cx="544.1" cy="116.5" r="2.7"/><circle cx="494.3" cy="158.8" r="2.7"/><circle cx="542.3" cy="130.3" r="2.7"/><circle cx="549.6" cy="110.1" r="2.7"/><circle cx="584.7" cy="86.9" r="2.7"/><circle cx="497.3" cy="146.7" r="2.7"/><circle cx="469.5" cy="175.3" r="2.7"/><circle cx="520.2" cy="144.1" r="2.7"/><circle cx="504.4" cy="144.1" r="2.7"/><circle cx="477.8" cy="161.7" r="2.7"/><circle cx="592.3" cy="83.4" r="2.7"/><circle cx="488.9" cy="173.0" r="2.7"/><circle cx="527.2" cy="117.7" r="2.7"/><circle cx="521.4" cy="137.6" r="2.7"/><circle cx="600.4" cy="67.8" r="2.7"/><circle cx="520.4" cy="128.3" r="2.7"/><circle cx="532.3" cy="140.6" r="2.7"/><circle cx="551.8" cy="123.6" r="2.7"/><circle cx="563.9" cy="97.8" r="2.7"/><circle cx="561.4" cy="93.8" r="2.7"/><circle cx="571.8" cy="91.2" r="2.7"/><circle cx="586.9" cy="78.6" r="2.7"/><circle cx="574.6" cy="67.8" r="2.7"/><circle cx="558.0" cy="101.0" r="2.7"/><circle cx="516.6" cy="157.9" r="2.7"/><circle cx="481.9" cy="175.6" r="2.7"/><circle cx="538.1" cy="118.4" r="2.7"/><circle cx="579.5" cy="83.5" r="2.7"/><circle cx="525.1" cy="118.4" r="2.7"/><circle cx="569.9" cy="107.7" r="2.7"/><circle cx="561.1" cy="119.8" r="2.7"/><circle cx="533.0" cy="104.8" r="2.7"/><circle cx="474.7" cy="175.5" r="2.7"/><circle cx="493.7" cy="164.4" r="2.7"/><circle cx="522.7" cy="142.5" r="2.7"/><circle cx="515.4" cy="148.0" r="2.7"/><circle cx="477.2" cy="153.0" r="2.7"/><circle cx="499.0" cy="152.6" r="2.7"/><circle cx="544.6" cy="110.7" r="2.7"/><circle cx="477.4" cy="161.8" r="2.7"/><circle cx="561.7" cy="113.1" r="2.7"/><circle cx="515.1" cy="152.9" r="2.7"/><circle cx="526.6" cy="124.2" r="2.7"/><circle cx="511.2" cy="140.9" r="2.7"/><circle cx="506.3" cy="156.0" r="2.7"/><circle cx="486.3" cy="183.3" r="2.7"/><circle cx="542.8" cy="122.4" r="2.7"/><circle cx="550.7" cy="116.7" r="2.7"/><circle cx="492.2" cy="160.6" r="2.7"/><circle cx="558.9" cy="92.5" r="2.7"/><circle cx="540.4" cy="128.7" r="2.7"/><circle cx="472.3" cy="178.5" r="2.7"/><circle cx="559.3" cy="97.3" r="2.7"/><circle cx="479.4" cy="164.6" r="2.7"/><circle cx="475.5" cy="164.9" r="2.7"/><circle cx="555.9" cy="106.0" r="2.7"/><circle cx="559.4" cy="116.3" r="2.7"/><circle cx="494.8" cy="148.0" r="2.7"/><circle cx="530.8" cy="131.5" r="2.7"/><circle cx="567.4" cy="100.0" r="2.7"/><circle cx="511.6" cy="165.4" r="2.7"/><circle cx="559.0" cy="91.0" r="2.7"/><circle cx="489.2" cy="165.4" r="2.7"/><circle cx="567.7" cy="96.7" r="2.7"/><circle cx="517.6" cy="113.3" r="2.7"/><circle cx="515.0" cy="132.2" r="2.7"/><circle cx="535.9" cy="132.1" r="2.7"/><circle cx="539.1" cy="132.6" r="2.7"/><circle cx="523.7" cy="138.4" r="2.7"/><circle cx="524.0" cy="134.8" r="2.7"/><circle cx="519.5" cy="140.5" r="2.7"/><circle cx="495.6" cy="177.1" r="2.7"/><circle cx="502.4" cy="145.5" r="2.7"/><circle cx="539.1" cy="93.5" r="2.7"/><circle cx="532.4" cy="122.1" r="2.7"/><circle cx="490.3" cy="166.0" r="2.7"/><circle cx="504.3" cy="144.2" r="2.7"/><circle cx="589.2" cy="75.7" r="2.7"/><circle cx="555.5" cy="94.6" r="2.7"/><circle cx="498.2" cy="143.9" r="2.7"/><circle cx="494.4" cy="145.7" r="2.7"/><circle cx="586.2" cy="90.4" r="2.7"/><circle cx="518.9" cy="158.7" r="2.7"/><circle cx="491.3" cy="169.0" r="2.7"/><circle cx="550.8" cy="109.7" r="2.7"/><circle cx="567.2" cy="89.4" r="2.7"/><circle cx="493.4" cy="153.4" r="2.7"/><circle cx="509.4" cy="157.4" r="2.7"/><circle cx="568.1" cy="120.5" r="2.7"/><circle cx="518.4" cy="144.2" r="2.7"/><circle cx="581.6" cy="88.5" r="2.7"/><circle cx="545.7" cy="95.6" r="2.7"/><circle cx="487.3" cy="148.9" r="2.7"/><circle cx="566.6" cy="87.6" r="2.7"/><circle cx="561.6" cy="110.3" r="2.7"/><circle cx="578.4" cy="107.1" r="2.7"/><circle cx="555.6" cy="105.1" r="2.7"/><circle cx="543.1" cy="111.8" r="2.7"/><circle cx="550.6" cy="105.5" r="2.7"/><circle cx="549.8" cy="102.8" r="2.7"/><circle cx="604.6" cy="67.3" r="2.7"/><circle cx="479.3" cy="157.3" r="2.7"/><circle cx="581.8" cy="80.8" r="2.7"/><circle cx="597.2" cy="80.6" r="2.7"/><circle cx="488.7" cy="171.6" r="2.7"/><circle cx="543.0" cy="119.1" r="2.7"/><circle cx="499.6" cy="153.6" r="2.7"/><circle cx="560.3" cy="114.6" r="2.7"/><circle cx="505.3" cy="159.5" r="2.7"/><circle cx="572.5" cy="119.0" r="2.7"/><circle cx="486.8" cy="172.0" r="2.7"/><circle cx="553.9" cy="112.9" r="2.7"/><circle cx="480.2" cy="191.4" r="2.7"/><circle cx="554.3" cy="116.9" r="2.7"/><circle cx="576.9" cy="105.1" r="2.7"/><circle cx="554.7" cy="103.3" r="2.7"/><circle cx="538.6" cy="105.8" r="2.7"/><circle cx="525.3" cy="131.9" r="2.7"/><circle cx="476.9" cy="169.3" r="2.7"/><circle cx="477.9" cy="151.2" r="2.7"/><circle cx="611.2" cy="79.3" r="2.7"/><circle cx="500.9" cy="152.0" r="2.7"/><circle cx="559.8" cy="93.7" r="2.7"/><circle cx="501.2" cy="145.5" r="2.7"/><circle cx="524.2" cy="122.3" r="2.7"/><circle cx="567.2" cy="123.5" r="2.7"/><circle cx="535.2" cy="102.1" r="2.7"/><circle cx="497.8" cy="149.6" r="2.7"/><circle cx="507.8" cy="132.2" r="2.7"/><circle cx="543.6" cy="125.2" r="2.7"/><circle cx="506.5" cy="140.8" r="2.7"/><circle cx="555.4" cy="132.6" r="2.7"/><circle cx="482.6" cy="174.0" r="2.7"/><circle cx="544.4" cy="117.6" r="2.7"/><circle cx="479.6" cy="166.6" r="2.7"/><circle cx="484.3" cy="164.2" r="2.7"/><circle cx="539.9" cy="124.0" r="2.7"/><circle cx="523.3" cy="142.1" r="2.7"/><circle cx="487.9" cy="177.2" r="2.7"/><circle cx="516.4" cy="146.5" r="2.7"/><circle cx="512.8" cy="149.3" r="2.7"/><circle cx="530.9" cy="120.5" r="2.7"/><circle cx="534.0" cy="124.1" r="2.7"/><circle cx="567.5" cy="96.8" r="2.7"/><circle cx="586.0" cy="80.0" r="2.7"/><circle cx="538.9" cy="105.6" r="2.7"/><circle cx="574.2" cy="82.8" r="2.7"/><circle cx="476.6" cy="191.2" r="2.7"/><circle cx="514.2" cy="145.8" r="2.7"/><circle cx="495.5" cy="150.5" r="2.7"/><circle cx="485.2" cy="175.0" r="2.7"/><circle cx="577.3" cy="89.4" r="2.7"/><circle cx="466.2" cy="179.4" r="2.7"/><circle cx="551.2" cy="123.4" r="2.7"/><circle cx="593.3" cy="76.3" r="2.7"/><circle cx="499.6" cy="148.4" r="2.7"/><circle cx="482.4" cy="154.4" r="2.7"/><circle cx="555.9" cy="115.5" r="2.7"/><circle cx="491.0" cy="146.0" r="2.7"/><circle cx="492.5" cy="151.0" r="2.7"/><circle cx="576.1" cy="72.6" r="2.7"/><circle cx="572.5" cy="97.2" r="2.7"/><circle cx="548.4" cy="111.0" r="2.7"/><circle cx="518.1" cy="139.2" r="2.7"/><circle cx="612.1" cy="61.6" r="2.7"/><circle cx="507.3" cy="142.1" r="2.7"/><circle cx="539.3" cy="100.5" r="2.7"/><circle cx="592.0" cy="82.7" r="2.7"/><circle cx="470.2" cy="181.5" r="2.7"/><circle cx="517.7" cy="144.8" r="2.7"/><circle cx="568.0" cy="104.1" r="2.7"/><circle cx="556.7" cy="100.4" r="2.7"/><circle cx="480.4" cy="179.1" r="2.7"/><circle cx="503.4" cy="155.1" r="2.7"/><circle cx="519.4" cy="129.8" r="2.7"/><circle cx="613.7" cy="56.3" r="2.7"/><circle cx="560.5" cy="96.3" r="2.7"/><circle cx="479.5" cy="169.7" r="2.7"/><circle cx="579.0" cy="87.1" r="2.7"/><circle cx="583.2" cy="80.6" r="2.7"/><circle cx="545.9" cy="120.7" r="2.7"/><circle cx="557.6" cy="103.4" r="2.7"/><circle cx="477.2" cy="160.6" r="2.7"/><circle cx="576.4" cy="101.4" r="2.7"/><circle cx="510.5" cy="151.2" r="2.7"/><circle cx="485.8" cy="174.9" r="2.7"/><circle cx="517.5" cy="121.0" r="2.7"/><circle cx="531.4" cy="123.7" r="2.7"/><circle cx="609.8" cy="50.3" r="2.7"/><circle cx="498.6" cy="162.0" r="2.7"/><circle cx="590.0" cy="60.8" r="2.7"/><circle cx="514.3" cy="144.5" r="2.7"/><circle cx="584.5" cy="84.5" r="2.7"/><circle cx="519.3" cy="149.8" r="2.7"/><circle cx="574.5" cy="85.7" r="2.7"/><circle cx="605.5" cy="65.6" r="2.7"/><circle cx="573.4" cy="82.9" r="2.7"/><circle cx="581.7" cy="95.6" r="2.7"/><circle cx="526.2" cy="121.1" r="2.7"/><circle cx="488.6" cy="173.7" r="2.7"/><circle cx="524.0" cy="120.8" r="2.7"/><circle cx="520.8" cy="143.1" r="2.7"/><circle cx="499.4" cy="145.2" r="2.7"/><circle cx="526.2" cy="119.6" r="2.7"/><circle cx="499.9" cy="158.1" r="2.7"/><circle cx="490.6" cy="167.9" r="2.7"/><circle cx="490.2" cy="170.3" r="2.7"/><circle cx="484.7" cy="171.2" r="2.7"/><circle cx="544.1" cy="102.6" r="2.7"/><circle cx="553.2" cy="99.7" r="2.7"/><circle cx="512.9" cy="130.0" r="2.7"/><circle cx="467.8" cy="187.6" r="2.7"/><circle cx="559.4" cy="93.8" r="2.7"/><circle cx="579.2" cy="98.2" r="2.7"/><circle cx="499.5" cy="142.8" r="2.7"/><circle cx="464.4" cy="183.2" r="2.7"/><circle cx="491.2" cy="163.3" r="2.7"/><circle cx="541.2" cy="124.4" r="2.7"/><circle cx="553.0" cy="98.9" r="2.7"/><circle cx="517.2" cy="141.7" r="2.7"/><circle cx="613.6" cy="71.9" r="2.7"/><circle cx="486.4" cy="140.8" r="2.7"/><circle cx="504.1" cy="151.7" r="2.7"/><circle cx="565.5" cy="86.0" r="2.7"/><circle cx="530.4" cy="116.9" r="2.7"/><circle cx="581.4" cy="87.4" r="2.7"/><circle cx="535.8" cy="133.2" r="2.7"/><circle cx="528.9" cy="137.7" r="2.7"/><circle cx="478.6" cy="166.7" r="2.7"/><circle cx="481.9" cy="179.5" r="2.7"/><circle cx="491.2" cy="183.8" r="2.7"/><circle cx="551.7" cy="100.6" r="2.7"/><circle cx="516.2" cy="134.9" r="2.7"/><circle cx="547.5" cy="102.9" r="2.7"/><circle cx="508.6" cy="148.7" r="2.7"/><circle cx="477.1" cy="180.9" r="2.7"/><circle cx="540.3" cy="118.6" r="2.7"/><circle cx="571.4" cy="87.4" r="2.7"/><circle cx="541.2" cy="143.1" r="2.7"/><circle cx="477.0" cy="169.0" r="2.7"/><circle cx="560.7" cy="122.2" r="2.7"/><circle cx="506.6" cy="133.7" r="2.7"/><circle cx="518.9" cy="149.2" r="2.7"/><circle cx="599.4" cy="53.8" r="2.7"/><circle cx="525.3" cy="138.0" r="2.7"/><circle cx="533.9" cy="113.2" r="2.7"/><circle cx="501.4" cy="160.9" r="2.7"/><circle cx="527.5" cy="127.7" r="2.7"/><circle cx="539.1" cy="132.1" r="2.7"/><circle cx="492.5" cy="149.5" r="2.7"/><circle cx="485.1" cy="159.1" r="2.7"/><circle cx="517.3" cy="144.8" r="2.7"/><circle cx="543.2" cy="119.4" r="2.7"/><circle cx="552.2" cy="96.4" r="2.7"/><circle cx="513.9" cy="144.2" r="2.7"/><circle cx="570.2" cy="94.2" r="2.7"/><circle cx="514.4" cy="153.4" r="2.7"/><circle cx="592.8" cy="83.2" r="2.7"/><circle cx="476.1" cy="175.9" r="2.7"/><circle cx="519.4" cy="141.3" r="2.7"/><circle cx="494.9" cy="143.0" r="2.7"/><circle cx="554.8" cy="117.3" r="2.7"/><circle cx="490.2" cy="147.5" r="2.7"/><circle cx="563.3" cy="104.2" r="2.7"/><circle cx="553.8" cy="93.7" r="2.7"/><circle cx="567.2" cy="80.1" r="2.7"/><circle cx="488.5" cy="151.3" r="2.7"/><circle cx="582.8" cy="79.2" r="2.7"/><circle cx="584.5" cy="82.5" r="2.7"/><circle cx="551.5" cy="121.1" r="2.7"/><circle cx="524.6" cy="125.7" r="2.7"/><circle cx="593.3" cy="84.7" r="2.7"/><circle cx="501.8" cy="164.7" r="2.7"/><circle cx="516.4" cy="144.3" r="2.7"/><circle cx="474.2" cy="177.1" r="2.7"/></g>
<g clip-path="url(#clipb)"><line x1="400.60" y1="232.40" x2="678.40" y2="7.60" stroke="#000" stroke-width="1.3"/><line x1="400.60" y1="222.82" x2="678.40" y2="-1.98" stroke="rgb(225,22,28)" stroke-width="1.3" stroke-dasharray="5,6.38"/><line x1="400.60" y1="241.98" x2="678.40" y2="17.18" stroke="rgb(225,22,28)" stroke-width="1.3" stroke-dasharray="5,6.38"/></g>
<line x1="428.38" y1="232.40" x2="428.38" y2="230.40" stroke="#333" stroke-width="1"/>
<line x1="400.60" y1="209.92" x2="402.60" y2="209.92" stroke="#333" stroke-width="1"/>
<line x1="456.16" y1="232.40" x2="456.16" y2="228.40" stroke="#333" stroke-width="1"/>
<line x1="400.60" y1="187.44" x2="404.60" y2="187.44" stroke="#333" stroke-width="1"/>
<line x1="483.94" y1="232.40" x2="483.94" y2="230.40" stroke="#333" stroke-width="1"/>
<line x1="400.60" y1="164.96" x2="402.60" y2="164.96" stroke="#333" stroke-width="1"/>
<line x1="511.72" y1="232.40" x2="511.72" y2="228.40" stroke="#333" stroke-width="1"/>
<line x1="400.60" y1="142.48" x2="404.60" y2="142.48" stroke="#333" stroke-width="1"/>
<line x1="539.50" y1="232.40" x2="539.50" y2="230.40" stroke="#333" stroke-width="1"/>
<line x1="400.60" y1="120.00" x2="402.60" y2="120.00" stroke="#333" stroke-width="1"/>
<line x1="567.28" y1="232.40" x2="567.28" y2="228.40" stroke="#333" stroke-width="1"/>
<line x1="400.60" y1="97.52" x2="404.60" y2="97.52" stroke="#333" stroke-width="1"/>
<line x1="595.06" y1="232.40" x2="595.06" y2="230.40" stroke="#333" stroke-width="1"/>
<line x1="400.60" y1="75.04" x2="402.60" y2="75.04" stroke="#333" stroke-width="1"/>
<line x1="622.84" y1="232.40" x2="622.84" y2="228.40" stroke="#333" stroke-width="1"/>
<line x1="400.60" y1="52.56" x2="404.60" y2="52.56" stroke="#333" stroke-width="1"/>
<line x1="650.62" y1="232.40" x2="650.62" y2="230.40" stroke="#333" stroke-width="1"/>
<line x1="400.60" y1="30.08" x2="402.60" y2="30.08" stroke="#333" stroke-width="1"/>
<line x1="678.40" y1="232.40" x2="678.40" y2="228.40" stroke="#333" stroke-width="1"/>
<line x1="400.60" y1="7.60" x2="404.60" y2="7.60" stroke="#333" stroke-width="1"/>
<rect x="400.60" y="7.60" width="277.80" height="224.80" fill="none" stroke="#666" stroke-width="1.25"/>
<rect x="406.55" y="13.3" width="100.1" height="44.1" fill="#fff" stroke="#7a7a7a" stroke-width="0.9"/>
<circle cx="421.05" cy="21.5" r="2.2" fill="#6aaee0"/>
<line x1="408.25" y1="35.3" x2="434.35" y2="35.3" stroke="#666" stroke-width="0.95"/>
<line x1="407.75" y1="49.45" x2="434.95" y2="49.45" stroke="rgb(225,22,28)" stroke-width="1.5" stroke-dasharray="5,6.38"/>
<text x="437.45" y="25.3" font-size="11.6">Data</text>
<text x="437.45" y="39.3" font-size="11.6">1:1 line</text>
<text x="436.85" y="54.0" font-size="11.75">±1 SD of error</text>
<text x="675.00" y="254.2" font-size="16.0" text-anchor="end">10</text>
<text x="673.15" y="243.6" font-size="10.5">−2</text>
<text x="389.50" y="20.30" font-size="16.0" text-anchor="end">10</text>
<text x="386.60" y="6.80" font-size="10.5">−2</text>
<text x="619.44" y="254.2" font-size="16.0" text-anchor="end">10</text>
<text x="617.59" y="243.6" font-size="10.5">−3</text>
<text x="389.50" y="64.40" font-size="16.0" text-anchor="end">10</text>
<text x="386.60" y="51.60" font-size="10.5">−3</text>
<text x="563.88" y="254.2" font-size="16.0" text-anchor="end">10</text>
<text x="562.03" y="243.6" font-size="10.5">−4</text>
<text x="389.50" y="108.80" font-size="16.0" text-anchor="end">10</text>
<text x="386.60" y="96.30" font-size="10.5">−4</text>
<text x="508.32" y="254.2" font-size="16.0" text-anchor="end">10</text>
<text x="506.47" y="243.6" font-size="10.5">−5</text>
<text x="389.50" y="153.50" font-size="16.0" text-anchor="end">10</text>
<text x="386.60" y="141.20" font-size="10.5">−5</text>
<text x="452.76" y="254.2" font-size="16.0" text-anchor="end">10</text>
<text x="450.91" y="243.6" font-size="10.5">−6</text>
<text x="389.50" y="198.00" font-size="16.0" text-anchor="end">10</text>
<text x="386.60" y="185.60" font-size="10.5">−6</text>
<text x="397.20" y="254.2" font-size="16.0" text-anchor="end">10</text>
<text x="395.35" y="243.6" font-size="10.5">−7</text>
<text x="389.50" y="241.70" font-size="16.0" text-anchor="end">10</text>
<text x="386.60" y="230.90" font-size="10.5">−7</text>
<text x="611.00" y="196.4" font-size="14.6">Test set</text>
<text x="611.00" y="214.9" font-size="14.6">σ =0.213</text>
<text x="186.70" y="270.0" font-size="15.4" text-anchor="middle">True MDR</text>
<text transform="translate(15.45,128.85) rotate(-90)" font-size="15.2" text-anchor="middle">Predicted MDR</text>
<text x="539.40" y="269.4" font-size="15.4" text-anchor="middle">True MDR</text>
<text transform="translate(367.60,128.85) rotate(-90)" font-size="15.2" text-anchor="middle">Predicted MDR</text>
<text x="-0.2" y="11.7" font-size="14.5">(a)</text>
<text x="354.05" y="12.0" font-size="14.5">(b)</text>
</svg></body></html>
